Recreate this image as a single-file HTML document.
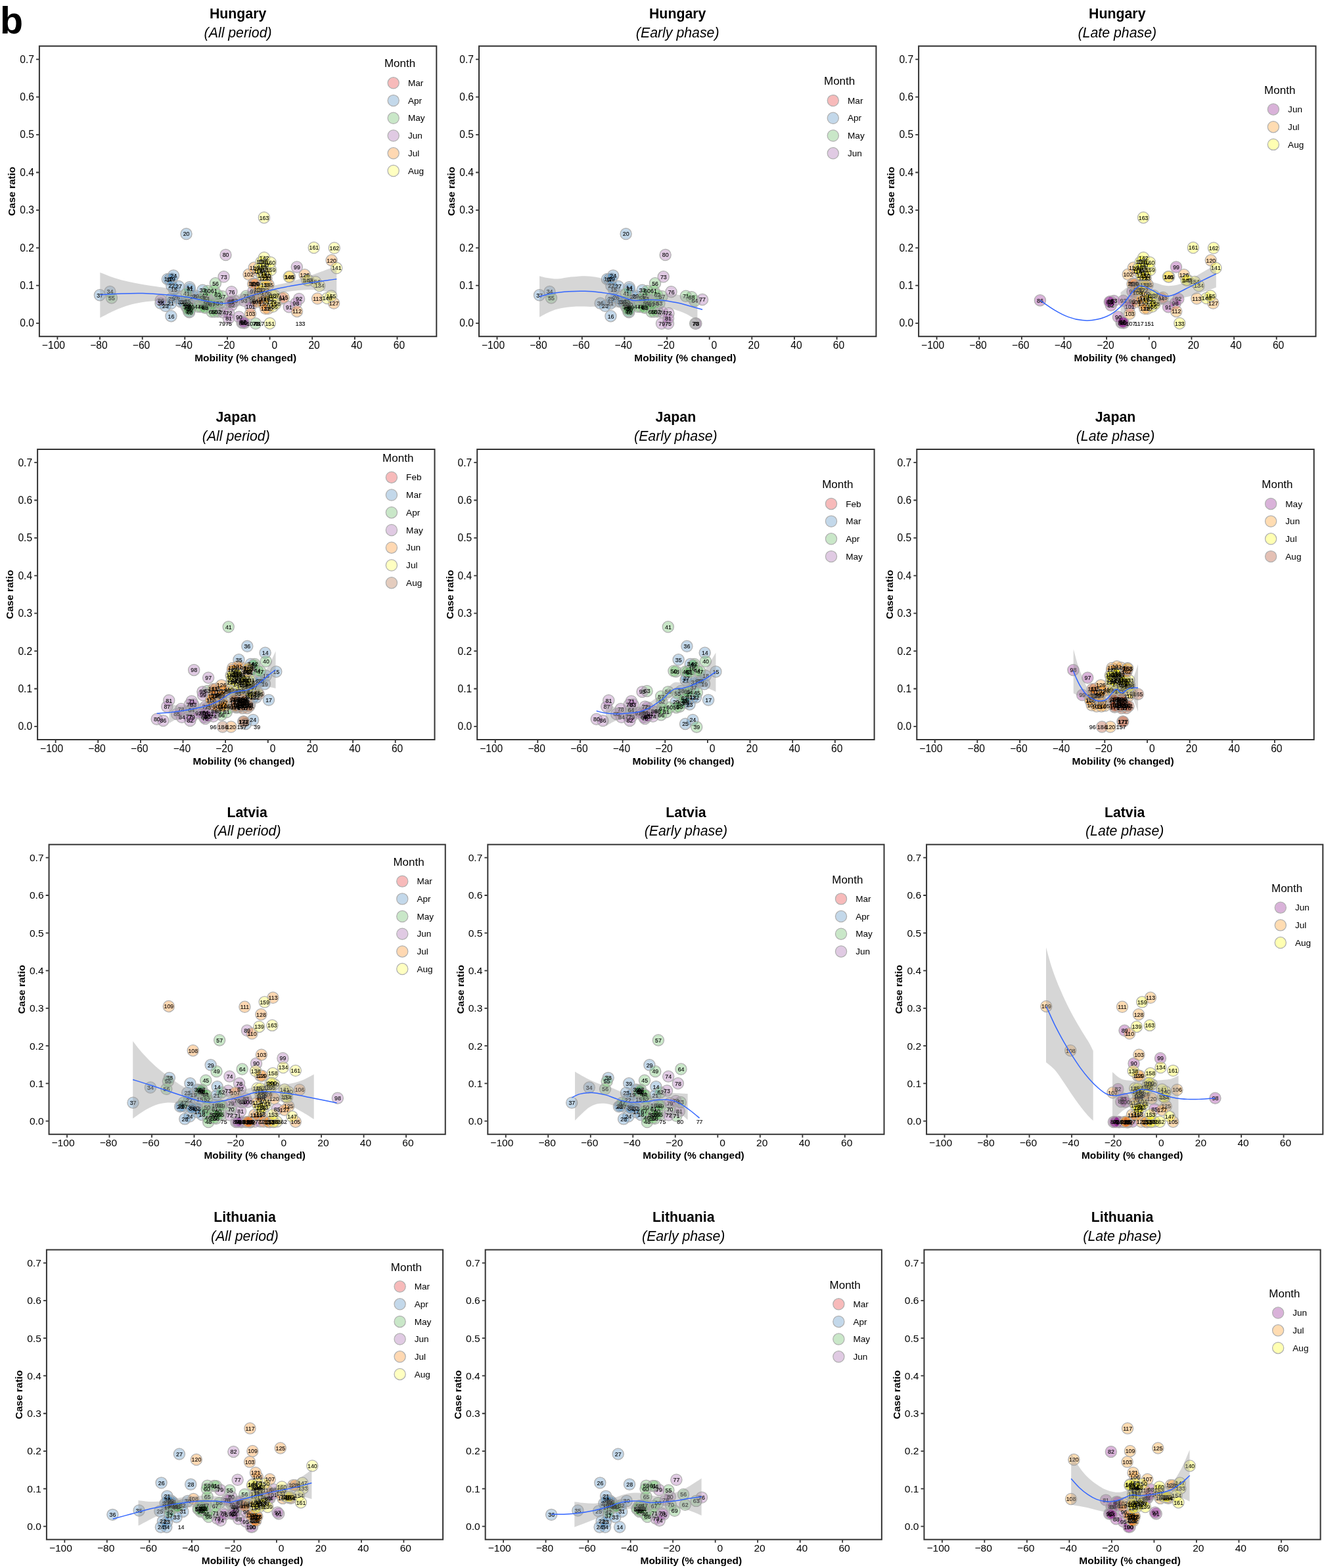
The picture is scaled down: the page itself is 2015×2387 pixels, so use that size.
<!DOCTYPE html>
<html lang="en">
<head>
<meta charset="utf-8">
<title>Mobility and case ratio by country</title>
<style>
html,body{margin:0;padding:0;background:#fff;}
body{width:2015px;height:2387px;overflow:hidden;}
svg{display:block;font-family:"Liberation Sans",Arial,Helvetica,sans-serif;}
.ttl{font-size:21.3px;font-weight:bold;text-anchor:middle;fill:#000;}
.sub{font-size:21.3px;font-style:italic;text-anchor:middle;fill:#000;}
.at{font-size:15.5px;font-weight:bold;text-anchor:middle;fill:#000;}
.yl text{font-size:15.6px;text-anchor:end;fill:#000;}
.xl text{font-size:15.6px;text-anchor:end;fill:#000;}
.lt{font-size:17px;fill:#000;}
.ll text{font-size:13.6px;fill:#000;}
.lab text{font-size:9.6px;text-anchor:middle;fill:#000;stroke:#000;stroke-width:.12px;}
.pts circle{stroke:#b0b0b0;stroke-width:1.25;}
.fr{fill:none;stroke:#333;stroke-width:2;}
.tk{fill:none;stroke:#333;stroke-width:1.8;}
.rib{fill:#999;fill-opacity:.4;stroke:none;}
.sm{fill:none;stroke:#3366FF;stroke-width:1.5;stroke-linejoin:round;}
.big{font-size:57.4px;font-weight:bold;fill:#000;}
</style>
</head>
<body>
<svg width="2015" height="2387" viewBox="0 0 2015 2387">
<rect width="2015" height="2387" fill="#fff"/>
<text class="big" x="0" y="50.8">b</text>

<g class="row" transform="translate(59.9 70.2)">
<g class="panel">
<text class="ttl" x="302.2" y="-42.2">Hungary</text>
<text class="sub" x="302.2" y="-13.3">(All period)</text>
<g class="pts" fill-opacity="0.3">
<circle cx="221.8" cy="392.4" r="8.6" fill="#377EB8"/>
<circle cx="223.6" cy="396" r="8.6" fill="#377EB8"/>
<circle cx="228.6" cy="367" r="8.6" fill="#377EB8"/>
<circle cx="205" cy="370.2" r="8.6" fill="#377EB8"/>
<circle cx="200.5" cy="411" r="8.6" fill="#377EB8"/>
<circle cx="198.2" cy="355" r="8.6" fill="#377EB8"/>
<circle cx="195" cy="354.7" r="8.6" fill="#377EB8"/>
<circle cx="201.6" cy="354.3" r="8.6" fill="#377EB8"/>
<circle cx="223.6" cy="285.9" r="8.6" fill="#377EB8"/>
<circle cx="200" cy="391.9" r="8.6" fill="#377EB8"/>
<circle cx="201.4" cy="364.7" r="8.6" fill="#377EB8"/>
<circle cx="191.9" cy="395.6" r="8.6" fill="#377EB8"/>
<circle cx="204.1" cy="349.3" r="8.6" fill="#377EB8"/>
<circle cx="200.9" cy="384.2" r="8.6" fill="#377EB8"/>
<circle cx="208.6" cy="382.9" r="8.6" fill="#377EB8"/>
<circle cx="212" cy="365.7" r="8.6" fill="#377EB8"/>
<circle cx="234.5" cy="381.5" r="8.6" fill="#377EB8"/>
<circle cx="238.1" cy="380.6" r="8.6" fill="#377EB8"/>
<circle cx="229.1" cy="393.3" r="8.6" fill="#377EB8"/>
<circle cx="229.1" cy="369.7" r="8.6" fill="#377EB8"/>
<circle cx="215.5" cy="389.2" r="8.6" fill="#377EB8"/>
<circle cx="248.5" cy="371.5" r="8.6" fill="#377EB8"/>
<circle cx="107.5" cy="373.9" r="8.6" fill="#377EB8"/>
<circle cx="225.4" cy="388.7" r="8.6" fill="#377EB8"/>
<circle cx="184.6" cy="391.5" r="8.6" fill="#377EB8"/>
<circle cx="92" cy="379.1" r="8.6" fill="#377EB8"/>
<circle cx="219.1" cy="389.6" r="8.6" fill="#377EB8"/>
<circle cx="230.9" cy="397.4" r="8.6" fill="#377EB8"/>
<circle cx="228.2" cy="405.1" r="8.6" fill="#377EB8"/>
<circle cx="224" cy="376.5" r="8.6" fill="#4DAF4A"/>
<circle cx="251.7" cy="379.3" r="8.6" fill="#4DAF4A"/>
<circle cx="224.5" cy="393.3" r="8.6" fill="#4DAF4A"/>
<circle cx="226.8" cy="396.5" r="8.6" fill="#4DAF4A"/>
<circle cx="225.4" cy="399.2" r="8.6" fill="#4DAF4A"/>
<circle cx="229.1" cy="400.6" r="8.6" fill="#4DAF4A"/>
<circle cx="240.9" cy="396.5" r="8.6" fill="#4DAF4A"/>
<circle cx="245.8" cy="396.9" r="8.6" fill="#4DAF4A"/>
<circle cx="227.2" cy="403.7" r="8.6" fill="#4DAF4A"/>
<circle cx="266.7" cy="404.2" r="8.6" fill="#4DAF4A"/>
<circle cx="254.5" cy="391" r="8.6" fill="#4DAF4A"/>
<circle cx="271.7" cy="404.2" r="8.6" fill="#4DAF4A"/>
<circle cx="274.4" cy="391.5" r="8.6" fill="#4DAF4A"/>
<circle cx="254" cy="384" r="8.6" fill="#4DAF4A"/>
<circle cx="110" cy="383.2" r="8.6" fill="#4DAF4A"/>
<circle cx="268" cy="361.1" r="8.6" fill="#4DAF4A"/>
<circle cx="278.5" cy="381" r="8.6" fill="#4DAF4A"/>
<circle cx="268.5" cy="391" r="8.6" fill="#4DAF4A"/>
<circle cx="248.1" cy="383.8" r="8.6" fill="#4DAF4A"/>
<circle cx="255.8" cy="372.9" r="8.6" fill="#4DAF4A"/>
<circle cx="265.8" cy="372" r="8.6" fill="#4DAF4A"/>
<circle cx="271.2" cy="378.8" r="8.6" fill="#4DAF4A"/>
<circle cx="252.6" cy="398.3" r="8.6" fill="#4DAF4A"/>
<circle cx="328.3" cy="387.8" r="8.6" fill="#4DAF4A"/>
<circle cx="258.1" cy="391.9" r="8.6" fill="#4DAF4A"/>
<circle cx="262.6" cy="404.2" r="8.6" fill="#4DAF4A"/>
<circle cx="262.6" cy="393.3" r="8.6" fill="#4DAF4A"/>
<circle cx="323.4" cy="382" r="8.6" fill="#4DAF4A"/>
<circle cx="251.3" cy="397.8" r="8.6" fill="#4DAF4A"/>
<circle cx="329.1" cy="422.4" r="8.6" fill="#4DAF4A"/>
<circle cx="314.8" cy="380.6" r="8.6" fill="#4DAF4A"/>
<circle cx="288.5" cy="406.9" r="8.6" fill="#984EA3"/>
<circle cx="280.7" cy="351.1" r="8.6" fill="#984EA3"/>
<circle cx="278.9" cy="405.1" r="8.6" fill="#984EA3"/>
<circle cx="292.5" cy="374" r="8.6" fill="#984EA3"/>
<circle cx="340" cy="385.9" r="8.6" fill="#984EA3"/>
<circle cx="283.6" cy="317.8" r="8.6" fill="#984EA3"/>
<circle cx="288" cy="414.6" r="8.6" fill="#984EA3"/>
<circle cx="292.6" cy="394.5" r="8.6" fill="#984EA3"/>
<circle cx="297.2" cy="387.9" r="8.6" fill="#984EA3"/>
<circle cx="308.6" cy="421" r="8.6" fill="#984EA3"/>
<circle cx="292.1" cy="388.9" r="8.6" fill="#984EA3"/>
<circle cx="184.8" cy="387" r="8.6" fill="#984EA3"/>
<circle cx="309.4" cy="419.5" r="8.6" fill="#984EA3"/>
<circle cx="290.6" cy="389.4" r="8.6" fill="#984EA3"/>
<circle cx="312" cy="421.5" r="8.6" fill="#984EA3"/>
<circle cx="303.8" cy="412.3" r="8.6" fill="#984EA3"/>
<circle cx="379.9" cy="397.1" r="8.6" fill="#984EA3"/>
<circle cx="395.2" cy="384.8" r="8.6" fill="#984EA3"/>
<circle cx="311.5" cy="387.6" r="8.6" fill="#984EA3"/>
<circle cx="369.1" cy="384.3" r="8.6" fill="#984EA3"/>
<circle cx="311" cy="420.5" r="8.6" fill="#984EA3"/>
<circle cx="324.8" cy="388.2" r="8.6" fill="#984EA3"/>
<circle cx="325.3" cy="373.6" r="8.6" fill="#984EA3"/>
<circle cx="390.6" cy="391.4" r="8.6" fill="#984EA3"/>
<circle cx="391.9" cy="336.3" r="8.6" fill="#984EA3"/>
<circle cx="327.3" cy="361.3" r="8.6" fill="#984EA3"/>
<circle cx="321.2" cy="396.5" r="8.6" fill="#984EA3"/>
<circle cx="318.6" cy="347.6" r="8.6" fill="#FF7F00"/>
<circle cx="321.2" cy="407.3" r="8.6" fill="#FF7F00"/>
<circle cx="325.3" cy="361.9" r="8.6" fill="#FF7F00"/>
<circle cx="381.1" cy="351.1" r="8.6" fill="#FF7F00"/>
<circle cx="332.9" cy="375.1" r="8.6" fill="#FF7F00"/>
<circle cx="330.9" cy="389.4" r="8.6" fill="#FF7F00"/>
<circle cx="345.2" cy="377.1" r="8.6" fill="#FF7F00"/>
<circle cx="348.2" cy="399.6" r="8.6" fill="#FF7F00"/>
<circle cx="339" cy="385.3" r="8.6" fill="#FF7F00"/>
<circle cx="392.1" cy="403.7" r="8.6" fill="#FF7F00"/>
<circle cx="423.2" cy="384.3" r="8.6" fill="#FF7F00"/>
<circle cx="326.8" cy="337.4" r="8.6" fill="#FF7F00"/>
<circle cx="371.7" cy="382.8" r="8.6" fill="#FF7F00"/>
<circle cx="332.9" cy="342.5" r="8.6" fill="#FF7F00"/>
<circle cx="341.6" cy="340.9" r="8.6" fill="#FF7F00"/>
<circle cx="328.8" cy="362.3" r="8.6" fill="#FF7F00"/>
<circle cx="444.7" cy="326.1" r="8.6" fill="#FF7F00"/>
<circle cx="344.2" cy="345.5" r="8.6" fill="#FF7F00"/>
<circle cx="342.1" cy="371.5" r="8.6" fill="#FF7F00"/>
<circle cx="345.7" cy="353.7" r="8.6" fill="#FF7F00"/>
<circle cx="341.6" cy="353.7" r="8.6" fill="#FF7F00"/>
<circle cx="348.7" cy="363.4" r="8.6" fill="#FF7F00"/>
<circle cx="403.8" cy="348.1" r="8.6" fill="#FF7F00"/>
<circle cx="448.2" cy="391.4" r="8.6" fill="#FF7F00"/>
<circle cx="343.1" cy="383.3" r="8.6" fill="#FF7F00"/>
<circle cx="353.3" cy="389.4" r="8.6" fill="#FF7F00"/>
<circle cx="341.1" cy="392.5" r="8.6" fill="#FF7F00"/>
<circle cx="344.2" cy="399.6" r="8.6" fill="#FF7F00"/>
<circle cx="333.9" cy="370" r="8.6" fill="#FF7F00"/>
<circle cx="426.3" cy="364.9" r="8.6" fill="#FFFF33"/>
<circle cx="344.2" cy="363.4" r="8.6" fill="#FFFF33"/>
<circle cx="340" cy="328.2" r="8.6" fill="#FFFF33"/>
<circle cx="337" cy="371.1" r="8.6" fill="#FFFF33"/>
<circle cx="337.5" cy="328.7" r="8.6" fill="#FFFF33"/>
<circle cx="339" cy="336.3" r="8.6" fill="#FFFF33"/>
<circle cx="379.9" cy="351.1" r="8.6" fill="#FFFF33"/>
<circle cx="452.3" cy="337.9" r="8.6" fill="#FFFF33"/>
<circle cx="342.1" cy="322" r="8.6" fill="#FFFF33"/>
<circle cx="409.4" cy="356.2" r="8.6" fill="#FFFF33"/>
<circle cx="337" cy="343.5" r="8.6" fill="#FFFF33"/>
<circle cx="339" cy="349.1" r="8.6" fill="#FFFF33"/>
<circle cx="333.9" cy="338.4" r="8.6" fill="#FFFF33"/>
<circle cx="343.1" cy="333.3" r="8.6" fill="#FFFF33"/>
<circle cx="438" cy="383.8" r="8.6" fill="#FFFF33"/>
<circle cx="407.4" cy="356.2" r="8.6" fill="#FFFF33"/>
<circle cx="345.2" cy="349.1" r="8.6" fill="#FFFF33"/>
<circle cx="350.8" cy="422" r="8.6" fill="#FFFF33"/>
<circle cx="354.9" cy="380" r="8.6" fill="#FFFF33"/>
<circle cx="349.3" cy="385.3" r="8.6" fill="#FFFF33"/>
<circle cx="420.2" cy="358.8" r="8.6" fill="#FFFF33"/>
<circle cx="444.2" cy="380.2" r="8.6" fill="#FFFF33"/>
<circle cx="355.4" cy="396.5" r="8.6" fill="#FFFF33"/>
<circle cx="357.9" cy="379.7" r="8.6" fill="#FFFF33"/>
<circle cx="359.4" cy="392.5" r="8.6" fill="#FFFF33"/>
<circle cx="352.3" cy="340.9" r="8.6" fill="#FFFF33"/>
<circle cx="351.8" cy="329.2" r="8.6" fill="#FFFF33"/>
<circle cx="417.8" cy="306.9" r="8.6" fill="#FFFF33"/>
<circle cx="448.9" cy="307.3" r="8.6" fill="#FFFF33"/>
<circle cx="342" cy="261" r="8.6" fill="#FFFF33"/>
</g>
<g class="lab" transform="scale(0.92 1)">
<text x="241.2" y="395.8">12</text>
<text x="243.1" y="399.4">13</text>
<text x="248.6" y="370.4">14</text>
<text x="222.9" y="373.6">15</text>
<text x="218" y="414.4">16</text>
<text x="215.6" y="358.4">17</text>
<text x="212.1" y="358.1">18</text>
<text x="219.3" y="357.7">19</text>
<text x="243.1" y="289.3">20</text>
<text x="217.5" y="395.3">21</text>
<text x="219" y="368.1">22</text>
<text x="208.6" y="399">23</text>
<text x="222" y="352.7">24</text>
<text x="218.5" y="387.6">25</text>
<text x="226.9" y="386.3">26</text>
<text x="230.5" y="369.1">27</text>
<text x="255" y="384.9">28</text>
<text x="258.9" y="384">29</text>
<text x="249.1" y="396.7">30</text>
<text x="249.1" y="373.1">31</text>
<text x="234.3" y="392.6">32</text>
<text x="270.3" y="374.9">33</text>
<text x="117" y="377.3">34</text>
<text x="245.1" y="392.1">35</text>
<text x="200.8" y="394.9">36</text>
<text x="100.2" y="382.5">37</text>
<text x="238.2" y="393">38</text>
<text x="251.1" y="400.8">39</text>
<text x="248.1" y="408.5">40</text>
<text x="243.6" y="379.9">41</text>
<text x="273.7" y="382.7">42</text>
<text x="244.1" y="396.7">43</text>
<text x="246.6" y="399.9">44</text>
<text x="245.1" y="402.6">45</text>
<text x="249.1" y="404">46</text>
<text x="261.9" y="399.9">47</text>
<text x="267.3" y="400.3">48</text>
<text x="247.1" y="407.1">49</text>
<text x="290" y="407.6">50</text>
<text x="276.7" y="394.4">51</text>
<text x="295.4" y="407.6">52</text>
<text x="298.4" y="394.9">53</text>
<text x="276.2" y="387.4">54</text>
<text x="119.6" y="386.6">55</text>
<text x="291.5" y="364.5">56</text>
<text x="302.8" y="384.4">57</text>
<text x="292" y="394.4">58</text>
<text x="269.8" y="387.2">59</text>
<text x="278.2" y="376.3">60</text>
<text x="289" y="375.4">61</text>
<text x="294.9" y="382.2">62</text>
<text x="274.7" y="401.7">63</text>
<text x="356.9" y="391.2">64</text>
<text x="280.6" y="395.3">65</text>
<text x="285.6" y="407.6">66</text>
<text x="285.6" y="396.7">67</text>
<text x="351.6" y="385.4">68</text>
<text x="273.2" y="401.2">69</text>
<text x="357.8" y="425.8">70</text>
<text x="342.3" y="384">71</text>
<text x="313.7" y="410.3">72</text>
<text x="305.3" y="354.5">73</text>
<text x="303.3" y="408.5">74</text>
<text x="313.2" y="425.7">75</text>
<text x="318.1" y="377.4">76</text>
<text x="369.6" y="389.3">77</text>
<text x="359.3" y="425.8">78</text>
<text x="302.3" y="425.7">79</text>
<text x="308.4" y="321.2">80</text>
<text x="313.2" y="418">81</text>
<text x="318.2" y="397.9">82</text>
<text x="323.1" y="391.3">83</text>
<text x="335.6" y="424.4">84</text>
<text x="317.6" y="392.3">85</text>
<text x="201" y="390.4">86</text>
<text x="336.5" y="422.9">87</text>
<text x="315.9" y="392.8">88</text>
<text x="339.2" y="424.9">89</text>
<text x="330.4" y="415.7">90</text>
<text x="413" y="400.5">91</text>
<text x="429.6" y="388.2">92</text>
<text x="338.7" y="391">93</text>
<text x="401.3" y="387.7">94</text>
<text x="338.1" y="423.9">95</text>
<text x="353.1" y="391.6">96</text>
<text x="353.7" y="377">97</text>
<text x="424.6" y="394.8">98</text>
<text x="426.1" y="339.7">99</text>
<text x="355.9" y="364.7">100</text>
<text x="349.2" y="399.9">101</text>
<text x="346.4" y="351">102</text>
<text x="349.2" y="410.7">103</text>
<text x="353.7" y="365.3">104</text>
<text x="414.3" y="354.5">105</text>
<text x="362" y="378.5">106</text>
<text x="350.9" y="425.4">107</text>
<text x="359.7" y="392.8">108</text>
<text x="375.3" y="380.5">109</text>
<text x="378.6" y="403">110</text>
<text x="368.6" y="388.7">111</text>
<text x="426.3" y="407.1">112</text>
<text x="460.2" y="387.7">113</text>
<text x="355.3" y="340.8">114</text>
<text x="404.1" y="386.2">115</text>
<text x="362" y="345.9">116</text>
<text x="364.7" y="425.4">117</text>
<text x="371.4" y="344.3">118</text>
<text x="357.5" y="365.7">119</text>
<text x="483.4" y="329.5">120</text>
<text x="374.2" y="348.9">121</text>
<text x="372" y="374.9">122</text>
<text x="375.8" y="357.1">123</text>
<text x="371.4" y="357.1">124</text>
<text x="379.2" y="366.8">125</text>
<text x="439.1" y="351.5">126</text>
<text x="487.3" y="394.8">127</text>
<text x="373.1" y="386.7">128</text>
<text x="384.2" y="392.8">129</text>
<text x="370.8" y="395.9">130</text>
<text x="374.2" y="403">131</text>
<text x="363.1" y="373.4">132</text>
<text x="431.8" y="425.4">133</text>
<text x="463.5" y="368.3">134</text>
<text x="374.2" y="366.8">135</text>
<text x="369.7" y="331.6">136</text>
<text x="366.4" y="374.5">137</text>
<text x="367" y="332.1">138</text>
<text x="368.6" y="339.7">139</text>
<text x="413" y="354.5">140</text>
<text x="491.7" y="341.3">141</text>
<text x="372" y="325.4">142</text>
<text x="445.2" y="359.6">143</text>
<text x="366.4" y="346.9">144</text>
<text x="368.6" y="352.5">145</text>
<text x="363.1" y="341.8">146</text>
<text x="373.1" y="336.7">147</text>
<text x="476.2" y="387.2">148</text>
<text x="442.9" y="359.6">149</text>
<text x="375.3" y="352.5">150</text>
<text x="381.4" y="425.4">151</text>
<text x="385.8" y="383.4">152</text>
<text x="379.7" y="388.7">153</text>
<text x="456.8" y="362.2">154</text>
<text x="482.9" y="383.6">155</text>
<text x="386.4" y="399.9">156</text>
<text x="389.2" y="383.1">157</text>
<text x="390.8" y="395.9">158</text>
<text x="383" y="344.3">159</text>
<text x="382.5" y="332.6">160</text>
<text x="454.3" y="310.3">161</text>
<text x="488" y="310.7">162</text>
<text x="371.9" y="264.4">163</text>
</g>
<path class="rib" d="M92.4 344.6C96 346 106.8 350.5 114 352.8C121.1 355.1 128.3 356.9 135.5 358.6C142.7 360.3 149.9 361.6 157 362.9C164.2 364.2 171.4 365 178.6 366.1C185.8 367.2 191.2 368 200.1 369.4C209.1 370.8 221.7 372.8 232.5 374.7C243.2 376.7 256.5 379.8 264.7 381.2C273 382.6 276.6 383.5 282 383.3C287.4 383.2 291 381.8 297.1 380.1C303.2 378.4 311.4 375 318.6 373C325.8 371 333 369.4 340.1 367.8C347.3 366.3 354.5 365.1 361.7 363.5C368.9 362 374.3 361.1 383.2 358.6C392.2 356.1 406.1 351.6 415.5 348.4C425 345.2 434 341.5 440.1 339.4C446.3 337.3 450.3 336.6 452.4 336L452.4 377.3C450.3 376.8 446.3 375.4 440.1 374.3C434 373.3 425 371.1 415.5 370.9C406.1 370.7 392.2 372 383.2 373C374.3 374 368.9 375.3 361.7 376.9C354.5 378.6 347.3 380.6 340.1 382.9C333 385.3 325.8 388.4 318.6 390.9C311.4 393.4 303.2 396.5 297.1 398C291 399.6 287.4 400.1 282 400.2C276.6 400.2 273 399.6 264.7 398.4C256.5 397.2 243.2 394.7 232.5 393C221.7 391.4 209.1 389.6 200.1 388.7C191.2 387.8 185.8 387.5 178.6 387.7C171.4 387.9 164.2 388.7 157 389.8C149.9 391 142.7 392.4 135.5 394.6C128.3 396.7 121.1 399.6 114 402.7C106.8 405.9 96 411.7 92.4 413.5Z"/>
<path class="sm" d="M92.4 378.6C97.8 378.3 114 377.3 124.7 376.9C135.5 376.5 146.3 376.2 157 376.4C167.8 376.7 178.6 377.3 189.3 378.2C200.1 379 212.7 380.3 221.7 381.6C230.6 382.9 236 384.5 243.2 385.9C250.4 387.3 258.3 388.9 264.7 389.8C271.2 390.8 276.6 391.7 282 391.5C287.4 391.4 291 390.5 297.1 388.7C303.2 387 311.4 383.5 318.6 381.2C325.8 378.9 333 376.7 340.1 374.7C347.3 372.8 354.5 371 361.7 369.4C368.9 367.8 374.3 366.6 383.2 365C392.2 363.4 406.1 361.1 415.5 359.7C425 358.2 434 357.3 440.1 356.4C446.3 355.6 450.3 354.8 452.4 354.5"/>
<rect class="fr" x="0" y="0" width="604.4" height="442"/>
<path class="tk" d="M-0.7 421.9h-4.2M-0.7 364.5h-4.2M-0.7 307.1h-4.2M-0.7 249.7h-4.2M-0.7 192.3h-4.2M-0.7 134.9h-4.2M-0.7 77.5h-4.2M-0.7 20.1h-4.2M27.5 442.7v4.2M92.1 442.7v4.2M156.8 442.7v4.2M221.4 442.7v4.2M286 442.7v4.2M350.7 442.7v4.2M415.3 442.7v4.2M480 442.7v4.2M544.6 442.7v4.2"/>
<g class="yl">
<text x="-8" y="427.3">0.0</text>
<text x="-8" y="369.9">0.1</text>
<text x="-8" y="312.5">0.2</text>
<text x="-8" y="255.1">0.3</text>
<text x="-8" y="197.7">0.4</text>
<text x="-8" y="140.3">0.5</text>
<text x="-8" y="82.9">0.6</text>
<text x="-8" y="25.5">0.7</text>
</g>
<g class="xl">
<text x="39.1" y="460.6">−100</text>
<text x="103.7" y="460.6">−80</text>
<text x="168.4" y="460.6">−60</text>
<text x="233" y="460.6">−40</text>
<text x="297.6" y="460.6">−20</text>
<text x="362.3" y="460.6">0</text>
<text x="426.9" y="460.6">20</text>
<text x="491.6" y="460.6">40</text>
<text x="556.2" y="460.6">60</text>
</g>
<text class="at" x="313.8" y="479.8">Mobility (% changed)</text>
<text class="at" transform="translate(-36.7 221) rotate(-90)">Case ratio</text>
<text class="lt" x="525" y="32.3">Month</text>
<g class="pts" fill-opacity="0.3">
<circle cx="538.8" cy="56.1" r="8.6" fill="#E41A1C"/>
<circle cx="538.8" cy="82.9" r="8.6" fill="#377EB8"/>
<circle cx="538.8" cy="109.6" r="8.6" fill="#4DAF4A"/>
<circle cx="538.8" cy="136.3" r="8.6" fill="#984EA3"/>
<circle cx="538.8" cy="163.1" r="8.6" fill="#FF7F00"/>
<circle cx="538.8" cy="189.8" r="8.6" fill="#FFFF33"/>
</g>
<g class="ll">
<text x="561" y="60.8">Mar</text>
<text x="561" y="87.6">Apr</text>
<text x="561" y="114.3">May</text>
<text x="561" y="141">Jun</text>
<text x="561" y="167.8">Jul</text>
<text x="561" y="194.5">Aug</text>
</g>
</g>
<g class="panel">
<text class="ttl" x="971.3" y="-42.2">Hungary</text>
<text class="sub" x="971.3" y="-13.3">(Early phase)</text>
<g class="pts" fill-opacity="0.3">
<circle cx="890.9" cy="392.4" r="8.6" fill="#377EB8"/>
<circle cx="892.7" cy="396" r="8.6" fill="#377EB8"/>
<circle cx="897.7" cy="367" r="8.6" fill="#377EB8"/>
<circle cx="874.1" cy="370.2" r="8.6" fill="#377EB8"/>
<circle cx="869.6" cy="411" r="8.6" fill="#377EB8"/>
<circle cx="867.3" cy="355" r="8.6" fill="#377EB8"/>
<circle cx="864.1" cy="354.7" r="8.6" fill="#377EB8"/>
<circle cx="870.7" cy="354.3" r="8.6" fill="#377EB8"/>
<circle cx="892.7" cy="285.9" r="8.6" fill="#377EB8"/>
<circle cx="869.1" cy="391.9" r="8.6" fill="#377EB8"/>
<circle cx="870.5" cy="364.7" r="8.6" fill="#377EB8"/>
<circle cx="861" cy="395.6" r="8.6" fill="#377EB8"/>
<circle cx="873.2" cy="349.3" r="8.6" fill="#377EB8"/>
<circle cx="870" cy="384.2" r="8.6" fill="#377EB8"/>
<circle cx="877.7" cy="382.9" r="8.6" fill="#377EB8"/>
<circle cx="881.1" cy="365.7" r="8.6" fill="#377EB8"/>
<circle cx="903.6" cy="381.5" r="8.6" fill="#377EB8"/>
<circle cx="907.2" cy="380.6" r="8.6" fill="#377EB8"/>
<circle cx="898.2" cy="393.3" r="8.6" fill="#377EB8"/>
<circle cx="898.2" cy="369.7" r="8.6" fill="#377EB8"/>
<circle cx="884.6" cy="389.2" r="8.6" fill="#377EB8"/>
<circle cx="917.6" cy="371.5" r="8.6" fill="#377EB8"/>
<circle cx="776.6" cy="373.9" r="8.6" fill="#377EB8"/>
<circle cx="894.5" cy="388.7" r="8.6" fill="#377EB8"/>
<circle cx="853.7" cy="391.5" r="8.6" fill="#377EB8"/>
<circle cx="761.1" cy="379.1" r="8.6" fill="#377EB8"/>
<circle cx="888.2" cy="389.6" r="8.6" fill="#377EB8"/>
<circle cx="900" cy="397.4" r="8.6" fill="#377EB8"/>
<circle cx="897.3" cy="405.1" r="8.6" fill="#377EB8"/>
<circle cx="893.1" cy="376.5" r="8.6" fill="#4DAF4A"/>
<circle cx="920.8" cy="379.3" r="8.6" fill="#4DAF4A"/>
<circle cx="893.6" cy="393.3" r="8.6" fill="#4DAF4A"/>
<circle cx="895.9" cy="396.5" r="8.6" fill="#4DAF4A"/>
<circle cx="894.5" cy="399.2" r="8.6" fill="#4DAF4A"/>
<circle cx="898.2" cy="400.6" r="8.6" fill="#4DAF4A"/>
<circle cx="910" cy="396.5" r="8.6" fill="#4DAF4A"/>
<circle cx="914.9" cy="396.9" r="8.6" fill="#4DAF4A"/>
<circle cx="896.3" cy="403.7" r="8.6" fill="#4DAF4A"/>
<circle cx="935.8" cy="404.2" r="8.6" fill="#4DAF4A"/>
<circle cx="923.6" cy="391" r="8.6" fill="#4DAF4A"/>
<circle cx="940.8" cy="404.2" r="8.6" fill="#4DAF4A"/>
<circle cx="943.5" cy="391.5" r="8.6" fill="#4DAF4A"/>
<circle cx="923.1" cy="384" r="8.6" fill="#4DAF4A"/>
<circle cx="779.1" cy="383.2" r="8.6" fill="#4DAF4A"/>
<circle cx="937.1" cy="361.1" r="8.6" fill="#4DAF4A"/>
<circle cx="947.6" cy="381" r="8.6" fill="#4DAF4A"/>
<circle cx="937.6" cy="391" r="8.6" fill="#4DAF4A"/>
<circle cx="917.2" cy="383.8" r="8.6" fill="#4DAF4A"/>
<circle cx="924.9" cy="372.9" r="8.6" fill="#4DAF4A"/>
<circle cx="934.9" cy="372" r="8.6" fill="#4DAF4A"/>
<circle cx="940.3" cy="378.8" r="8.6" fill="#4DAF4A"/>
<circle cx="921.7" cy="398.3" r="8.6" fill="#4DAF4A"/>
<circle cx="997.4" cy="387.8" r="8.6" fill="#4DAF4A"/>
<circle cx="927.2" cy="391.9" r="8.6" fill="#4DAF4A"/>
<circle cx="931.7" cy="404.2" r="8.6" fill="#4DAF4A"/>
<circle cx="931.7" cy="393.3" r="8.6" fill="#4DAF4A"/>
<circle cx="992.5" cy="382" r="8.6" fill="#4DAF4A"/>
<circle cx="920.4" cy="397.8" r="8.6" fill="#4DAF4A"/>
<circle cx="998.2" cy="422.4" r="8.6" fill="#4DAF4A"/>
<circle cx="983.9" cy="380.6" r="8.6" fill="#4DAF4A"/>
<circle cx="957.6" cy="406.9" r="8.6" fill="#984EA3"/>
<circle cx="949.8" cy="351.1" r="8.6" fill="#984EA3"/>
<circle cx="948" cy="405.1" r="8.6" fill="#984EA3"/>
<circle cx="957.1" cy="422.3" r="8.6" fill="#984EA3"/>
<circle cx="961.6" cy="374" r="8.6" fill="#984EA3"/>
<circle cx="1009.1" cy="385.9" r="8.6" fill="#984EA3"/>
<circle cx="999.5" cy="422.4" r="8.6" fill="#984EA3"/>
<circle cx="947.1" cy="422.3" r="8.6" fill="#984EA3"/>
<circle cx="952.7" cy="317.8" r="8.6" fill="#984EA3"/>
<circle cx="957.1" cy="414.6" r="8.6" fill="#984EA3"/>
</g>
<g class="lab" transform="scale(0.92 1)">
<text x="968.5" y="395.8">12</text>
<text x="970.4" y="399.4">13</text>
<text x="975.9" y="370.4">14</text>
<text x="950.2" y="373.6">15</text>
<text x="945.3" y="414.4">16</text>
<text x="942.9" y="358.4">17</text>
<text x="939.4" y="358.1">18</text>
<text x="946.6" y="357.7">19</text>
<text x="970.4" y="289.3">20</text>
<text x="944.8" y="395.3">21</text>
<text x="946.3" y="368.1">22</text>
<text x="935.9" y="399">23</text>
<text x="949.2" y="352.7">24</text>
<text x="945.8" y="387.6">25</text>
<text x="954.2" y="386.3">26</text>
<text x="957.8" y="369.1">27</text>
<text x="982.3" y="384.9">28</text>
<text x="986.2" y="384">29</text>
<text x="976.4" y="396.7">30</text>
<text x="976.4" y="373.1">31</text>
<text x="961.6" y="392.6">32</text>
<text x="997.6" y="374.9">33</text>
<text x="844.2" y="377.3">34</text>
<text x="972.4" y="392.1">35</text>
<text x="928.1" y="394.9">36</text>
<text x="827.4" y="382.5">37</text>
<text x="965.5" y="393">38</text>
<text x="978.3" y="400.8">39</text>
<text x="975.4" y="408.5">40</text>
<text x="970.9" y="379.9">41</text>
<text x="1001" y="382.7">42</text>
<text x="971.4" y="396.7">43</text>
<text x="973.9" y="399.9">44</text>
<text x="972.4" y="402.6">45</text>
<text x="976.4" y="404">46</text>
<text x="989.2" y="399.9">47</text>
<text x="994.6" y="400.3">48</text>
<text x="974.4" y="407.1">49</text>
<text x="1017.3" y="407.6">50</text>
<text x="1004" y="394.4">51</text>
<text x="1022.7" y="407.6">52</text>
<text x="1025.7" y="394.9">53</text>
<text x="1003.5" y="387.4">54</text>
<text x="846.9" y="386.6">55</text>
<text x="1018.7" y="364.5">56</text>
<text x="1030.1" y="384.4">57</text>
<text x="1019.3" y="394.4">58</text>
<text x="997.1" y="387.2">59</text>
<text x="1005.5" y="376.3">60</text>
<text x="1016.3" y="375.4">61</text>
<text x="1022.2" y="382.2">62</text>
<text x="1002" y="401.7">63</text>
<text x="1084.2" y="391.2">64</text>
<text x="1007.9" y="395.3">65</text>
<text x="1012.8" y="407.6">66</text>
<text x="1012.8" y="396.7">67</text>
<text x="1078.9" y="385.4">68</text>
<text x="1000.5" y="401.2">69</text>
<text x="1085.1" y="425.8">70</text>
<text x="1069.5" y="384">71</text>
<text x="1040.9" y="410.3">72</text>
<text x="1032.5" y="354.5">73</text>
<text x="1030.6" y="408.5">74</text>
<text x="1040.4" y="425.7">75</text>
<text x="1045.4" y="377.4">76</text>
<text x="1096.9" y="389.3">77</text>
<text x="1086.5" y="425.8">78</text>
<text x="1029.6" y="425.7">79</text>
<text x="1035.6" y="321.2">80</text>
<text x="1040.4" y="418">81</text>
</g>
<path class="rib" d="M761.1 350C763.1 350.5 768.3 352.1 773 352.8C777.7 353.5 783.4 354.5 789.4 354.3C795.5 354 802.3 352.1 809.1 351.4C816 350.7 824.2 350 830.5 350C836.8 350.1 841.5 350.5 847 351.6C852.4 352.8 856.6 353.6 863.4 356.9C870.3 360.3 881.2 368 888.1 371.7C894.9 375.4 899 378.1 904.5 379.1C910 380.2 914.1 378.6 920.9 378.3C927.8 378 937.4 377.5 945.6 377.5C953.8 377.5 963.4 377.6 970.3 378.3C977.1 379 981.5 380.4 986.7 381.6C991.9 382.8 999 385 1001.5 385.7L1001.5 418.6C999 416.9 991.9 411.4 986.7 408.7C981.5 406 977.1 404.2 970.3 402.2C963.4 400.1 953.8 397.6 945.6 396.4C937.4 395.2 927.8 395.2 920.9 395C914.1 394.9 910 395.2 904.5 395.6C899 395.9 893.6 396.8 888.1 397.2C882.6 397.6 877.1 398.1 871.6 398C866.1 397.9 860.6 396.9 855.2 396.7C849.7 396.5 845.6 396.7 838.8 396.7C831.9 396.7 822.3 396 814.1 396.5C805.9 397.1 796.3 398.4 789.4 400C782.6 401.6 777.7 404.2 773 406.2C768.3 408.3 763.1 411.5 761.1 412.5Z"/>
<path class="sm" d="M761.1 381.3C764.5 380.4 773.7 377.6 781.2 376.3C788.6 375 797.6 374.1 805.8 373.5C814.1 373 822.3 372.8 830.5 373.1C838.7 373.3 847.5 374.1 855.2 375C862.8 375.9 870.2 377.1 876.5 378.6C882.8 380.1 888.3 382.7 893 384.1C897.6 385.5 899.8 386.8 904.5 387.2C909.2 387.6 914.1 386.6 920.9 386.5C927.8 386.5 937.4 386 945.6 386.7C953.8 387.3 963.4 389.3 970.3 390.6C977.1 392 980.2 393 986.7 394.8C993.1 396.5 1005.3 400 1009.1 401"/>
<rect class="fr" x="669.1" y="0" width="604.4" height="442"/>
<path class="tk" d="M668.4 421.9h-4.2M668.4 364.5h-4.2M668.4 307.1h-4.2M668.4 249.7h-4.2M668.4 192.3h-4.2M668.4 134.9h-4.2M668.4 77.5h-4.2M668.4 20.1h-4.2M696.6 442.7v4.2M761.2 442.7v4.2M825.9 442.7v4.2M890.5 442.7v4.2M955.1 442.7v4.2M1019.8 442.7v4.2M1084.4 442.7v4.2M1149.1 442.7v4.2M1213.7 442.7v4.2"/>
<g class="yl">
<text x="661.1" y="427.3">0.0</text>
<text x="661.1" y="369.9">0.1</text>
<text x="661.1" y="312.5">0.2</text>
<text x="661.1" y="255.1">0.3</text>
<text x="661.1" y="197.7">0.4</text>
<text x="661.1" y="140.3">0.5</text>
<text x="661.1" y="82.9">0.6</text>
<text x="661.1" y="25.5">0.7</text>
</g>
<g class="xl">
<text x="708.2" y="460.6">−100</text>
<text x="772.8" y="460.6">−80</text>
<text x="837.5" y="460.6">−60</text>
<text x="902.1" y="460.6">−40</text>
<text x="966.7" y="460.6">−20</text>
<text x="1031.4" y="460.6">0</text>
<text x="1096" y="460.6">20</text>
<text x="1160.7" y="460.6">40</text>
<text x="1225.3" y="460.6">60</text>
</g>
<text class="at" x="982.9" y="479.8">Mobility (% changed)</text>
<text class="at" transform="translate(632.4 221) rotate(-90)">Case ratio</text>
<text class="lt" x="1194.1" y="59.1">Month</text>
<g class="pts" fill-opacity="0.3">
<circle cx="1207.9" cy="82.9" r="8.6" fill="#E41A1C"/>
<circle cx="1207.9" cy="109.6" r="8.6" fill="#377EB8"/>
<circle cx="1207.9" cy="136.3" r="8.6" fill="#4DAF4A"/>
<circle cx="1207.9" cy="163.1" r="8.6" fill="#984EA3"/>
</g>
<g class="ll">
<text x="1230.1" y="87.6">Mar</text>
<text x="1230.1" y="114.3">Apr</text>
<text x="1230.1" y="141">May</text>
<text x="1230.1" y="167.8">Jun</text>
</g>
</g>
<g class="panel">
<text class="ttl" x="1640.4" y="-42.2">Hungary</text>
<text class="sub" x="1640.4" y="-13.3">(Late phase)</text>
<g class="pts" fill-opacity="0.3">
<circle cx="1630.8" cy="394.5" r="8.6" fill="#800080"/>
<circle cx="1635.4" cy="387.9" r="8.6" fill="#800080"/>
<circle cx="1646.8" cy="421" r="8.6" fill="#800080"/>
<circle cx="1630.3" cy="388.9" r="8.6" fill="#800080"/>
<circle cx="1523" cy="387" r="8.6" fill="#800080"/>
<circle cx="1647.6" cy="419.5" r="8.6" fill="#800080"/>
<circle cx="1628.8" cy="389.4" r="8.6" fill="#800080"/>
<circle cx="1650.2" cy="421.5" r="8.6" fill="#800080"/>
<circle cx="1642" cy="412.3" r="8.6" fill="#800080"/>
<circle cx="1718.1" cy="397.1" r="8.6" fill="#800080"/>
<circle cx="1733.4" cy="384.8" r="8.6" fill="#800080"/>
<circle cx="1649.7" cy="387.6" r="8.6" fill="#800080"/>
<circle cx="1707.3" cy="384.3" r="8.6" fill="#800080"/>
<circle cx="1649.2" cy="420.5" r="8.6" fill="#800080"/>
<circle cx="1663" cy="388.2" r="8.6" fill="#800080"/>
<circle cx="1663.5" cy="373.6" r="8.6" fill="#800080"/>
<circle cx="1728.8" cy="391.4" r="8.6" fill="#800080"/>
<circle cx="1730.1" cy="336.3" r="8.6" fill="#800080"/>
<circle cx="1665.5" cy="361.3" r="8.6" fill="#800080"/>
<circle cx="1659.4" cy="396.5" r="8.6" fill="#800080"/>
<circle cx="1656.8" cy="347.6" r="8.6" fill="#FF8C00"/>
<circle cx="1659.4" cy="407.3" r="8.6" fill="#FF8C00"/>
<circle cx="1663.5" cy="361.9" r="8.6" fill="#FF8C00"/>
<circle cx="1719.3" cy="351.1" r="8.6" fill="#FF8C00"/>
<circle cx="1671.1" cy="375.1" r="8.6" fill="#FF8C00"/>
<circle cx="1669.1" cy="389.4" r="8.6" fill="#FF8C00"/>
<circle cx="1683.4" cy="377.1" r="8.6" fill="#FF8C00"/>
<circle cx="1686.4" cy="399.6" r="8.6" fill="#FF8C00"/>
<circle cx="1677.2" cy="385.3" r="8.6" fill="#FF8C00"/>
<circle cx="1730.3" cy="403.7" r="8.6" fill="#FF8C00"/>
<circle cx="1761.4" cy="384.3" r="8.6" fill="#FF8C00"/>
<circle cx="1665" cy="337.4" r="8.6" fill="#FF8C00"/>
<circle cx="1709.9" cy="382.8" r="8.6" fill="#FF8C00"/>
<circle cx="1671.1" cy="342.5" r="8.6" fill="#FF8C00"/>
<circle cx="1679.8" cy="340.9" r="8.6" fill="#FF8C00"/>
<circle cx="1667" cy="362.3" r="8.6" fill="#FF8C00"/>
<circle cx="1782.9" cy="326.1" r="8.6" fill="#FF8C00"/>
<circle cx="1682.4" cy="345.5" r="8.6" fill="#FF8C00"/>
<circle cx="1680.3" cy="371.5" r="8.6" fill="#FF8C00"/>
<circle cx="1683.9" cy="353.7" r="8.6" fill="#FF8C00"/>
<circle cx="1679.8" cy="353.7" r="8.6" fill="#FF8C00"/>
<circle cx="1686.9" cy="363.4" r="8.6" fill="#FF8C00"/>
<circle cx="1742" cy="348.1" r="8.6" fill="#FF8C00"/>
<circle cx="1786.4" cy="391.4" r="8.6" fill="#FF8C00"/>
<circle cx="1681.3" cy="383.3" r="8.6" fill="#FF8C00"/>
<circle cx="1691.5" cy="389.4" r="8.6" fill="#FF8C00"/>
<circle cx="1679.3" cy="392.5" r="8.6" fill="#FF8C00"/>
<circle cx="1682.4" cy="399.6" r="8.6" fill="#FF8C00"/>
<circle cx="1672.1" cy="370" r="8.6" fill="#FF8C00"/>
<circle cx="1735.4" cy="422" r="8.6" fill="#FFFF00"/>
<circle cx="1764.5" cy="364.9" r="8.6" fill="#FFFF00"/>
<circle cx="1682.4" cy="363.4" r="8.6" fill="#FFFF00"/>
<circle cx="1678.2" cy="328.2" r="8.6" fill="#FFFF00"/>
<circle cx="1675.2" cy="371.1" r="8.6" fill="#FFFF00"/>
<circle cx="1675.7" cy="328.7" r="8.6" fill="#FFFF00"/>
<circle cx="1677.2" cy="336.3" r="8.6" fill="#FFFF00"/>
<circle cx="1718.1" cy="351.1" r="8.6" fill="#FFFF00"/>
<circle cx="1790.5" cy="337.9" r="8.6" fill="#FFFF00"/>
<circle cx="1680.3" cy="322" r="8.6" fill="#FFFF00"/>
<circle cx="1747.6" cy="356.2" r="8.6" fill="#FFFF00"/>
<circle cx="1675.2" cy="343.5" r="8.6" fill="#FFFF00"/>
<circle cx="1677.2" cy="349.1" r="8.6" fill="#FFFF00"/>
<circle cx="1672.1" cy="338.4" r="8.6" fill="#FFFF00"/>
<circle cx="1681.3" cy="333.3" r="8.6" fill="#FFFF00"/>
<circle cx="1776.2" cy="383.8" r="8.6" fill="#FFFF00"/>
<circle cx="1745.6" cy="356.2" r="8.6" fill="#FFFF00"/>
<circle cx="1683.4" cy="349.1" r="8.6" fill="#FFFF00"/>
<circle cx="1693.1" cy="380" r="8.6" fill="#FFFF00"/>
<circle cx="1687.5" cy="385.3" r="8.6" fill="#FFFF00"/>
<circle cx="1758.4" cy="358.8" r="8.6" fill="#FFFF00"/>
<circle cx="1782.4" cy="380.2" r="8.6" fill="#FFFF00"/>
<circle cx="1693.6" cy="396.5" r="8.6" fill="#FFFF00"/>
<circle cx="1696.1" cy="379.7" r="8.6" fill="#FFFF00"/>
<circle cx="1697.6" cy="392.5" r="8.6" fill="#FFFF00"/>
<circle cx="1690.5" cy="340.9" r="8.6" fill="#FFFF00"/>
<circle cx="1690" cy="329.2" r="8.6" fill="#FFFF00"/>
<circle cx="1756" cy="306.9" r="8.6" fill="#FFFF00"/>
<circle cx="1787.1" cy="307.3" r="8.6" fill="#FFFF00"/>
<circle cx="1680.2" cy="261" r="8.6" fill="#FFFF00"/>
</g>
<g class="lab" transform="scale(0.92 1)">
<text x="1772.7" y="397.9">82</text>
<text x="1777.7" y="391.3">83</text>
<text x="1790.1" y="424.4">84</text>
<text x="1772.2" y="392.3">85</text>
<text x="1655.5" y="390.4">86</text>
<text x="1791" y="422.9">87</text>
<text x="1770.5" y="392.8">88</text>
<text x="1793.8" y="424.9">89</text>
<text x="1784.9" y="415.7">90</text>
<text x="1867.6" y="400.5">91</text>
<text x="1884.2" y="388.2">92</text>
<text x="1793.2" y="391">93</text>
<text x="1855.9" y="387.7">94</text>
<text x="1792.7" y="423.9">95</text>
<text x="1807.7" y="391.6">96</text>
<text x="1808.2" y="377">97</text>
<text x="1879.2" y="394.8">98</text>
<text x="1880.6" y="339.7">99</text>
<text x="1810.4" y="364.7">100</text>
<text x="1803.8" y="399.9">101</text>
<text x="1801" y="351">102</text>
<text x="1803.8" y="410.7">103</text>
<text x="1808.2" y="365.3">104</text>
<text x="1868.9" y="354.5">105</text>
<text x="1816.5" y="378.5">106</text>
<text x="1805.5" y="425.4">107</text>
<text x="1814.3" y="392.8">108</text>
<text x="1829.8" y="380.5">109</text>
<text x="1833.2" y="403">110</text>
<text x="1823.2" y="388.7">111</text>
<text x="1880.9" y="407.1">112</text>
<text x="1914.7" y="387.7">113</text>
<text x="1809.9" y="340.8">114</text>
<text x="1858.7" y="386.2">115</text>
<text x="1816.5" y="345.9">116</text>
<text x="1819.3" y="425.4">117</text>
<text x="1826" y="344.3">118</text>
<text x="1812.1" y="365.7">119</text>
<text x="1938" y="329.5">120</text>
<text x="1828.8" y="348.9">121</text>
<text x="1826.5" y="374.9">122</text>
<text x="1830.4" y="357.1">123</text>
<text x="1826" y="357.1">124</text>
<text x="1833.7" y="366.8">125</text>
<text x="1893.6" y="351.5">126</text>
<text x="1941.9" y="394.8">127</text>
<text x="1827.6" y="386.7">128</text>
<text x="1838.7" y="392.8">129</text>
<text x="1825.4" y="395.9">130</text>
<text x="1828.8" y="403">131</text>
<text x="1817.7" y="373.4">132</text>
<text x="1886.4" y="425.4">133</text>
<text x="1918" y="368.3">134</text>
<text x="1828.8" y="366.8">135</text>
<text x="1824.3" y="331.6">136</text>
<text x="1821" y="374.5">137</text>
<text x="1821.6" y="332.1">138</text>
<text x="1823.2" y="339.7">139</text>
<text x="1867.6" y="354.5">140</text>
<text x="1946.3" y="341.3">141</text>
<text x="1826.5" y="325.4">142</text>
<text x="1899.7" y="359.6">143</text>
<text x="1821" y="346.9">144</text>
<text x="1823.2" y="352.5">145</text>
<text x="1817.7" y="341.8">146</text>
<text x="1827.6" y="336.7">147</text>
<text x="1930.8" y="387.2">148</text>
<text x="1897.5" y="359.6">149</text>
<text x="1829.8" y="352.5">150</text>
<text x="1836" y="425.4">151</text>
<text x="1840.4" y="383.4">152</text>
<text x="1834.3" y="388.7">153</text>
<text x="1911.4" y="362.2">154</text>
<text x="1937.4" y="383.6">155</text>
<text x="1840.9" y="399.9">156</text>
<text x="1843.7" y="383.1">157</text>
<text x="1845.4" y="395.9">158</text>
<text x="1837.6" y="344.3">159</text>
<text x="1837.1" y="332.6">160</text>
<text x="1908.9" y="310.3">161</text>
<text x="1942.6" y="310.7">162</text>
<text x="1826.4" y="264.4">163</text>
</g>
<path class="rib" d="M1645.6 375.1C1647.3 373.8 1652.4 369.8 1655.8 366.9C1659.2 364 1662.8 359.8 1666 357.7C1669.3 355.7 1672.3 355 1675.2 354.7C1678.1 354.4 1680.6 355 1683.4 355.7C1686.1 356.4 1688.5 357.8 1691.5 358.8C1694.6 359.7 1698.3 360.4 1701.7 361.3C1705.1 362.3 1708.5 363.8 1711.9 364.4C1715.3 365 1718.7 365.1 1722.1 364.9C1725.5 364.7 1729 364.2 1732.4 363.4C1735.8 362.5 1739.1 361.2 1742.5 359.8C1745.9 358.4 1749.3 356.6 1752.7 354.7C1756.2 352.8 1759.6 350.6 1763 348.5C1766.4 346.5 1769.8 344.3 1773.2 342.5C1776.6 340.6 1780.4 338.6 1783.4 337.4C1786.3 336.1 1789.7 335.3 1790.9 334.9L1790.9 367.3C1789.7 367.7 1786.3 369 1783.4 370C1780.4 371.1 1776.6 372.4 1773.2 373.6C1769.8 374.8 1766.4 376 1763 377.1C1759.6 378.2 1756.2 379.3 1752.7 380.2C1749.3 381.2 1745.9 381.4 1742.5 382.8C1739.1 384.1 1735.8 386.6 1732.4 388.4C1729 390.2 1725.5 392.5 1722.1 393.5C1718.7 394.5 1715.3 395 1711.9 394.5C1708.5 394 1705.1 392.6 1701.7 390.4C1698.3 388.2 1694.6 383.6 1691.5 381.2C1688.5 378.8 1686.1 377.1 1683.4 376.1C1680.6 375.1 1678.1 373.3 1675.2 375.1C1672.3 377 1669.3 382.9 1666 387.4C1662.8 391.8 1659.2 397.6 1655.8 401.6C1652.4 405.7 1647.3 410.2 1645.6 411.9Z"/>
<path class="sm" d="M1523 387C1526.6 389.4 1537.5 397.4 1544.7 401.6C1551.9 405.9 1559.1 409.8 1566.3 412.4C1573.4 415.1 1580.6 416.8 1587.8 417.4C1595 418 1602.2 417.7 1609.3 416.1C1616.5 414.6 1624.4 411.8 1630.9 408.1C1637.4 404.5 1642.7 399.7 1648.1 394.1C1653.5 388.6 1658.9 379.6 1663.2 374.7C1667.5 369.9 1670.4 366.3 1674 365C1677.6 363.8 1681.2 365.9 1684.7 367.2C1688.3 368.5 1691.9 370.7 1695.5 372.6C1699.1 374.5 1702.7 377.3 1706.3 378.6C1709.9 380 1713.5 380.9 1717.1 380.8C1720.7 380.6 1722.4 380.3 1727.8 378C1733.2 375.7 1742.2 370.8 1749.4 367.2C1756.6 363.6 1764 359.8 1770.9 356.4C1777.8 353 1787.6 348.3 1791 346.7"/>
<rect class="fr" x="1338.2" y="0" width="604.4" height="442"/>
<path class="tk" d="M1337.5 421.9h-4.2M1337.5 364.5h-4.2M1337.5 307.1h-4.2M1337.5 249.7h-4.2M1337.5 192.3h-4.2M1337.5 134.9h-4.2M1337.5 77.5h-4.2M1337.5 20.1h-4.2M1365.7 442.7v4.2M1430.3 442.7v4.2M1495 442.7v4.2M1559.6 442.7v4.2M1624.2 442.7v4.2M1688.9 442.7v4.2M1753.5 442.7v4.2M1818.2 442.7v4.2M1882.8 442.7v4.2"/>
<g class="yl">
<text x="1330.2" y="427.3">0.0</text>
<text x="1330.2" y="369.9">0.1</text>
<text x="1330.2" y="312.5">0.2</text>
<text x="1330.2" y="255.1">0.3</text>
<text x="1330.2" y="197.7">0.4</text>
<text x="1330.2" y="140.3">0.5</text>
<text x="1330.2" y="82.9">0.6</text>
<text x="1330.2" y="25.5">0.7</text>
</g>
<g class="xl">
<text x="1377.3" y="460.6">−100</text>
<text x="1441.9" y="460.6">−80</text>
<text x="1506.6" y="460.6">−60</text>
<text x="1571.2" y="460.6">−40</text>
<text x="1635.8" y="460.6">−20</text>
<text x="1700.5" y="460.6">0</text>
<text x="1765.1" y="460.6">20</text>
<text x="1829.8" y="460.6">40</text>
<text x="1894.4" y="460.6">60</text>
</g>
<text class="at" x="1652" y="479.8">Mobility (% changed)</text>
<text class="at" transform="translate(1301.5 221) rotate(-90)">Case ratio</text>
<text class="lt" x="1864.2" y="72.4">Month</text>
<g class="pts" fill-opacity="0.3">
<circle cx="1878" cy="96.2" r="8.6" fill="#800080"/>
<circle cx="1878" cy="123" r="8.6" fill="#FF8C00"/>
<circle cx="1878" cy="149.7" r="8.6" fill="#FFFF00"/>
</g>
<g class="ll">
<text x="1900.2" y="100.9">Jun</text>
<text x="1900.2" y="127.7">Jul</text>
<text x="1900.2" y="154.4">Aug</text>
</g>
</g>
</g>
<g class="row" transform="translate(57.1 684.0)">
<g class="panel">
<text class="ttl" x="302.2" y="-42.2">Japan</text>
<text class="sub" x="302.2" y="-13.3">(All period)</text>
<g class="pts" fill-opacity="0.3">
<circle cx="328.1" cy="377.4" r="8.6" fill="#377EB8"/>
<circle cx="346.5" cy="309.8" r="8.6" fill="#377EB8"/>
<circle cx="363.2" cy="338.4" r="8.6" fill="#377EB8"/>
<circle cx="326.9" cy="334" r="8.6" fill="#377EB8"/>
<circle cx="351.9" cy="381.6" r="8.6" fill="#377EB8"/>
<circle cx="347.7" cy="344.7" r="8.6" fill="#377EB8"/>
<circle cx="345.9" cy="357.2" r="8.6" fill="#377EB8"/>
<circle cx="337" cy="352.2" r="8.6" fill="#377EB8"/>
<circle cx="317.4" cy="351.2" r="8.6" fill="#377EB8"/>
<circle cx="332.8" cy="377.7" r="8.6" fill="#377EB8"/>
<circle cx="323.3" cy="388.2" r="8.6" fill="#377EB8"/>
<circle cx="328.1" cy="412" r="8.6" fill="#377EB8"/>
<circle cx="316.8" cy="417.9" r="8.6" fill="#377EB8"/>
<circle cx="340" cy="352.7" r="8.6" fill="#377EB8"/>
<circle cx="318.6" cy="348.3" r="8.6" fill="#377EB8"/>
<circle cx="315" cy="382.7" r="8.6" fill="#377EB8"/>
<circle cx="302.5" cy="384.6" r="8.6" fill="#377EB8"/>
<circle cx="317.7" cy="383.4" r="8.6" fill="#377EB8"/>
<circle cx="322.9" cy="377" r="8.6" fill="#377EB8"/>
<circle cx="330.5" cy="354.8" r="8.6" fill="#377EB8"/>
<circle cx="317.4" cy="385.7" r="8.6" fill="#377EB8"/>
<circle cx="324.5" cy="326.9" r="8.6" fill="#377EB8"/>
<circle cx="306.4" cy="320.3" r="8.6" fill="#377EB8"/>
<circle cx="319.2" cy="299.8" r="8.6" fill="#377EB8"/>
<circle cx="329.3" cy="363.1" r="8.6" fill="#377EB8"/>
<circle cx="310.2" cy="367.9" r="8.6" fill="#377EB8"/>
<circle cx="347.7" cy="322.7" r="8.6" fill="#4DAF4A"/>
<circle cx="290.6" cy="270.3" r="8.6" fill="#4DAF4A"/>
<circle cx="330.5" cy="326.9" r="8.6" fill="#4DAF4A"/>
<circle cx="320.3" cy="338.7" r="8.6" fill="#4DAF4A"/>
<circle cx="334.6" cy="337" r="8.6" fill="#4DAF4A"/>
<circle cx="334.6" cy="370.3" r="8.6" fill="#4DAF4A"/>
<circle cx="317.4" cy="338.2" r="8.6" fill="#4DAF4A"/>
<circle cx="339" cy="338.2" r="8.6" fill="#4DAF4A"/>
<circle cx="302.5" cy="338.2" r="8.6" fill="#4DAF4A"/>
<circle cx="328.7" cy="328.6" r="8.6" fill="#4DAF4A"/>
<circle cx="299.3" cy="337.5" r="8.6" fill="#4DAF4A"/>
<circle cx="323.3" cy="339.3" r="8.6" fill="#4DAF4A"/>
<circle cx="281.1" cy="384" r="8.6" fill="#4DAF4A"/>
<circle cx="310.5" cy="386.2" r="8.6" fill="#4DAF4A"/>
<circle cx="323.3" cy="369.3" r="8.6" fill="#4DAF4A"/>
<circle cx="304.9" cy="371.5" r="8.6" fill="#4DAF4A"/>
<circle cx="290.6" cy="369.1" r="8.6" fill="#4DAF4A"/>
<circle cx="279.9" cy="376.2" r="8.6" fill="#4DAF4A"/>
<circle cx="307.9" cy="391.7" r="8.6" fill="#4DAF4A"/>
<circle cx="303.1" cy="392.9" r="8.6" fill="#4DAF4A"/>
<circle cx="293" cy="392.9" r="8.6" fill="#4DAF4A"/>
<circle cx="287.6" cy="400" r="8.6" fill="#4DAF4A"/>
<circle cx="315.5" cy="379" r="8.6" fill="#4DAF4A"/>
<circle cx="258.4" cy="367.9" r="8.6" fill="#4DAF4A"/>
<circle cx="234" cy="396.5" r="8.6" fill="#4DAF4A"/>
<circle cx="319.8" cy="369.1" r="8.6" fill="#4DAF4A"/>
<circle cx="279.9" cy="404.2" r="8.6" fill="#4DAF4A"/>
<circle cx="281.6" cy="394.7" r="8.6" fill="#4DAF4A"/>
<circle cx="274.5" cy="398.8" r="8.6" fill="#4DAF4A"/>
<circle cx="253.7" cy="407.7" r="8.6" fill="#984EA3"/>
<circle cx="231.6" cy="388.7" r="8.6" fill="#984EA3"/>
<circle cx="234.6" cy="383.4" r="8.6" fill="#984EA3"/>
<circle cx="255.5" cy="391.7" r="8.6" fill="#984EA3"/>
<circle cx="259.1" cy="392.9" r="8.6" fill="#984EA3"/>
<circle cx="267.5" cy="406.6" r="8.6" fill="#984EA3"/>
<circle cx="255.3" cy="409.9" r="8.6" fill="#984EA3"/>
<circle cx="254.8" cy="402.1" r="8.6" fill="#984EA3"/>
<circle cx="230.5" cy="406.2" r="8.6" fill="#984EA3"/>
<circle cx="218.6" cy="395.3" r="8.6" fill="#984EA3"/>
<circle cx="234.6" cy="407.2" r="8.6" fill="#984EA3"/>
<circle cx="181.6" cy="410.8" r="8.6" fill="#984EA3"/>
<circle cx="200.1" cy="382.2" r="8.6" fill="#984EA3"/>
<circle cx="232.3" cy="413.1" r="8.6" fill="#984EA3"/>
<circle cx="237" cy="388.2" r="8.6" fill="#984EA3"/>
<circle cx="219.7" cy="407.8" r="8.6" fill="#984EA3"/>
<circle cx="212" cy="403" r="8.6" fill="#984EA3"/>
<circle cx="191.2" cy="413.1" r="8.6" fill="#984EA3"/>
<circle cx="197.1" cy="391.7" r="8.6" fill="#984EA3"/>
<circle cx="258.2" cy="406.6" r="8.6" fill="#984EA3"/>
<circle cx="269.3" cy="398.7" r="8.6" fill="#984EA3"/>
<circle cx="251.5" cy="401.8" r="8.6" fill="#984EA3"/>
<circle cx="263.4" cy="403.1" r="8.6" fill="#984EA3"/>
<circle cx="244.9" cy="401.4" r="8.6" fill="#984EA3"/>
<circle cx="258.9" cy="406.4" r="8.6" fill="#984EA3"/>
<circle cx="255.7" cy="400.8" r="8.6" fill="#984EA3"/>
<circle cx="251.3" cy="369.1" r="8.6" fill="#984EA3"/>
<circle cx="260" cy="347.7" r="8.6" fill="#984EA3"/>
<circle cx="238.1" cy="335.9" r="8.6" fill="#984EA3"/>
<circle cx="251.9" cy="374" r="8.6" fill="#984EA3"/>
<circle cx="264.6" cy="383.1" r="8.6" fill="#FF7F00"/>
<circle cx="266.4" cy="389.4" r="8.6" fill="#FF7F00"/>
<circle cx="279.1" cy="368.6" r="8.6" fill="#FF7F00"/>
<circle cx="273.6" cy="391.3" r="8.6" fill="#FF7F00"/>
<circle cx="270" cy="375.8" r="8.6" fill="#FF7F00"/>
<circle cx="286.3" cy="390.3" r="8.6" fill="#FF7F00"/>
<circle cx="277.2" cy="375" r="8.6" fill="#FF7F00"/>
<circle cx="281.8" cy="385.8" r="8.6" fill="#FF7F00"/>
<circle cx="272.1" cy="376" r="8.6" fill="#FF7F00"/>
<circle cx="310.8" cy="332.4" r="8.6" fill="#FF7F00"/>
<circle cx="310" cy="381.6" r="8.6" fill="#FF7F00"/>
<circle cx="269.8" cy="369.6" r="8.6" fill="#FF7F00"/>
<circle cx="263.8" cy="381.4" r="8.6" fill="#FF7F00"/>
<circle cx="297.1" cy="332.9" r="8.6" fill="#FF7F00"/>
<circle cx="307" cy="389.9" r="8.6" fill="#FF7F00"/>
<circle cx="271.6" cy="364.4" r="8.6" fill="#FF7F00"/>
<circle cx="281" cy="391.2" r="8.6" fill="#FF7F00"/>
<circle cx="309" cy="340.9" r="8.6" fill="#FF7F00"/>
<circle cx="322" cy="375.8" r="8.6" fill="#FF7F00"/>
<circle cx="291.6" cy="365.7" r="8.6" fill="#FF7F00"/>
<circle cx="294.5" cy="422.5" r="8.6" fill="#FF7F00"/>
<circle cx="304.5" cy="330.5" r="8.6" fill="#FF7F00"/>
<circle cx="266.9" cy="375.4" r="8.6" fill="#FF7F00"/>
<circle cx="302.7" cy="351.9" r="8.6" fill="#FF7F00"/>
<circle cx="300.3" cy="385.5" r="8.6" fill="#FF7F00"/>
<circle cx="285.6" cy="367.2" r="8.6" fill="#FF7F00"/>
<circle cx="280" cy="359.1" r="8.6" fill="#FF7F00"/>
<circle cx="278.6" cy="374.3" r="8.6" fill="#FF7F00"/>
<circle cx="296.8" cy="335.9" r="8.6" fill="#FF7F00"/>
<circle cx="313.9" cy="382.7" r="8.6" fill="#FF7F00"/>
<circle cx="306.5" cy="350" r="8.6" fill="#FFFF33"/>
<circle cx="323.1" cy="351.5" r="8.6" fill="#FFFF33"/>
<circle cx="310.6" cy="363.8" r="8.6" fill="#FFFF33"/>
<circle cx="295.2" cy="354.3" r="8.6" fill="#FFFF33"/>
<circle cx="312.3" cy="355.6" r="8.6" fill="#FFFF33"/>
<circle cx="298.2" cy="347.6" r="8.6" fill="#FFFF33"/>
<circle cx="298.1" cy="367.8" r="8.6" fill="#FFFF33"/>
<circle cx="309.5" cy="343.3" r="8.6" fill="#FFFF33"/>
<circle cx="323.9" cy="359.6" r="8.6" fill="#FFFF33"/>
<circle cx="315" cy="355" r="8.6" fill="#FFFF33"/>
<circle cx="300.1" cy="353.4" r="8.6" fill="#FFFF33"/>
<circle cx="294.5" cy="344.1" r="8.6" fill="#FFFF33"/>
<circle cx="304.8" cy="343.7" r="8.6" fill="#FFFF33"/>
<circle cx="298" cy="342.5" r="8.6" fill="#FFFF33"/>
<circle cx="296.3" cy="351.4" r="8.6" fill="#FFFF33"/>
<circle cx="308.6" cy="368.5" r="8.6" fill="#FFFF33"/>
<circle cx="304.6" cy="357.4" r="8.6" fill="#FFFF33"/>
<circle cx="308.1" cy="352.5" r="8.6" fill="#FFFF33"/>
<circle cx="309.1" cy="347" r="8.6" fill="#FFFF33"/>
<circle cx="325.3" cy="371.2" r="8.6" fill="#FFFF33"/>
<circle cx="313.6" cy="359" r="8.6" fill="#FFFF33"/>
<circle cx="302.1" cy="342.2" r="8.6" fill="#FFFF33"/>
<circle cx="304" cy="342.1" r="8.6" fill="#FFFF33"/>
<circle cx="318.3" cy="360.4" r="8.6" fill="#FFFF33"/>
<circle cx="313.8" cy="351.4" r="8.6" fill="#FFFF33"/>
<circle cx="323" cy="356.8" r="8.6" fill="#FFFF33"/>
<circle cx="295.4" cy="345.4" r="8.6" fill="#FFFF33"/>
<circle cx="320.8" cy="333.2" r="8.6" fill="#FFFF33"/>
<circle cx="322.7" cy="361.7" r="8.6" fill="#FFFF33"/>
<circle cx="317.5" cy="351.6" r="8.6" fill="#FFFF33"/>
<circle cx="267.3" cy="365" r="8.6" fill="#A65628"/>
<circle cx="319.2" cy="338.8" r="8.6" fill="#A65628"/>
<circle cx="320.8" cy="333.7" r="8.6" fill="#A65628"/>
<circle cx="304" cy="388.9" r="8.6" fill="#A65628"/>
<circle cx="336.7" cy="372.7" r="8.6" fill="#A65628"/>
<circle cx="310.9" cy="390.9" r="8.6" fill="#A65628"/>
<circle cx="303.4" cy="380.7" r="8.6" fill="#A65628"/>
<circle cx="301.1" cy="380.1" r="8.6" fill="#A65628"/>
<circle cx="312.1" cy="380.5" r="8.6" fill="#A65628"/>
<circle cx="311.6" cy="380.4" r="8.6" fill="#A65628"/>
<circle cx="313.1" cy="414.4" r="8.6" fill="#A65628"/>
<circle cx="305" cy="384.1" r="8.6" fill="#A65628"/>
<circle cx="314.4" cy="387.4" r="8.6" fill="#A65628"/>
<circle cx="299.4" cy="381.5" r="8.6" fill="#A65628"/>
<circle cx="301.1" cy="392.5" r="8.6" fill="#A65628"/>
<circle cx="311.7" cy="394" r="8.6" fill="#A65628"/>
<circle cx="314" cy="414.4" r="8.6" fill="#A65628"/>
<circle cx="319" cy="394" r="8.6" fill="#A65628"/>
<circle cx="313.8" cy="390.3" r="8.6" fill="#A65628"/>
<circle cx="318.5" cy="389.6" r="8.6" fill="#A65628"/>
<circle cx="322.2" cy="391" r="8.6" fill="#A65628"/>
<circle cx="301.2" cy="390.9" r="8.6" fill="#A65628"/>
<circle cx="310.5" cy="389.8" r="8.6" fill="#A65628"/>
<circle cx="281.8" cy="422.5" r="8.6" fill="#A65628"/>
<circle cx="312.1" cy="384" r="8.6" fill="#A65628"/>
</g>
<g class="lab" transform="scale(0.92 1)">
<text x="356.7" y="380.8">13</text>
<text x="376.8" y="313.2">14</text>
<text x="394.9" y="341.8">15</text>
<text x="355.4" y="337.4">16</text>
<text x="382.6" y="385">17</text>
<text x="378.1" y="348.1">18</text>
<text x="376.1" y="360.6">19</text>
<text x="366.4" y="355.6">20</text>
<text x="345.1" y="354.6">21</text>
<text x="361.9" y="381.1">22</text>
<text x="351.6" y="391.6">23</text>
<text x="356.7" y="415.4">24</text>
<text x="344.4" y="421.3">25</text>
<text x="369.7" y="356.1">26</text>
<text x="346.4" y="351.7">27</text>
<text x="342.5" y="386.1">28</text>
<text x="328.9" y="388">29</text>
<text x="345.5" y="386.8">30</text>
<text x="351.1" y="380.4">31</text>
<text x="359.3" y="358.2">32</text>
<text x="345.1" y="389.1">33</text>
<text x="352.8" y="330.3">34</text>
<text x="333.2" y="323.7">35</text>
<text x="347" y="303.2">36</text>
<text x="358" y="366.5">37</text>
<text x="337.3" y="371.3">38</text>
<text x="363.2" y="426.1">39</text>
<text x="378.1" y="326.1">40</text>
<text x="316" y="273.7">41</text>
<text x="359.3" y="330.3">42</text>
<text x="348.3" y="342.1">43</text>
<text x="363.8" y="340.4">44</text>
<text x="363.8" y="373.7">45</text>
<text x="345.1" y="341.6">46</text>
<text x="368.6" y="341.6">47</text>
<text x="328.9" y="341.6">48</text>
<text x="357.4" y="332">49</text>
<text x="325.4" y="340.9">50</text>
<text x="351.6" y="342.7">51</text>
<text x="305.6" y="387.4">52</text>
<text x="337.6" y="389.6">53</text>
<text x="351.6" y="372.7">54</text>
<text x="331.5" y="374.9">55</text>
<text x="316" y="372.5">56</text>
<text x="304.3" y="379.6">57</text>
<text x="334.7" y="395.1">58</text>
<text x="329.5" y="396.3">59</text>
<text x="318.5" y="396.3">60</text>
<text x="312.7" y="403.4">61</text>
<text x="343" y="382.4">62</text>
<text x="281" y="371.3">63</text>
<text x="254.5" y="399.9">64</text>
<text x="347.7" y="372.5">65</text>
<text x="304.3" y="407.6">66</text>
<text x="306.2" y="398.1">67</text>
<text x="298.5" y="402.2">68</text>
<text x="275.8" y="411.1">69</text>
<text x="251.9" y="392.1">70</text>
<text x="255.2" y="386.8">71</text>
<text x="277.8" y="395.1">72</text>
<text x="281.7" y="396.3">73</text>
<text x="290.9" y="410">74</text>
<text x="277.6" y="413.3">75</text>
<text x="277" y="405.5">76</text>
<text x="250.6" y="409.6">77</text>
<text x="237.7" y="398.7">78</text>
<text x="255.2" y="410.6">79</text>
<text x="197.5" y="414.2">80</text>
<text x="217.6" y="385.6">81</text>
<text x="252.6" y="416.5">82</text>
<text x="257.7" y="391.6">83</text>
<text x="239" y="411.2">84</text>
<text x="230.6" y="406.4">85</text>
<text x="207.9" y="416.5">86</text>
<text x="214.4" y="395.1">87</text>
<text x="280.8" y="410">88</text>
<text x="292.8" y="402.1">89</text>
<text x="273.4" y="405.2">90</text>
<text x="286.4" y="406.5">91</text>
<text x="266.3" y="404.8">92</text>
<text x="281.5" y="409.8">93</text>
<text x="278" y="404.2">94</text>
<text x="273.3" y="372.5">95</text>
<text x="290.6" y="425.9">96</text>
<text x="282.7" y="351.1">97</text>
<text x="258.9" y="339.3">98</text>
<text x="273.9" y="377.4">99</text>
<text x="287.7" y="386.5">100</text>
<text x="289.7" y="392.8">101</text>
<text x="303.5" y="372">102</text>
<text x="297.5" y="394.7">103</text>
<text x="293.6" y="379.2">104</text>
<text x="311.3" y="393.7">105</text>
<text x="301.5" y="378.4">106</text>
<text x="306.4" y="389.2">107</text>
<text x="295.9" y="379.4">108</text>
<text x="337.9" y="335.8">109</text>
<text x="337.1" y="385">110</text>
<text x="293.4" y="373">111</text>
<text x="286.9" y="384.8">112</text>
<text x="323" y="336.3">113</text>
<text x="333.8" y="393.3">114</text>
<text x="295.3" y="367.8">115</text>
<text x="305.5" y="394.6">116</text>
<text x="336" y="344.3">117</text>
<text x="350.1" y="379.2">118</text>
<text x="317" y="369.1">119</text>
<text x="320.2" y="425.9">120</text>
<text x="331" y="333.9">121</text>
<text x="290.3" y="378.8">122</text>
<text x="329.1" y="355.3">123</text>
<text x="326.5" y="388.9">124</text>
<text x="310.5" y="370.6">125</text>
<text x="304.5" y="362.5">126</text>
<text x="303" y="377.7">127</text>
<text x="322.7" y="339.3">128</text>
<text x="341.3" y="386.1">129</text>
<text x="333.3" y="353.4">130</text>
<text x="351.3" y="354.9">131</text>
<text x="337.7" y="367.2">132</text>
<text x="320.9" y="357.7">133</text>
<text x="339.6" y="359">134</text>
<text x="324.3" y="351">135</text>
<text x="324.2" y="371.2">136</text>
<text x="336.5" y="346.7">137</text>
<text x="352.1" y="363">138</text>
<text x="342.5" y="358.4">139</text>
<text x="326.3" y="356.8">140</text>
<text x="320.2" y="347.5">141</text>
<text x="331.4" y="347.1">142</text>
<text x="324" y="345.9">143</text>
<text x="322.2" y="354.8">144</text>
<text x="335.5" y="371.9">145</text>
<text x="331.2" y="360.8">146</text>
<text x="335" y="355.9">147</text>
<text x="336.1" y="350.4">148</text>
<text x="353.7" y="374.6">149</text>
<text x="341" y="362.4">150</text>
<text x="328.4" y="345.6">151</text>
<text x="330.6" y="345.5">152</text>
<text x="346.1" y="363.8">153</text>
<text x="341.2" y="354.8">154</text>
<text x="351.2" y="360.2">155</text>
<text x="321.2" y="348.8">156</text>
<text x="338" y="425.9">157</text>
<text x="348.8" y="336.6">158</text>
<text x="350.8" y="365.1">159</text>
<text x="345.2" y="355">160</text>
<text x="290.6" y="368.4">161</text>
<text x="347.1" y="342.2">162</text>
<text x="348.8" y="337.1">163</text>
<text x="330.6" y="392.3">164</text>
<text x="366.1" y="376.1">165</text>
<text x="338.1" y="394.3">166</text>
<text x="329.9" y="384.1">167</text>
<text x="327.4" y="383.5">168</text>
<text x="339.3" y="383.9">169</text>
<text x="338.8" y="383.8">170</text>
<text x="340.4" y="417.8">171</text>
<text x="331.6" y="387.5">172</text>
<text x="341.8" y="390.8">173</text>
<text x="325.5" y="384.9">174</text>
<text x="327.4" y="395.9">175</text>
<text x="339" y="397.4">176</text>
<text x="341.4" y="417.8">177</text>
<text x="346.8" y="397.4">178</text>
<text x="341.2" y="393.7">179</text>
<text x="346.3" y="393">180</text>
<text x="350.3" y="394.4">181</text>
<text x="327.5" y="394.3">182</text>
<text x="337.6" y="393.2">183</text>
<text x="306.4" y="425.9">184</text>
<text x="339.3" y="387.4">185</text>
</g>
<path class="rib" d="M200.3 388.2C203.4 388.5 212.8 390.1 219 390.1C225.3 390.1 231.5 389.1 237.7 388.2C244 387.3 251.2 385.9 256.4 384.5C261.6 383 264.8 381.4 268.9 379.5C273.1 377.6 277.2 375.5 281.4 373.2C285.5 370.9 289.7 367.4 293.9 365.8C298 364.1 302.2 364 306.3 363.2C310.5 362.5 314.6 362.9 318.8 361.4C322.9 360 327.1 357.7 331.3 354.5C335.4 351.3 340 346.8 343.7 342.1C347.5 337.3 350.6 331.6 353.7 325.8C356.8 320 361 310.3 362.4 307.2L362.4 363.9C361 363.6 356.8 362.3 353.7 362C350.6 361.7 347.5 361.1 343.7 362C340 362.8 335.4 365.4 331.3 367C327.1 368.5 322.9 370.2 318.8 371.3C314.6 372.5 310.5 372.8 306.3 373.9C302.2 374.9 298 375.6 293.9 377.6C289.7 379.6 285.5 383.2 281.4 385.7C277.2 388.2 273.1 390.7 268.9 392.6C264.8 394.5 261.6 395.4 256.4 396.9C251.2 398.5 244 400.3 237.7 401.9C231.5 403.6 225.3 404.4 219 406.9C212.8 409.4 203.4 415.2 200.3 416.9Z"/>
<path class="sm" d="M181.6 401.9C184.7 401.7 194.1 401.3 200.3 400.7C206.6 400 212.8 399.1 219 398.2C225.3 397.3 231.5 396.3 237.7 395C244 393.8 251.2 392.1 256.4 390.7C261.6 389.2 264.8 388.2 268.9 386.3C273.1 384.5 277.2 382 281.4 379.5C285.5 377 289.7 373.2 293.9 371.3C298 369.5 302.2 369.1 306.3 368.2C310.5 367.4 314.6 367.6 318.8 366.4C322.9 365.2 327.1 363.4 331.3 360.8C335.4 358.2 340 353.9 343.7 350.8C347.5 347.7 350.6 344.6 353.7 342.1C356.8 339.6 361 336.8 362.4 335.8"/>
<rect class="fr" x="0" y="0" width="604.4" height="442"/>
<path class="tk" d="M-0.7 421.9h-4.2M-0.7 364.5h-4.2M-0.7 307.1h-4.2M-0.7 249.7h-4.2M-0.7 192.3h-4.2M-0.7 134.9h-4.2M-0.7 77.5h-4.2M-0.7 20.1h-4.2M27.5 442.7v4.2M92.1 442.7v4.2M156.8 442.7v4.2M221.4 442.7v4.2M286 442.7v4.2M350.7 442.7v4.2M415.3 442.7v4.2M480 442.7v4.2M544.6 442.7v4.2"/>
<g class="yl">
<text x="-8" y="427.3">0.0</text>
<text x="-8" y="369.9">0.1</text>
<text x="-8" y="312.5">0.2</text>
<text x="-8" y="255.1">0.3</text>
<text x="-8" y="197.7">0.4</text>
<text x="-8" y="140.3">0.5</text>
<text x="-8" y="82.9">0.6</text>
<text x="-8" y="25.5">0.7</text>
</g>
<g class="xl">
<text x="39.1" y="460.6">−100</text>
<text x="103.7" y="460.6">−80</text>
<text x="168.4" y="460.6">−60</text>
<text x="233" y="460.6">−40</text>
<text x="297.6" y="460.6">−20</text>
<text x="362.3" y="460.6">0</text>
<text x="426.9" y="460.6">20</text>
<text x="491.6" y="460.6">40</text>
<text x="556.2" y="460.6">60</text>
</g>
<text class="at" x="313.8" y="479.8">Mobility (% changed)</text>
<text class="at" transform="translate(-36.7 221) rotate(-90)">Case ratio</text>
<text class="lt" x="525" y="18.9">Month</text>
<g class="pts" fill-opacity="0.3">
<circle cx="538.8" cy="42.7" r="8.6" fill="#E41A1C"/>
<circle cx="538.8" cy="69.5" r="8.6" fill="#377EB8"/>
<circle cx="538.8" cy="96.2" r="8.6" fill="#4DAF4A"/>
<circle cx="538.8" cy="123" r="8.6" fill="#984EA3"/>
<circle cx="538.8" cy="149.7" r="8.6" fill="#FF7F00"/>
<circle cx="538.8" cy="176.5" r="8.6" fill="#FFFF33"/>
<circle cx="538.8" cy="203.2" r="8.6" fill="#A65628"/>
</g>
<g class="ll">
<text x="561" y="47.4">Feb</text>
<text x="561" y="74.2">Mar</text>
<text x="561" y="100.9">Apr</text>
<text x="561" y="127.7">May</text>
<text x="561" y="154.4">Jun</text>
<text x="561" y="181.2">Jul</text>
<text x="561" y="207.9">Aug</text>
</g>
</g>
<g class="panel">
<text class="ttl" x="971.3" y="-42.2">Japan</text>
<text class="sub" x="971.3" y="-13.3">(Early phase)</text>
<g class="pts" fill-opacity="0.3">
<circle cx="997.2" cy="377.4" r="8.6" fill="#377EB8"/>
<circle cx="1015.6" cy="309.8" r="8.6" fill="#377EB8"/>
<circle cx="1032.3" cy="338.4" r="8.6" fill="#377EB8"/>
<circle cx="996" cy="334" r="8.6" fill="#377EB8"/>
<circle cx="1021" cy="381.6" r="8.6" fill="#377EB8"/>
<circle cx="1016.8" cy="344.7" r="8.6" fill="#377EB8"/>
<circle cx="1015" cy="357.2" r="8.6" fill="#377EB8"/>
<circle cx="1006.1" cy="352.2" r="8.6" fill="#377EB8"/>
<circle cx="986.5" cy="351.2" r="8.6" fill="#377EB8"/>
<circle cx="1001.9" cy="377.7" r="8.6" fill="#377EB8"/>
<circle cx="992.4" cy="388.2" r="8.6" fill="#377EB8"/>
<circle cx="997.2" cy="412" r="8.6" fill="#377EB8"/>
<circle cx="985.9" cy="417.9" r="8.6" fill="#377EB8"/>
<circle cx="1009.1" cy="352.7" r="8.6" fill="#377EB8"/>
<circle cx="987.7" cy="348.3" r="8.6" fill="#377EB8"/>
<circle cx="984.1" cy="382.7" r="8.6" fill="#377EB8"/>
<circle cx="971.6" cy="384.6" r="8.6" fill="#377EB8"/>
<circle cx="986.8" cy="383.4" r="8.6" fill="#377EB8"/>
<circle cx="992" cy="377" r="8.6" fill="#377EB8"/>
<circle cx="999.6" cy="354.8" r="8.6" fill="#377EB8"/>
<circle cx="986.5" cy="385.7" r="8.6" fill="#377EB8"/>
<circle cx="993.6" cy="326.9" r="8.6" fill="#377EB8"/>
<circle cx="975.5" cy="320.3" r="8.6" fill="#377EB8"/>
<circle cx="988.3" cy="299.8" r="8.6" fill="#377EB8"/>
<circle cx="998.4" cy="363.1" r="8.6" fill="#377EB8"/>
<circle cx="979.3" cy="367.9" r="8.6" fill="#377EB8"/>
<circle cx="1003.1" cy="422.7" r="8.6" fill="#4DAF4A"/>
<circle cx="1016.8" cy="322.7" r="8.6" fill="#4DAF4A"/>
<circle cx="959.7" cy="270.3" r="8.6" fill="#4DAF4A"/>
<circle cx="999.6" cy="326.9" r="8.6" fill="#4DAF4A"/>
<circle cx="989.4" cy="338.7" r="8.6" fill="#4DAF4A"/>
<circle cx="1003.7" cy="337" r="8.6" fill="#4DAF4A"/>
<circle cx="1003.7" cy="370.3" r="8.6" fill="#4DAF4A"/>
<circle cx="986.5" cy="338.2" r="8.6" fill="#4DAF4A"/>
<circle cx="1008.1" cy="338.2" r="8.6" fill="#4DAF4A"/>
<circle cx="971.6" cy="338.2" r="8.6" fill="#4DAF4A"/>
<circle cx="997.8" cy="328.6" r="8.6" fill="#4DAF4A"/>
<circle cx="968.4" cy="337.5" r="8.6" fill="#4DAF4A"/>
<circle cx="992.4" cy="339.3" r="8.6" fill="#4DAF4A"/>
<circle cx="950.2" cy="384" r="8.6" fill="#4DAF4A"/>
<circle cx="979.6" cy="386.2" r="8.6" fill="#4DAF4A"/>
<circle cx="992.4" cy="369.3" r="8.6" fill="#4DAF4A"/>
<circle cx="974" cy="371.5" r="8.6" fill="#4DAF4A"/>
<circle cx="959.7" cy="369.1" r="8.6" fill="#4DAF4A"/>
<circle cx="949" cy="376.2" r="8.6" fill="#4DAF4A"/>
<circle cx="977" cy="391.7" r="8.6" fill="#4DAF4A"/>
<circle cx="972.2" cy="392.9" r="8.6" fill="#4DAF4A"/>
<circle cx="962.1" cy="392.9" r="8.6" fill="#4DAF4A"/>
<circle cx="956.7" cy="400" r="8.6" fill="#4DAF4A"/>
<circle cx="984.6" cy="379" r="8.6" fill="#4DAF4A"/>
<circle cx="927.5" cy="367.9" r="8.6" fill="#4DAF4A"/>
<circle cx="903.1" cy="396.5" r="8.6" fill="#4DAF4A"/>
<circle cx="988.9" cy="369.1" r="8.6" fill="#4DAF4A"/>
<circle cx="949" cy="404.2" r="8.6" fill="#4DAF4A"/>
<circle cx="950.7" cy="394.7" r="8.6" fill="#4DAF4A"/>
<circle cx="943.6" cy="398.8" r="8.6" fill="#4DAF4A"/>
<circle cx="922.8" cy="407.7" r="8.6" fill="#984EA3"/>
<circle cx="900.7" cy="388.7" r="8.6" fill="#984EA3"/>
<circle cx="903.7" cy="383.4" r="8.6" fill="#984EA3"/>
<circle cx="924.6" cy="391.7" r="8.6" fill="#984EA3"/>
<circle cx="928.2" cy="392.9" r="8.6" fill="#984EA3"/>
<circle cx="936.6" cy="406.6" r="8.6" fill="#984EA3"/>
<circle cx="924.4" cy="409.9" r="8.6" fill="#984EA3"/>
<circle cx="923.9" cy="402.1" r="8.6" fill="#984EA3"/>
<circle cx="899.6" cy="406.2" r="8.6" fill="#984EA3"/>
<circle cx="887.7" cy="395.3" r="8.6" fill="#984EA3"/>
<circle cx="903.7" cy="407.2" r="8.6" fill="#984EA3"/>
<circle cx="850.7" cy="410.8" r="8.6" fill="#984EA3"/>
<circle cx="869.2" cy="382.2" r="8.6" fill="#984EA3"/>
<circle cx="901.4" cy="413.1" r="8.6" fill="#984EA3"/>
<circle cx="906.1" cy="388.2" r="8.6" fill="#984EA3"/>
<circle cx="888.8" cy="407.8" r="8.6" fill="#984EA3"/>
<circle cx="881.1" cy="403" r="8.6" fill="#984EA3"/>
<circle cx="860.3" cy="413.1" r="8.6" fill="#984EA3"/>
<circle cx="866.2" cy="391.7" r="8.6" fill="#984EA3"/>
<circle cx="927.3" cy="406.6" r="8.6" fill="#984EA3"/>
<circle cx="938.4" cy="398.7" r="8.6" fill="#984EA3"/>
<circle cx="920.6" cy="401.8" r="8.6" fill="#984EA3"/>
<circle cx="932.5" cy="403.1" r="8.6" fill="#984EA3"/>
<circle cx="914" cy="401.4" r="8.6" fill="#984EA3"/>
<circle cx="928" cy="406.4" r="8.6" fill="#984EA3"/>
<circle cx="924.8" cy="400.8" r="8.6" fill="#984EA3"/>
<circle cx="920.4" cy="369.1" r="8.6" fill="#984EA3"/>
</g>
<g class="lab" transform="scale(0.92 1)">
<text x="1084" y="380.8">13</text>
<text x="1104.1" y="313.2">14</text>
<text x="1122.2" y="341.8">15</text>
<text x="1082.7" y="337.4">16</text>
<text x="1109.9" y="385">17</text>
<text x="1105.4" y="348.1">18</text>
<text x="1103.4" y="360.6">19</text>
<text x="1093.7" y="355.6">20</text>
<text x="1072.3" y="354.6">21</text>
<text x="1089.2" y="381.1">22</text>
<text x="1078.8" y="391.6">23</text>
<text x="1084" y="415.4">24</text>
<text x="1071.7" y="421.3">25</text>
<text x="1096.9" y="356.1">26</text>
<text x="1073.6" y="351.7">27</text>
<text x="1069.8" y="386.1">28</text>
<text x="1056.2" y="388">29</text>
<text x="1072.7" y="386.8">30</text>
<text x="1078.4" y="380.4">31</text>
<text x="1086.6" y="358.2">32</text>
<text x="1072.3" y="389.1">33</text>
<text x="1080.1" y="330.3">34</text>
<text x="1060.5" y="323.7">35</text>
<text x="1074.3" y="303.2">36</text>
<text x="1085.3" y="366.5">37</text>
<text x="1064.6" y="371.3">38</text>
<text x="1090.5" y="426.1">39</text>
<text x="1105.4" y="326.1">40</text>
<text x="1043.3" y="273.7">41</text>
<text x="1086.6" y="330.3">42</text>
<text x="1075.6" y="342.1">43</text>
<text x="1091.1" y="340.4">44</text>
<text x="1091.1" y="373.7">45</text>
<text x="1072.3" y="341.6">46</text>
<text x="1095.9" y="341.6">47</text>
<text x="1056.2" y="341.6">48</text>
<text x="1084.6" y="332">49</text>
<text x="1052.7" y="340.9">50</text>
<text x="1078.8" y="342.7">51</text>
<text x="1032.9" y="387.4">52</text>
<text x="1064.9" y="389.6">53</text>
<text x="1078.8" y="372.7">54</text>
<text x="1058.8" y="374.9">55</text>
<text x="1043.3" y="372.5">56</text>
<text x="1031.6" y="379.6">57</text>
<text x="1062" y="395.1">58</text>
<text x="1056.8" y="396.3">59</text>
<text x="1045.8" y="396.3">60</text>
<text x="1040" y="403.4">61</text>
<text x="1070.3" y="382.4">62</text>
<text x="1008.3" y="371.3">63</text>
<text x="981.8" y="399.9">64</text>
<text x="1074.9" y="372.5">65</text>
<text x="1031.6" y="407.6">66</text>
<text x="1033.5" y="398.1">67</text>
<text x="1025.8" y="402.2">68</text>
<text x="1003.1" y="411.1">69</text>
<text x="979.2" y="392.1">70</text>
<text x="982.4" y="386.8">71</text>
<text x="1005.1" y="395.1">72</text>
<text x="1009" y="396.3">73</text>
<text x="1018.2" y="410">74</text>
<text x="1004.9" y="413.3">75</text>
<text x="1004.3" y="405.5">76</text>
<text x="977.9" y="409.6">77</text>
<text x="964.9" y="398.7">78</text>
<text x="982.4" y="410.6">79</text>
<text x="924.8" y="414.2">80</text>
<text x="944.9" y="385.6">81</text>
<text x="979.8" y="416.5">82</text>
<text x="985" y="391.6">83</text>
<text x="966.2" y="411.2">84</text>
<text x="957.9" y="406.4">85</text>
<text x="935.2" y="416.5">86</text>
<text x="941.7" y="395.1">87</text>
<text x="1008.1" y="410">88</text>
<text x="1020.1" y="402.1">89</text>
<text x="1000.7" y="405.2">90</text>
<text x="1013.6" y="406.5">91</text>
<text x="993.6" y="404.8">92</text>
<text x="1008.8" y="409.8">93</text>
<text x="1005.3" y="404.2">94</text>
<text x="1000.5" y="372.5">95</text>
</g>
<path class="rib" d="M865 387.5C867.6 388.4 875 391.8 880.5 392.9C886.1 394 892.4 394.3 898.4 394.1C904.3 393.9 911.3 392.9 916.2 391.7C921.2 390.5 924.2 388.9 928.2 387C932.1 385 936.1 382.6 940 379.8C944 377.1 948.4 373.5 951.9 370.3C955.5 367.1 958.5 363.4 961.5 360.8C964.5 358.2 966.4 355.8 969.8 354.8C973.2 353.8 977.7 355.4 981.7 354.8C985.7 354.2 989.6 352.9 993.6 351.2C997.6 349.6 1001.6 347.7 1005.5 344.7C1009.5 341.7 1013 339.2 1017.4 333.4C1021.9 327.5 1029.8 313.5 1032.3 309.6L1032.3 369.1C1029.8 368.1 1021.9 363.9 1017.4 363.1C1013 362.3 1009.5 363.3 1005.5 364.3C1001.6 365.3 997.6 367.6 993.6 369.1C989.6 370.6 985.7 372.3 981.7 373.3C977.7 374.3 973.2 374 969.8 375.1C966.4 376.2 964.5 377.5 961.5 379.8C958.5 382.2 955.5 386.6 951.9 389.4C948.4 392.1 944 394.1 940 396.5C936.1 398.9 932.1 401.8 928.2 403.6C924.2 405.4 921.2 406.1 916.2 407.2C911.3 408.3 904.3 409.2 898.4 410.1C892.4 411.1 886.1 411.2 880.5 413.1C875 415 867.6 420.1 865 421.4Z"/>
<path class="sm" d="M850.7 398.3C852.7 398.8 857.7 400.5 862.7 401.2C867.6 402 874.6 402.6 880.5 402.7C886.5 402.8 892.4 402.4 898.4 401.8C904.3 401.3 911.3 400.6 916.2 399.5C921.2 398.4 924.2 397.2 928.2 395.3C932.1 393.4 936.1 390.7 940 388.2C944 385.6 948.4 382.8 951.9 379.8C955.5 376.9 958.5 372.8 961.5 370.3C964.5 367.8 966.4 366 969.8 364.9C973.2 363.8 977.7 364.6 981.7 363.8C985.7 363 989.6 361.6 993.6 360.1C997.6 358.7 1001.6 356.7 1005.5 354.8C1009.5 352.9 1013 351.5 1017.4 348.8C1021.9 346.2 1029.8 340.4 1032.3 338.7"/>
<rect class="fr" x="669.1" y="0" width="604.4" height="442"/>
<path class="tk" d="M668.4 421.9h-4.2M668.4 364.5h-4.2M668.4 307.1h-4.2M668.4 249.7h-4.2M668.4 192.3h-4.2M668.4 134.9h-4.2M668.4 77.5h-4.2M668.4 20.1h-4.2M696.6 442.7v4.2M761.2 442.7v4.2M825.9 442.7v4.2M890.5 442.7v4.2M955.1 442.7v4.2M1019.8 442.7v4.2M1084.4 442.7v4.2M1149.1 442.7v4.2M1213.7 442.7v4.2"/>
<g class="yl">
<text x="661.1" y="427.3">0.0</text>
<text x="661.1" y="369.9">0.1</text>
<text x="661.1" y="312.5">0.2</text>
<text x="661.1" y="255.1">0.3</text>
<text x="661.1" y="197.7">0.4</text>
<text x="661.1" y="140.3">0.5</text>
<text x="661.1" y="82.9">0.6</text>
<text x="661.1" y="25.5">0.7</text>
</g>
<g class="xl">
<text x="708.2" y="460.6">−100</text>
<text x="772.8" y="460.6">−80</text>
<text x="837.5" y="460.6">−60</text>
<text x="902.1" y="460.6">−40</text>
<text x="966.7" y="460.6">−20</text>
<text x="1031.4" y="460.6">0</text>
<text x="1096" y="460.6">20</text>
<text x="1160.7" y="460.6">40</text>
<text x="1225.3" y="460.6">60</text>
</g>
<text class="at" x="982.9" y="479.8">Mobility (% changed)</text>
<text class="at" transform="translate(632.4 221) rotate(-90)">Case ratio</text>
<text class="lt" x="1194.1" y="59.1">Month</text>
<g class="pts" fill-opacity="0.3">
<circle cx="1207.9" cy="82.9" r="8.6" fill="#E41A1C"/>
<circle cx="1207.9" cy="109.6" r="8.6" fill="#377EB8"/>
<circle cx="1207.9" cy="136.3" r="8.6" fill="#4DAF4A"/>
<circle cx="1207.9" cy="163.1" r="8.6" fill="#984EA3"/>
</g>
<g class="ll">
<text x="1230.1" y="87.6">Feb</text>
<text x="1230.1" y="114.3">Mar</text>
<text x="1230.1" y="141">Apr</text>
<text x="1230.1" y="167.8">May</text>
</g>
</g>
<g class="panel">
<text class="ttl" x="1640.4" y="-42.2">Japan</text>
<text class="sub" x="1640.4" y="-13.3">(Late phase)</text>
<g class="pts" fill-opacity="0.3">
<circle cx="1598.2" cy="347.7" r="8.6" fill="#800080"/>
<circle cx="1576.3" cy="335.9" r="8.6" fill="#800080"/>
<circle cx="1590.1" cy="374" r="8.6" fill="#800080"/>
<circle cx="1602.8" cy="383.1" r="8.6" fill="#FF8C00"/>
<circle cx="1604.6" cy="389.4" r="8.6" fill="#FF8C00"/>
<circle cx="1617.3" cy="368.6" r="8.6" fill="#FF8C00"/>
<circle cx="1611.8" cy="391.3" r="8.6" fill="#FF8C00"/>
<circle cx="1608.2" cy="375.8" r="8.6" fill="#FF8C00"/>
<circle cx="1624.5" cy="390.3" r="8.6" fill="#FF8C00"/>
<circle cx="1615.4" cy="375" r="8.6" fill="#FF8C00"/>
<circle cx="1620" cy="385.8" r="8.6" fill="#FF8C00"/>
<circle cx="1610.3" cy="376" r="8.6" fill="#FF8C00"/>
<circle cx="1649" cy="332.4" r="8.6" fill="#FF8C00"/>
<circle cx="1648.2" cy="381.6" r="8.6" fill="#FF8C00"/>
<circle cx="1608" cy="369.6" r="8.6" fill="#FF8C00"/>
<circle cx="1602" cy="381.4" r="8.6" fill="#FF8C00"/>
<circle cx="1635.3" cy="332.9" r="8.6" fill="#FF8C00"/>
<circle cx="1645.2" cy="389.9" r="8.6" fill="#FF8C00"/>
<circle cx="1609.8" cy="364.4" r="8.6" fill="#FF8C00"/>
<circle cx="1619.2" cy="391.2" r="8.6" fill="#FF8C00"/>
<circle cx="1647.2" cy="340.9" r="8.6" fill="#FF8C00"/>
<circle cx="1660.2" cy="375.8" r="8.6" fill="#FF8C00"/>
<circle cx="1629.8" cy="365.7" r="8.6" fill="#FF8C00"/>
<circle cx="1632.7" cy="422.5" r="8.6" fill="#FF8C00"/>
<circle cx="1642.7" cy="330.5" r="8.6" fill="#FF8C00"/>
<circle cx="1605.1" cy="375.4" r="8.6" fill="#FF8C00"/>
<circle cx="1640.9" cy="351.9" r="8.6" fill="#FF8C00"/>
<circle cx="1638.5" cy="385.5" r="8.6" fill="#FF8C00"/>
<circle cx="1623.8" cy="367.2" r="8.6" fill="#FF8C00"/>
<circle cx="1618.2" cy="359.1" r="8.6" fill="#FF8C00"/>
<circle cx="1616.8" cy="374.3" r="8.6" fill="#FF8C00"/>
<circle cx="1635" cy="335.9" r="8.6" fill="#FF8C00"/>
<circle cx="1652.1" cy="382.7" r="8.6" fill="#FF8C00"/>
<circle cx="1644.7" cy="350" r="8.6" fill="#FFFF00"/>
<circle cx="1661.3" cy="351.5" r="8.6" fill="#FFFF00"/>
<circle cx="1648.8" cy="363.8" r="8.6" fill="#FFFF00"/>
<circle cx="1633.4" cy="354.3" r="8.6" fill="#FFFF00"/>
<circle cx="1650.5" cy="355.6" r="8.6" fill="#FFFF00"/>
<circle cx="1636.4" cy="347.6" r="8.6" fill="#FFFF00"/>
<circle cx="1636.3" cy="367.8" r="8.6" fill="#FFFF00"/>
<circle cx="1647.7" cy="343.3" r="8.6" fill="#FFFF00"/>
<circle cx="1662.1" cy="359.6" r="8.6" fill="#FFFF00"/>
<circle cx="1653.2" cy="355" r="8.6" fill="#FFFF00"/>
<circle cx="1638.3" cy="353.4" r="8.6" fill="#FFFF00"/>
<circle cx="1632.7" cy="344.1" r="8.6" fill="#FFFF00"/>
<circle cx="1643" cy="343.7" r="8.6" fill="#FFFF00"/>
<circle cx="1636.2" cy="342.5" r="8.6" fill="#FFFF00"/>
<circle cx="1634.5" cy="351.4" r="8.6" fill="#FFFF00"/>
<circle cx="1646.8" cy="368.5" r="8.6" fill="#FFFF00"/>
<circle cx="1642.8" cy="357.4" r="8.6" fill="#FFFF00"/>
<circle cx="1646.3" cy="352.5" r="8.6" fill="#FFFF00"/>
<circle cx="1647.3" cy="347" r="8.6" fill="#FFFF00"/>
<circle cx="1663.5" cy="371.2" r="8.6" fill="#FFFF00"/>
<circle cx="1651.8" cy="359" r="8.6" fill="#FFFF00"/>
<circle cx="1640.3" cy="342.2" r="8.6" fill="#FFFF00"/>
<circle cx="1642.2" cy="342.1" r="8.6" fill="#FFFF00"/>
<circle cx="1656.5" cy="360.4" r="8.6" fill="#FFFF00"/>
<circle cx="1652" cy="351.4" r="8.6" fill="#FFFF00"/>
<circle cx="1661.2" cy="356.8" r="8.6" fill="#FFFF00"/>
<circle cx="1633.6" cy="345.4" r="8.6" fill="#FFFF00"/>
<circle cx="1659" cy="333.2" r="8.6" fill="#FFFF00"/>
<circle cx="1660.9" cy="361.7" r="8.6" fill="#FFFF00"/>
<circle cx="1655.7" cy="351.6" r="8.6" fill="#FFFF00"/>
<circle cx="1605.5" cy="365" r="8.6" fill="#A53008"/>
<circle cx="1657.4" cy="338.8" r="8.6" fill="#A53008"/>
<circle cx="1659" cy="333.7" r="8.6" fill="#A53008"/>
<circle cx="1642.2" cy="388.9" r="8.6" fill="#A53008"/>
<circle cx="1674.9" cy="372.7" r="8.6" fill="#A53008"/>
<circle cx="1649.1" cy="390.9" r="8.6" fill="#A53008"/>
<circle cx="1641.6" cy="380.7" r="8.6" fill="#A53008"/>
<circle cx="1639.3" cy="380.1" r="8.6" fill="#A53008"/>
<circle cx="1650.3" cy="380.5" r="8.6" fill="#A53008"/>
<circle cx="1649.8" cy="380.4" r="8.6" fill="#A53008"/>
<circle cx="1651.3" cy="414.4" r="8.6" fill="#A53008"/>
<circle cx="1643.2" cy="384.1" r="8.6" fill="#A53008"/>
<circle cx="1652.6" cy="387.4" r="8.6" fill="#A53008"/>
<circle cx="1637.6" cy="381.5" r="8.6" fill="#A53008"/>
<circle cx="1639.3" cy="392.5" r="8.6" fill="#A53008"/>
<circle cx="1649.9" cy="394" r="8.6" fill="#A53008"/>
<circle cx="1652.2" cy="414.4" r="8.6" fill="#A53008"/>
<circle cx="1657.2" cy="394" r="8.6" fill="#A53008"/>
<circle cx="1652" cy="390.3" r="8.6" fill="#A53008"/>
<circle cx="1656.7" cy="389.6" r="8.6" fill="#A53008"/>
<circle cx="1660.4" cy="391" r="8.6" fill="#A53008"/>
<circle cx="1639.4" cy="390.9" r="8.6" fill="#A53008"/>
<circle cx="1648.7" cy="389.8" r="8.6" fill="#A53008"/>
<circle cx="1620" cy="422.5" r="8.6" fill="#A53008"/>
<circle cx="1650.3" cy="384" r="8.6" fill="#A53008"/>
</g>
<g class="lab" transform="scale(0.92 1)">
<text x="1745.2" y="425.9">96</text>
<text x="1737.3" y="351.1">97</text>
<text x="1713.5" y="339.3">98</text>
<text x="1728.5" y="377.4">99</text>
<text x="1742.3" y="386.5">100</text>
<text x="1744.2" y="392.8">101</text>
<text x="1758" y="372">102</text>
<text x="1752.1" y="394.7">103</text>
<text x="1748.2" y="379.2">104</text>
<text x="1765.9" y="393.7">105</text>
<text x="1756" y="378.4">106</text>
<text x="1761" y="389.2">107</text>
<text x="1750.5" y="379.4">108</text>
<text x="1792.5" y="335.8">109</text>
<text x="1791.6" y="385">110</text>
<text x="1747.9" y="373">111</text>
<text x="1741.5" y="384.8">112</text>
<text x="1777.6" y="336.3">113</text>
<text x="1788.3" y="393.3">114</text>
<text x="1749.8" y="367.8">115</text>
<text x="1760.1" y="394.6">116</text>
<text x="1790.6" y="344.3">117</text>
<text x="1804.7" y="379.2">118</text>
<text x="1771.6" y="369.1">119</text>
<text x="1774.8" y="425.9">120</text>
<text x="1785.6" y="333.9">121</text>
<text x="1744.8" y="378.8">122</text>
<text x="1783.7" y="355.3">123</text>
<text x="1781.1" y="388.9">124</text>
<text x="1765.1" y="370.6">125</text>
<text x="1759" y="362.5">126</text>
<text x="1757.5" y="377.7">127</text>
<text x="1777.3" y="339.3">128</text>
<text x="1795.9" y="386.1">129</text>
<text x="1787.9" y="353.4">130</text>
<text x="1805.8" y="354.9">131</text>
<text x="1792.3" y="367.2">132</text>
<text x="1775.5" y="357.7">133</text>
<text x="1794.2" y="359">134</text>
<text x="1778.8" y="351">135</text>
<text x="1778.7" y="371.2">136</text>
<text x="1791.1" y="346.7">137</text>
<text x="1806.7" y="363">138</text>
<text x="1797" y="358.4">139</text>
<text x="1780.9" y="356.8">140</text>
<text x="1774.8" y="347.5">141</text>
<text x="1786" y="347.1">142</text>
<text x="1778.6" y="345.9">143</text>
<text x="1776.8" y="354.8">144</text>
<text x="1790.1" y="371.9">145</text>
<text x="1785.7" y="360.8">146</text>
<text x="1789.5" y="355.9">147</text>
<text x="1790.6" y="350.4">148</text>
<text x="1808.2" y="374.6">149</text>
<text x="1795.5" y="362.4">150</text>
<text x="1783" y="345.6">151</text>
<text x="1785.2" y="345.5">152</text>
<text x="1800.7" y="363.8">153</text>
<text x="1795.7" y="354.8">154</text>
<text x="1805.8" y="360.2">155</text>
<text x="1775.8" y="348.8">156</text>
<text x="1792.5" y="425.9">157</text>
<text x="1803.4" y="336.6">158</text>
<text x="1805.4" y="365.1">159</text>
<text x="1799.8" y="355">160</text>
<text x="1745.2" y="368.4">161</text>
<text x="1801.7" y="342.2">162</text>
<text x="1803.4" y="337.1">163</text>
<text x="1785.2" y="392.3">164</text>
<text x="1820.6" y="376.1">165</text>
<text x="1792.6" y="394.3">166</text>
<text x="1784.5" y="384.1">167</text>
<text x="1782" y="383.5">168</text>
<text x="1793.9" y="383.9">169</text>
<text x="1793.3" y="383.8">170</text>
<text x="1795" y="417.8">171</text>
<text x="1786.2" y="387.5">172</text>
<text x="1796.4" y="390.8">173</text>
<text x="1780.1" y="384.9">174</text>
<text x="1781.9" y="395.9">175</text>
<text x="1793.5" y="397.4">176</text>
<text x="1796" y="417.8">177</text>
<text x="1801.4" y="397.4">178</text>
<text x="1795.7" y="393.7">179</text>
<text x="1800.9" y="393">180</text>
<text x="1804.9" y="394.4">181</text>
<text x="1782.1" y="394.3">182</text>
<text x="1792.2" y="393.2">183</text>
<text x="1761" y="425.9">184</text>
<text x="1793.9" y="387.4">185</text>
</g>
<path class="rib" d="M1576.6 304.2C1577.8 308.4 1581.5 322.7 1583.7 329.6C1586 336.6 1587.8 340.5 1590.1 345.9C1592.3 351.3 1594.6 358 1597.3 362.2C1600 366.4 1603.4 369 1606.4 371.3C1609.4 373.5 1612.4 375.4 1615.4 375.8C1618.5 376.3 1621.5 375.7 1624.5 374C1627.6 372.4 1630.6 368.6 1633.6 365.9C1636.6 363.2 1639.6 358.1 1642.7 357.7C1645.7 357.2 1648.7 363 1651.7 363.1C1654.8 363.3 1658.6 360.3 1660.8 358.6C1663.1 356.9 1663.8 355.9 1665.4 353.1C1666.9 350.4 1668.3 346.7 1669.9 342.3C1671.5 337.9 1674.1 329.4 1674.9 326.9L1674.9 399.4C1674.1 397.1 1671.5 389.9 1669.9 385.8C1668.3 381.7 1666.9 377.1 1665.4 375C1663.8 372.8 1663.1 372.7 1660.8 373.1C1658.6 373.6 1654.8 377.7 1651.7 377.7C1648.7 377.7 1645.7 372.5 1642.7 373.1C1639.6 373.7 1636.6 378.7 1633.6 381.3C1630.6 383.8 1627.6 387.2 1624.5 388.6C1621.5 389.9 1618.5 389.9 1615.4 389.4C1612.4 389 1609.4 387.2 1606.4 385.8C1603.4 384.4 1600 382.6 1597.3 381.3C1594.6 379.9 1592.3 378.7 1590.1 377.7C1587.8 376.6 1586 376 1583.7 375C1581.5 373.9 1577.8 371.9 1576.6 371.3Z"/>
<path class="sm" d="M1576.3 337.3C1577.1 339.2 1579.3 344.9 1581 348.6C1582.7 352.3 1584.3 355.9 1586.4 359.5C1588.5 363.1 1591.1 367.4 1593.7 370.4C1596.3 373.4 1599 375.7 1601.8 377.7C1604.7 379.6 1607.9 381.3 1610.9 382.2C1614 383.1 1617.3 383.4 1620 383.1C1622.7 382.8 1625 382 1627.2 380.3C1629.5 378.7 1631.6 375.4 1633.6 373.1C1635.6 370.8 1637.5 368.1 1639 366.7C1640.6 365.4 1641.3 364.5 1642.7 365C1644 365.4 1645.7 368.6 1647.2 369.5C1648.7 370.4 1650.1 370.9 1651.7 370.4C1653.4 370 1655.4 367.9 1657.2 366.7C1659 365.6 1660.5 364.2 1662.6 363.6C1664.8 363 1667.8 363.2 1669.9 363.1C1671.9 363.1 1674.1 363.1 1674.9 363.1"/>
<rect class="fr" x="1338.2" y="0" width="604.4" height="442"/>
<path class="tk" d="M1337.5 421.9h-4.2M1337.5 364.5h-4.2M1337.5 307.1h-4.2M1337.5 249.7h-4.2M1337.5 192.3h-4.2M1337.5 134.9h-4.2M1337.5 77.5h-4.2M1337.5 20.1h-4.2M1365.7 442.7v4.2M1430.3 442.7v4.2M1495 442.7v4.2M1559.6 442.7v4.2M1624.2 442.7v4.2M1688.9 442.7v4.2M1753.5 442.7v4.2M1818.2 442.7v4.2M1882.8 442.7v4.2"/>
<g class="yl">
<text x="1330.2" y="427.3">0.0</text>
<text x="1330.2" y="369.9">0.1</text>
<text x="1330.2" y="312.5">0.2</text>
<text x="1330.2" y="255.1">0.3</text>
<text x="1330.2" y="197.7">0.4</text>
<text x="1330.2" y="140.3">0.5</text>
<text x="1330.2" y="82.9">0.6</text>
<text x="1330.2" y="25.5">0.7</text>
</g>
<g class="xl">
<text x="1377.3" y="460.6">−100</text>
<text x="1441.9" y="460.6">−80</text>
<text x="1506.6" y="460.6">−60</text>
<text x="1571.2" y="460.6">−40</text>
<text x="1635.8" y="460.6">−20</text>
<text x="1700.5" y="460.6">0</text>
<text x="1765.1" y="460.6">20</text>
<text x="1829.8" y="460.6">40</text>
<text x="1894.4" y="460.6">60</text>
</g>
<text class="at" x="1652" y="479.8">Mobility (% changed)</text>
<text class="at" transform="translate(1301.5 221) rotate(-90)">Case ratio</text>
<text class="lt" x="1863.2" y="59.1">Month</text>
<g class="pts" fill-opacity="0.3">
<circle cx="1877" cy="82.9" r="8.6" fill="#800080"/>
<circle cx="1877" cy="109.6" r="8.6" fill="#FF8C00"/>
<circle cx="1877" cy="136.3" r="8.6" fill="#FFFF00"/>
<circle cx="1877" cy="163.1" r="8.6" fill="#A53008"/>
</g>
<g class="ll">
<text x="1899.2" y="87.6">May</text>
<text x="1899.2" y="114.3">Jun</text>
<text x="1899.2" y="141">Jul</text>
<text x="1899.2" y="167.8">Aug</text>
</g>
</g>
</g>
<g class="row" transform="translate(74.55 1285.65) scale(0.998)">
<g class="panel">
<text class="ttl" x="302.2" y="-42.2">Latvia</text>
<text class="sub" x="302.2" y="-13.3">(All period)</text>
<g class="pts" fill-opacity="0.3">
<circle cx="256.6" cy="369.4" r="8.6" fill="#377EB8"/>
<circle cx="230.1" cy="388.6" r="8.6" fill="#377EB8"/>
<circle cx="252.9" cy="397.7" r="8.6" fill="#377EB8"/>
<circle cx="226.1" cy="408.1" r="8.6" fill="#377EB8"/>
<circle cx="233.3" cy="412.1" r="8.6" fill="#377EB8"/>
<circle cx="220.3" cy="381.4" r="8.6" fill="#377EB8"/>
<circle cx="224.3" cy="402" r="8.6" fill="#377EB8"/>
<circle cx="255.5" cy="382.7" r="8.6" fill="#377EB8"/>
<circle cx="213.7" cy="389.9" r="8.6" fill="#377EB8"/>
<circle cx="211.1" cy="378.7" r="8.6" fill="#377EB8"/>
<circle cx="214.4" cy="414.7" r="8.6" fill="#377EB8"/>
<circle cx="207.2" cy="418.6" r="8.6" fill="#377EB8"/>
<circle cx="202.2" cy="399" r="8.6" fill="#377EB8"/>
<circle cx="206.5" cy="399.7" r="8.6" fill="#377EB8"/>
<circle cx="200" cy="399.7" r="8.6" fill="#377EB8"/>
<circle cx="246.6" cy="336.3" r="8.6" fill="#377EB8"/>
<circle cx="233" cy="377.9" r="8.6" fill="#377EB8"/>
<circle cx="226.5" cy="373.9" r="8.6" fill="#377EB8"/>
<circle cx="232.1" cy="376.9" r="8.6" fill="#377EB8"/>
<circle cx="226.5" cy="402.4" r="8.6" fill="#377EB8"/>
<circle cx="154.7" cy="370.6" r="8.6" fill="#377EB8"/>
<circle cx="216.4" cy="401" r="8.6" fill="#377EB8"/>
<circle cx="218.3" cy="402.3" r="8.6" fill="#377EB8"/>
<circle cx="128.2" cy="393.8" r="8.6" fill="#377EB8"/>
<circle cx="183.7" cy="355.9" r="8.6" fill="#377EB8"/>
<circle cx="215.3" cy="364.4" r="8.6" fill="#377EB8"/>
<circle cx="228.8" cy="374.8" r="8.6" fill="#377EB8"/>
<circle cx="231.4" cy="376.2" r="8.6" fill="#4DAF4A"/>
<circle cx="230.1" cy="378.1" r="8.6" fill="#4DAF4A"/>
<circle cx="233.3" cy="374.2" r="8.6" fill="#4DAF4A"/>
<circle cx="237.2" cy="380.8" r="8.6" fill="#4DAF4A"/>
<circle cx="239.2" cy="359.8" r="8.6" fill="#4DAF4A"/>
<circle cx="242.5" cy="416.6" r="8.6" fill="#4DAF4A"/>
<circle cx="205.2" cy="393.8" r="8.6" fill="#4DAF4A"/>
<circle cx="243.1" cy="423.2" r="8.6" fill="#4DAF4A"/>
<circle cx="255.5" cy="346.1" r="8.6" fill="#4DAF4A"/>
<circle cx="241.2" cy="401" r="8.6" fill="#4DAF4A"/>
<circle cx="239.9" cy="382" r="8.6" fill="#4DAF4A"/>
<circle cx="241.2" cy="388.6" r="8.6" fill="#4DAF4A"/>
<circle cx="249.7" cy="411.9" r="8.6" fill="#4DAF4A"/>
<circle cx="252.8" cy="412.4" r="8.6" fill="#4DAF4A"/>
<circle cx="181.7" cy="361.1" r="8.6" fill="#4DAF4A"/>
<circle cx="179.1" cy="372.9" r="8.6" fill="#4DAF4A"/>
<circle cx="260.1" cy="298.4" r="8.6" fill="#4DAF4A"/>
<circle cx="254.9" cy="417.9" r="8.6" fill="#4DAF4A"/>
<circle cx="251.6" cy="417.3" r="8.6" fill="#4DAF4A"/>
<circle cx="258.1" cy="406.9" r="8.6" fill="#4DAF4A"/>
<circle cx="252.9" cy="404.2" r="8.6" fill="#4DAF4A"/>
<circle cx="263.4" cy="378.1" r="8.6" fill="#4DAF4A"/>
<circle cx="294.1" cy="393.2" r="8.6" fill="#4DAF4A"/>
<circle cx="294.7" cy="342.6" r="8.6" fill="#4DAF4A"/>
<circle cx="262.1" cy="412.1" r="8.6" fill="#4DAF4A"/>
<circle cx="258.1" cy="412.1" r="8.6" fill="#4DAF4A"/>
<circle cx="238.6" cy="406.9" r="8.6" fill="#4DAF4A"/>
<circle cx="260.8" cy="397.7" r="8.6" fill="#4DAF4A"/>
<circle cx="263.4" cy="398.4" r="8.6" fill="#4DAF4A"/>
<circle cx="277.7" cy="404.2" r="8.6" fill="#4DAF4A"/>
<circle cx="275.8" cy="412.7" r="8.6" fill="#984EA3"/>
<circle cx="273.2" cy="375.5" r="8.6" fill="#984EA3"/>
<circle cx="275.4" cy="353.7" r="8.6" fill="#984EA3"/>
<circle cx="286.9" cy="391.2" r="8.6" fill="#984EA3"/>
<circle cx="322.8" cy="422.5" r="8.6" fill="#984EA3"/>
<circle cx="290.1" cy="364.4" r="8.6" fill="#984EA3"/>
<circle cx="277.7" cy="394.4" r="8.6" fill="#984EA3"/>
<circle cx="293.4" cy="423.2" r="8.6" fill="#984EA3"/>
<circle cx="292.1" cy="406.9" r="8.6" fill="#984EA3"/>
<circle cx="292" cy="373" r="8.6" fill="#984EA3"/>
<circle cx="300.2" cy="387.6" r="8.6" fill="#984EA3"/>
<circle cx="293.7" cy="423.4" r="8.6" fill="#984EA3"/>
<circle cx="347.8" cy="403.5" r="8.6" fill="#984EA3"/>
<circle cx="306" cy="422.8" r="8.6" fill="#984EA3"/>
<circle cx="285.3" cy="423.2" r="8.6" fill="#984EA3"/>
<circle cx="296.7" cy="392.1" r="8.6" fill="#984EA3"/>
<circle cx="302" cy="283.7" r="8.6" fill="#984EA3"/>
<circle cx="316.1" cy="333.9" r="8.6" fill="#984EA3"/>
<circle cx="305.7" cy="423.3" r="8.6" fill="#984EA3"/>
<circle cx="289.2" cy="423.3" r="8.6" fill="#984EA3"/>
<circle cx="300.8" cy="423.3" r="8.6" fill="#984EA3"/>
<circle cx="293" cy="422.9" r="8.6" fill="#984EA3"/>
<circle cx="307.3" cy="423.2" r="8.6" fill="#984EA3"/>
<circle cx="287.3" cy="423.1" r="8.6" fill="#984EA3"/>
<circle cx="313.9" cy="422.8" r="8.6" fill="#984EA3"/>
<circle cx="440.2" cy="386.8" r="8.6" fill="#984EA3"/>
<circle cx="356.6" cy="326" r="8.6" fill="#984EA3"/>
<circle cx="302.9" cy="392.6" r="8.6" fill="#984EA3"/>
<circle cx="323.8" cy="386.7" r="8.6" fill="#984EA3"/>
<circle cx="323.9" cy="383.5" r="8.6" fill="#FF7F00"/>
<circle cx="324" cy="320.7" r="8.6" fill="#FF7F00"/>
<circle cx="328.9" cy="392.2" r="8.6" fill="#FF7F00"/>
<circle cx="376" cy="422.9" r="8.6" fill="#FF7F00"/>
<circle cx="382.1" cy="374.1" r="8.6" fill="#FF7F00"/>
<circle cx="284" cy="378.3" r="8.6" fill="#FF7F00"/>
<circle cx="219.6" cy="314.2" r="8.6" fill="#FF7F00"/>
<circle cx="182.6" cy="246.8" r="8.6" fill="#FF7F00"/>
<circle cx="309.6" cy="288.2" r="8.6" fill="#FF7F00"/>
<circle cx="298.5" cy="247.6" r="8.6" fill="#FF7F00"/>
<circle cx="307.1" cy="423.5" r="8.6" fill="#FF7F00"/>
<circle cx="341.6" cy="233.6" r="8.6" fill="#FF7F00"/>
<circle cx="313.4" cy="412.3" r="8.6" fill="#FF7F00"/>
<circle cx="325.5" cy="382.9" r="8.6" fill="#FF7F00"/>
<circle cx="322.7" cy="385.2" r="8.6" fill="#FF7F00"/>
<circle cx="317" cy="394" r="8.6" fill="#FF7F00"/>
<circle cx="323.1" cy="411.9" r="8.6" fill="#FF7F00"/>
<circle cx="318.7" cy="412.7" r="8.6" fill="#FF7F00"/>
<circle cx="343.4" cy="387.6" r="8.6" fill="#FF7F00"/>
<circle cx="304.5" cy="423.2" r="8.6" fill="#FF7F00"/>
<circle cx="303.4" cy="422.8" r="8.6" fill="#FF7F00"/>
<circle cx="327.5" cy="422.7" r="8.6" fill="#FF7F00"/>
<circle cx="322.2" cy="352.5" r="8.6" fill="#FF7F00"/>
<circle cx="365.4" cy="399.1" r="8.6" fill="#FF7F00"/>
<circle cx="332.7" cy="381.2" r="8.6" fill="#FF7F00"/>
<circle cx="359.2" cy="404.9" r="8.6" fill="#FF7F00"/>
<circle cx="323.5" cy="259.1" r="8.6" fill="#FF7F00"/>
<circle cx="324.9" cy="352.8" r="8.6" fill="#FF7F00"/>
<circle cx="341.1" cy="422.9" r="8.6" fill="#FF7F00"/>
<circle cx="336.5" cy="423.4" r="8.6" fill="#FF7F00"/>
<circle cx="334.7" cy="423.1" r="8.6" fill="#FF7F00"/>
<circle cx="361" cy="384.5" r="8.6" fill="#FFFF33"/>
<circle cx="357.1" cy="340.1" r="8.6" fill="#FFFF33"/>
<circle cx="347.2" cy="422.6" r="8.6" fill="#FFFF33"/>
<circle cx="342.4" cy="423.2" r="8.6" fill="#FFFF33"/>
<circle cx="334.7" cy="371.1" r="8.6" fill="#FFFF33"/>
<circle cx="315.2" cy="345.4" r="8.6" fill="#FFFF33"/>
<circle cx="320.5" cy="277.9" r="8.6" fill="#FFFF33"/>
<circle cx="364.5" cy="377.1" r="8.6" fill="#FFFF33"/>
<circle cx="359.2" cy="373.6" r="8.6" fill="#FFFF33"/>
<circle cx="322.2" cy="405.3" r="8.6" fill="#FFFF33"/>
<circle cx="327.1" cy="400.5" r="8.6" fill="#FFFF33"/>
<circle cx="330.4" cy="396" r="8.6" fill="#FFFF33"/>
<circle cx="318.9" cy="398" r="8.6" fill="#FFFF33"/>
<circle cx="323.6" cy="401.8" r="8.6" fill="#FFFF33"/>
<circle cx="370.7" cy="415" r="8.6" fill="#FFFF33"/>
<circle cx="324.4" cy="378.3" r="8.6" fill="#FFFF33"/>
<circle cx="317.8" cy="371.8" r="8.6" fill="#FFFF33"/>
<circle cx="343.4" cy="365.7" r="8.6" fill="#FFFF33"/>
<circle cx="337.6" cy="364.9" r="8.6" fill="#FFFF33"/>
<circle cx="325.5" cy="375.8" r="8.6" fill="#FFFF33"/>
<circle cx="341.6" cy="411.9" r="8.6" fill="#FFFF33"/>
<circle cx="363.1" cy="385.9" r="8.6" fill="#FFFF33"/>
<circle cx="338.1" cy="370.9" r="8.6" fill="#FFFF33"/>
<circle cx="320.8" cy="376.9" r="8.6" fill="#FFFF33"/>
<circle cx="322.2" cy="372.1" r="8.6" fill="#FFFF33"/>
<circle cx="341.3" cy="348.9" r="8.6" fill="#FFFF33"/>
<circle cx="328.8" cy="240.2" r="8.6" fill="#FFFF33"/>
<circle cx="339.9" cy="363.9" r="8.6" fill="#FFFF33"/>
<circle cx="376" cy="344.9" r="8.6" fill="#FFFF33"/>
<circle cx="340.4" cy="275.8" r="8.6" fill="#FFFF33"/>
</g>
<g class="lab" transform="scale(0.92 1)">
<text x="279" y="372.8">14</text>
<text x="250.2" y="392">15</text>
<text x="275" y="401.1">16</text>
<text x="245.9" y="411.5">17</text>
<text x="253.7" y="415.5">18</text>
<text x="239.5" y="384.8">19</text>
<text x="243.9" y="405.4">20</text>
<text x="277.9" y="386.1">21</text>
<text x="232.4" y="393.3">22</text>
<text x="229.6" y="382.1">23</text>
<text x="233.1" y="418.1">24</text>
<text x="225.3" y="422">25</text>
<text x="219.9" y="402.4">26</text>
<text x="224.6" y="403.1">27</text>
<text x="217.5" y="403.1">28</text>
<text x="268.2" y="339.7">29</text>
<text x="253.4" y="381.3">30</text>
<text x="246.3" y="377.3">31</text>
<text x="252.4" y="380.3">32</text>
<text x="246.3" y="405.8">33</text>
<text x="168.2" y="374">34</text>
<text x="235.3" y="404.4">35</text>
<text x="237.4" y="405.7">36</text>
<text x="139.4" y="397.2">37</text>
<text x="199.8" y="359.3">38</text>
<text x="234.1" y="367.8">39</text>
<text x="248.8" y="378.2">40</text>
<text x="251.6" y="379.6">41</text>
<text x="250.2" y="381.5">42</text>
<text x="253.7" y="377.6">43</text>
<text x="258" y="384.2">44</text>
<text x="260.1" y="363.2">45</text>
<text x="263.7" y="420">46</text>
<text x="223.2" y="397.2">47</text>
<text x="264.4" y="426.6">48</text>
<text x="277.9" y="349.5">49</text>
<text x="262.3" y="404.4">50</text>
<text x="260.8" y="385.4">51</text>
<text x="262.3" y="392">52</text>
<text x="271.5" y="415.3">53</text>
<text x="274.9" y="415.8">54</text>
<text x="197.6" y="364.5">55</text>
<text x="194.8" y="376.3">56</text>
<text x="282.8" y="301.8">57</text>
<text x="277.2" y="421.3">58</text>
<text x="273.6" y="420.7">59</text>
<text x="280.7" y="410.3">60</text>
<text x="275" y="407.6">61</text>
<text x="286.4" y="381.5">62</text>
<text x="319.8" y="396.6">63</text>
<text x="320.5" y="346">64</text>
<text x="285" y="415.5">65</text>
<text x="280.7" y="415.5">66</text>
<text x="259.4" y="410.3">67</text>
<text x="283.5" y="401.1">68</text>
<text x="286.4" y="401.8">69</text>
<text x="302" y="407.6">70</text>
<text x="312.7" y="417.4">71</text>
<text x="299.9" y="416.1">72</text>
<text x="297" y="378.9">73</text>
<text x="299.5" y="357.1">74</text>
<text x="289.9" y="426.6">75</text>
<text x="311.9" y="394.6">76</text>
<text x="351" y="425.9">77</text>
<text x="315.5" y="367.8">78</text>
<text x="302" y="397.8">79</text>
<text x="319" y="426.6">80</text>
<text x="317.6" y="410.3">81</text>
<text x="317.5" y="376.4">82</text>
<text x="326.4" y="391">83</text>
<text x="319.3" y="426.8">84</text>
<text x="378.1" y="406.9">85</text>
<text x="332.8" y="426.2">86</text>
<text x="310.2" y="426.6">87</text>
<text x="322.6" y="395.5">88</text>
<text x="328.4" y="287.1">89</text>
<text x="343.7" y="337.3">90</text>
<text x="332.3" y="426.7">91</text>
<text x="314.5" y="426.7">92</text>
<text x="327.1" y="426.7">93</text>
<text x="318.6" y="426.3">94</text>
<text x="334.2" y="426.6">95</text>
<text x="312.4" y="426.5">96</text>
<text x="341.3" y="426.2">97</text>
<text x="478.6" y="390.2">98</text>
<text x="387.7" y="329.4">99</text>
<text x="329.3" y="396">100</text>
<text x="352" y="390.1">101</text>
<text x="352.2" y="386.9">102</text>
<text x="352.3" y="324.1">103</text>
<text x="357.6" y="395.6">104</text>
<text x="408.8" y="426.3">105</text>
<text x="415.5" y="377.5">106</text>
<text x="308.8" y="381.7">107</text>
<text x="238.8" y="317.6">108</text>
<text x="198.6" y="250.2">109</text>
<text x="336.6" y="291.6">110</text>
<text x="324.5" y="251">111</text>
<text x="333.9" y="426.9">112</text>
<text x="371.4" y="237">113</text>
<text x="340.8" y="415.7">114</text>
<text x="353.9" y="386.3">115</text>
<text x="350.9" y="388.6">116</text>
<text x="344.6" y="397.4">117</text>
<text x="351.4" y="415.3">118</text>
<text x="346.5" y="416.1">119</text>
<text x="373.3" y="391">120</text>
<text x="331" y="426.6">121</text>
<text x="329.9" y="426.2">122</text>
<text x="356.1" y="426.1">123</text>
<text x="350.4" y="355.9">124</text>
<text x="397.3" y="402.5">125</text>
<text x="361.8" y="384.6">126</text>
<text x="390.6" y="408.3">127</text>
<text x="351.7" y="262.5">128</text>
<text x="353.2" y="356.2">129</text>
<text x="370.8" y="426.3">130</text>
<text x="365.9" y="426.8">131</text>
<text x="363.9" y="426.5">132</text>
<text x="392.5" y="387.9">133</text>
<text x="388.3" y="343.5">134</text>
<text x="377.5" y="426">135</text>
<text x="372.3" y="426.6">136</text>
<text x="363.9" y="374.5">137</text>
<text x="342.7" y="348.8">138</text>
<text x="348.5" y="281.3">139</text>
<text x="396.3" y="380.5">140</text>
<text x="390.6" y="377">141</text>
<text x="350.4" y="408.7">142</text>
<text x="355.6" y="403.9">143</text>
<text x="359.3" y="399.4">144</text>
<text x="346.7" y="401.4">145</text>
<text x="351.8" y="405.2">146</text>
<text x="403" y="418.4">147</text>
<text x="352.7" y="381.7">148</text>
<text x="345.6" y="375.2">149</text>
<text x="373.3" y="369.1">150</text>
<text x="367.1" y="368.3">151</text>
<text x="354" y="379.2">152</text>
<text x="371.4" y="415.3">153</text>
<text x="394.8" y="389.3">154</text>
<text x="367.7" y="374.3">155</text>
<text x="348.8" y="380.3">156</text>
<text x="350.4" y="375.5">157</text>
<text x="371.1" y="352.3">158</text>
<text x="357.5" y="243.6">159</text>
<text x="369.5" y="367.3">160</text>
<text x="408.8" y="348.3">161</text>
<text x="386.7" y="426.3">162</text>
<text x="370.1" y="279.2">163</text>
</g>
<path class="rib" d="M127.9 299.9C130.5 303.2 138 313.2 143.8 319.6C149.6 326 156.3 332.8 162.5 338.4C168.8 344 175 348.7 181.3 353.4C187.5 358 193.8 362.7 200 366.5C206.3 370.2 212.5 373.5 218.8 375.9C225 378.2 231.3 379.4 237.5 380.5C243.8 381.6 250 382.6 256.3 382.4C262.5 382.3 268.8 380.9 275 379.6C281.3 378.4 287.5 376.5 293.8 374.9C300 373.3 306.3 371.5 312.5 370.2C318.8 369 325 368.1 331.3 367.4C337.5 366.8 343.8 366.9 350 366.5C356.3 366 362.5 365.9 368.7 364.6C375 363.4 381.6 361.3 387.5 359C393.4 356.7 401.2 352 404 350.6L404 419C401.2 417.3 393.4 412.1 387.5 408.6C381.6 405.2 375 401.3 368.7 398.3C362.5 395.4 356.3 392.7 350 390.9C343.8 389 337.5 387.6 331.3 387.1C325 386.7 318.8 387 312.5 388C306.3 389.1 300 391.6 293.8 393.7C287.5 395.7 281.3 398.3 275 400.2C268.8 402.1 262.5 404.1 256.3 404.9C250 405.7 243.8 405.7 237.5 404.9C231.3 404.1 225 401.8 218.8 400.2C212.5 398.6 206.3 396.6 200 395.5C193.8 394.4 187.5 393.4 181.3 393.7C175 394 168.8 395.2 162.5 397.4C156.3 399.6 149.6 403.3 143.8 406.8C138 410.2 130.5 416.1 127.9 418Z"/>
<path class="sm" d="M127.9 358.6C132.1 359.9 144.3 363.6 153.2 366.5C162.1 369.3 171.9 372.7 181.3 375.9C190.7 379 201.6 382.7 209.4 385.2C217.2 387.7 222.5 389.5 228.2 390.9C233.8 392.2 238.2 392.8 243.1 393.1C248.1 393.3 252.8 393 258.1 392.3C263.5 391.7 269.1 390.3 275 389C281 387.6 287.5 386 293.8 384.3C300 382.6 307.2 379.9 312.5 378.7C317.8 377.4 320.9 377 325.6 376.8C330.3 376.5 335 376.8 340.6 377.1C346.3 377.5 353.1 378.2 359.4 379C365.6 379.8 371.9 380.8 378.1 381.8C384.4 382.9 390.6 384.3 396.9 385.6C403.1 386.8 408.6 387.9 415.6 389.4C422.6 390.8 435.1 393.4 439 394.2"/>
<rect class="fr" x="0" y="0" width="604.4" height="442"/>
<path class="tk" d="M-0.7 421.9h-4.2M-0.7 364.5h-4.2M-0.7 307.1h-4.2M-0.7 249.7h-4.2M-0.7 192.3h-4.2M-0.7 134.9h-4.2M-0.7 77.5h-4.2M-0.7 20.1h-4.2M27.5 442.7v4.2M92.1 442.7v4.2M156.8 442.7v4.2M221.4 442.7v4.2M286 442.7v4.2M350.7 442.7v4.2M415.3 442.7v4.2M480 442.7v4.2M544.6 442.7v4.2"/>
<g class="yl">
<text x="-8" y="427.3">0.0</text>
<text x="-8" y="369.9">0.1</text>
<text x="-8" y="312.5">0.2</text>
<text x="-8" y="255.1">0.3</text>
<text x="-8" y="197.7">0.4</text>
<text x="-8" y="140.3">0.5</text>
<text x="-8" y="82.9">0.6</text>
<text x="-8" y="25.5">0.7</text>
</g>
<g class="xl">
<text x="39.1" y="460.6">−100</text>
<text x="103.7" y="460.6">−80</text>
<text x="168.4" y="460.6">−60</text>
<text x="233" y="460.6">−40</text>
<text x="297.6" y="460.6">−20</text>
<text x="362.3" y="460.6">0</text>
<text x="426.9" y="460.6">20</text>
<text x="491.6" y="460.6">40</text>
<text x="556.2" y="460.6">60</text>
</g>
<text class="at" x="313.8" y="479.8">Mobility (% changed)</text>
<text class="at" transform="translate(-36.7 221) rotate(-90)">Case ratio</text>
<text class="lt" x="525" y="32.3">Month</text>
<g class="pts" fill-opacity="0.3">
<circle cx="538.8" cy="56.1" r="8.6" fill="#E41A1C"/>
<circle cx="538.8" cy="82.9" r="8.6" fill="#377EB8"/>
<circle cx="538.8" cy="109.6" r="8.6" fill="#4DAF4A"/>
<circle cx="538.8" cy="136.3" r="8.6" fill="#984EA3"/>
<circle cx="538.8" cy="163.1" r="8.6" fill="#FF7F00"/>
<circle cx="538.8" cy="189.8" r="8.6" fill="#FFFF33"/>
</g>
<g class="ll">
<text x="561" y="60.8">Mar</text>
<text x="561" y="87.6">Apr</text>
<text x="561" y="114.3">May</text>
<text x="561" y="141">Jun</text>
<text x="561" y="167.8">Jul</text>
<text x="561" y="194.5">Aug</text>
</g>
</g>
<g class="panel">
<text class="ttl" x="971.3" y="-42.2">Latvia</text>
<text class="sub" x="971.3" y="-13.3">(Early phase)</text>
<g class="pts" fill-opacity="0.3">
<circle cx="925.7" cy="369.4" r="8.6" fill="#377EB8"/>
<circle cx="899.2" cy="388.6" r="8.6" fill="#377EB8"/>
<circle cx="922" cy="397.7" r="8.6" fill="#377EB8"/>
<circle cx="895.2" cy="408.1" r="8.6" fill="#377EB8"/>
<circle cx="902.4" cy="412.1" r="8.6" fill="#377EB8"/>
<circle cx="889.4" cy="381.4" r="8.6" fill="#377EB8"/>
<circle cx="893.4" cy="402" r="8.6" fill="#377EB8"/>
<circle cx="924.6" cy="382.7" r="8.6" fill="#377EB8"/>
<circle cx="882.8" cy="389.9" r="8.6" fill="#377EB8"/>
<circle cx="880.2" cy="378.7" r="8.6" fill="#377EB8"/>
<circle cx="883.5" cy="414.7" r="8.6" fill="#377EB8"/>
<circle cx="876.3" cy="418.6" r="8.6" fill="#377EB8"/>
<circle cx="871.3" cy="399" r="8.6" fill="#377EB8"/>
<circle cx="875.6" cy="399.7" r="8.6" fill="#377EB8"/>
<circle cx="869.1" cy="399.7" r="8.6" fill="#377EB8"/>
<circle cx="915.7" cy="336.3" r="8.6" fill="#377EB8"/>
<circle cx="902.1" cy="377.9" r="8.6" fill="#377EB8"/>
<circle cx="895.6" cy="373.9" r="8.6" fill="#377EB8"/>
<circle cx="901.2" cy="376.9" r="8.6" fill="#377EB8"/>
<circle cx="895.6" cy="402.4" r="8.6" fill="#377EB8"/>
<circle cx="823.8" cy="370.6" r="8.6" fill="#377EB8"/>
<circle cx="885.5" cy="401" r="8.6" fill="#377EB8"/>
<circle cx="887.4" cy="402.3" r="8.6" fill="#377EB8"/>
<circle cx="797.3" cy="393.8" r="8.6" fill="#377EB8"/>
<circle cx="852.8" cy="355.9" r="8.6" fill="#377EB8"/>
<circle cx="884.4" cy="364.4" r="8.6" fill="#377EB8"/>
<circle cx="897.9" cy="374.8" r="8.6" fill="#377EB8"/>
<circle cx="900.5" cy="376.2" r="8.6" fill="#4DAF4A"/>
<circle cx="899.2" cy="378.1" r="8.6" fill="#4DAF4A"/>
<circle cx="902.4" cy="374.2" r="8.6" fill="#4DAF4A"/>
<circle cx="906.3" cy="380.8" r="8.6" fill="#4DAF4A"/>
<circle cx="908.3" cy="359.8" r="8.6" fill="#4DAF4A"/>
<circle cx="911.6" cy="416.6" r="8.6" fill="#4DAF4A"/>
<circle cx="874.3" cy="393.8" r="8.6" fill="#4DAF4A"/>
<circle cx="912.2" cy="423.2" r="8.6" fill="#4DAF4A"/>
<circle cx="924.6" cy="346.1" r="8.6" fill="#4DAF4A"/>
<circle cx="910.3" cy="401" r="8.6" fill="#4DAF4A"/>
<circle cx="909" cy="382" r="8.6" fill="#4DAF4A"/>
<circle cx="910.3" cy="388.6" r="8.6" fill="#4DAF4A"/>
<circle cx="918.8" cy="411.9" r="8.6" fill="#4DAF4A"/>
<circle cx="921.9" cy="412.4" r="8.6" fill="#4DAF4A"/>
<circle cx="850.8" cy="361.1" r="8.6" fill="#4DAF4A"/>
<circle cx="848.2" cy="372.9" r="8.6" fill="#4DAF4A"/>
<circle cx="929.2" cy="298.4" r="8.6" fill="#4DAF4A"/>
<circle cx="924" cy="417.9" r="8.6" fill="#4DAF4A"/>
<circle cx="920.7" cy="417.3" r="8.6" fill="#4DAF4A"/>
<circle cx="927.2" cy="406.9" r="8.6" fill="#4DAF4A"/>
<circle cx="922" cy="404.2" r="8.6" fill="#4DAF4A"/>
<circle cx="932.5" cy="378.1" r="8.6" fill="#4DAF4A"/>
<circle cx="963.2" cy="393.2" r="8.6" fill="#4DAF4A"/>
<circle cx="963.8" cy="342.6" r="8.6" fill="#4DAF4A"/>
<circle cx="931.2" cy="412.1" r="8.6" fill="#4DAF4A"/>
<circle cx="927.2" cy="412.1" r="8.6" fill="#4DAF4A"/>
<circle cx="907.7" cy="406.9" r="8.6" fill="#4DAF4A"/>
<circle cx="929.9" cy="397.7" r="8.6" fill="#4DAF4A"/>
<circle cx="932.5" cy="398.4" r="8.6" fill="#4DAF4A"/>
<circle cx="946.8" cy="404.2" r="8.6" fill="#4DAF4A"/>
<circle cx="956.7" cy="414" r="8.6" fill="#4DAF4A"/>
<circle cx="944.9" cy="412.7" r="8.6" fill="#984EA3"/>
<circle cx="942.3" cy="375.5" r="8.6" fill="#984EA3"/>
<circle cx="944.5" cy="353.7" r="8.6" fill="#984EA3"/>
<circle cx="956" cy="391.2" r="8.6" fill="#984EA3"/>
<circle cx="959.2" cy="364.4" r="8.6" fill="#984EA3"/>
<circle cx="946.8" cy="394.4" r="8.6" fill="#984EA3"/>
<circle cx="961.2" cy="406.9" r="8.6" fill="#984EA3"/>
</g>
<g class="lab" transform="scale(0.92 1)">
<text x="1006.3" y="372.8">14</text>
<text x="977.5" y="392">15</text>
<text x="1002.3" y="401.1">16</text>
<text x="973.2" y="411.5">17</text>
<text x="981" y="415.5">18</text>
<text x="966.8" y="384.8">19</text>
<text x="971.2" y="405.4">20</text>
<text x="1005.1" y="386.1">21</text>
<text x="959.7" y="393.3">22</text>
<text x="956.9" y="382.1">23</text>
<text x="960.4" y="418.1">24</text>
<text x="952.6" y="422">25</text>
<text x="947.2" y="402.4">26</text>
<text x="951.9" y="403.1">27</text>
<text x="944.8" y="403.1">28</text>
<text x="995.5" y="339.7">29</text>
<text x="980.7" y="381.3">30</text>
<text x="973.6" y="377.3">31</text>
<text x="979.7" y="380.3">32</text>
<text x="973.6" y="405.8">33</text>
<text x="895.5" y="374">34</text>
<text x="962.6" y="404.4">35</text>
<text x="964.7" y="405.7">36</text>
<text x="866.7" y="397.2">37</text>
<text x="927" y="359.3">38</text>
<text x="961.4" y="367.8">39</text>
<text x="976.1" y="378.2">40</text>
<text x="978.9" y="379.6">41</text>
<text x="977.5" y="381.5">42</text>
<text x="981" y="377.6">43</text>
<text x="985.3" y="384.2">44</text>
<text x="987.4" y="363.2">45</text>
<text x="990.9" y="420">46</text>
<text x="950.5" y="397.2">47</text>
<text x="991.6" y="426.6">48</text>
<text x="1005.1" y="349.5">49</text>
<text x="989.5" y="404.4">50</text>
<text x="988.1" y="385.4">51</text>
<text x="989.5" y="392">52</text>
<text x="998.8" y="415.3">53</text>
<text x="1002.2" y="415.8">54</text>
<text x="924.9" y="364.5">55</text>
<text x="922.1" y="376.3">56</text>
<text x="1010.1" y="301.8">57</text>
<text x="1004.4" y="421.3">58</text>
<text x="1000.9" y="420.7">59</text>
<text x="1008" y="410.3">60</text>
<text x="1002.3" y="407.6">61</text>
<text x="1013.7" y="381.5">62</text>
<text x="1047.1" y="396.6">63</text>
<text x="1047.8" y="346">64</text>
<text x="1012.2" y="415.5">65</text>
<text x="1008" y="415.5">66</text>
<text x="986.7" y="410.3">67</text>
<text x="1010.8" y="401.1">68</text>
<text x="1013.7" y="401.8">69</text>
<text x="1029.3" y="407.6">70</text>
<text x="1040" y="417.4">71</text>
<text x="1027.2" y="416.1">72</text>
<text x="1024.3" y="378.9">73</text>
<text x="1026.7" y="357.1">74</text>
<text x="1017.2" y="426.6">75</text>
<text x="1039.2" y="394.6">76</text>
<text x="1078.3" y="425.9">77</text>
<text x="1042.8" y="367.8">78</text>
<text x="1029.3" y="397.8">79</text>
<text x="1046.3" y="426.6">80</text>
<text x="1044.9" y="410.3">81</text>
</g>
<path class="rib" d="M802.1 346.5C804.4 347.8 811.7 352.1 816.2 354.6C820.7 357 824.9 359.2 829.2 361.1C833.6 363.1 838 364.8 842.3 366.3C846.7 367.9 851 368.7 855.4 370.2C859.7 371.8 864.1 373.7 868.5 375.5C872.8 377.2 877.2 379.4 881.5 380.8C885.9 382.1 890.2 382.9 894.6 383.3C898.9 383.8 903.3 383.7 907.7 383.6C912 383.5 915.3 383.4 920.7 382.7C926.2 382 934.9 380 940.3 379.4C945.7 378.8 949 379.1 953.4 379.1C957.7 379.2 963 379.7 966.5 379.8C969.9 380 972.8 380 974 380.1L974 419.9C972.8 418.8 969.9 416.1 966.5 413.4C963 410.7 957.7 406 953.4 403.6C949 401.2 944.7 399.8 940.3 399C936 398.2 932.7 398.5 927.2 399C921.8 399.6 914.2 401.4 907.7 402.3C901.1 403.1 893.5 404.2 888 404.2C882.6 404.2 879.3 403.3 875 402.3C870.6 401.3 866.3 399.6 861.9 398.4C857.6 397.2 853.2 395.5 848.9 395.1C844.5 394.7 840.2 394.6 835.8 395.7C831.5 396.8 827.1 398.7 822.7 401.6C818.4 404.6 813.1 410.2 809.7 413.4C806.2 416.6 803.4 419.7 802.1 421Z"/>
<path class="sm" d="M797.3 386C799.3 385.1 805.4 381.7 809.7 380.5C813.9 379.2 818.4 378.7 822.7 378.5C827.1 378.3 831.5 378.8 835.8 379.4C840.2 380 844.5 380.8 848.9 382C853.2 383.2 857.6 385.1 861.9 386.6C866.3 388.1 871.3 390.2 875 391.2C878.7 392.2 880.9 392.5 884.1 392.9C887.4 393.2 890.6 393.2 894.6 393.2C898.5 393.1 903.7 392.8 907.7 392.5C911.6 392.1 914.8 391.7 918.1 391.2C921.4 390.7 923.5 389.9 927.2 389.6C930.9 389.3 936 388.9 940.3 389.2C944.7 389.5 949 389.8 953.4 391.2C957.7 392.6 962.1 395.1 966.5 397.7C970.8 400.3 975.3 403.6 979.5 406.9C983.8 410.1 989.9 415.6 991.9 417.3"/>
<rect class="fr" x="669.1" y="0" width="604.4" height="442"/>
<path class="tk" d="M668.4 421.9h-4.2M668.4 364.5h-4.2M668.4 307.1h-4.2M668.4 249.7h-4.2M668.4 192.3h-4.2M668.4 134.9h-4.2M668.4 77.5h-4.2M668.4 20.1h-4.2M696.6 442.7v4.2M761.2 442.7v4.2M825.9 442.7v4.2M890.5 442.7v4.2M955.1 442.7v4.2M1019.8 442.7v4.2M1084.4 442.7v4.2M1149.1 442.7v4.2M1213.7 442.7v4.2"/>
<g class="yl">
<text x="661.1" y="427.3">0.0</text>
<text x="661.1" y="369.9">0.1</text>
<text x="661.1" y="312.5">0.2</text>
<text x="661.1" y="255.1">0.3</text>
<text x="661.1" y="197.7">0.4</text>
<text x="661.1" y="140.3">0.5</text>
<text x="661.1" y="82.9">0.6</text>
<text x="661.1" y="25.5">0.7</text>
</g>
<g class="xl">
<text x="708.2" y="460.6">−100</text>
<text x="772.8" y="460.6">−80</text>
<text x="837.5" y="460.6">−60</text>
<text x="902.1" y="460.6">−40</text>
<text x="966.7" y="460.6">−20</text>
<text x="1031.4" y="460.6">0</text>
<text x="1096" y="460.6">20</text>
<text x="1160.7" y="460.6">40</text>
<text x="1225.3" y="460.6">60</text>
</g>
<text class="at" x="982.9" y="479.8">Mobility (% changed)</text>
<text class="at" transform="translate(632.4 221) rotate(-90)">Case ratio</text>
<text class="lt" x="1194.1" y="59.1">Month</text>
<g class="pts" fill-opacity="0.3">
<circle cx="1207.9" cy="82.9" r="8.6" fill="#E41A1C"/>
<circle cx="1207.9" cy="109.6" r="8.6" fill="#377EB8"/>
<circle cx="1207.9" cy="136.3" r="8.6" fill="#4DAF4A"/>
<circle cx="1207.9" cy="163.1" r="8.6" fill="#984EA3"/>
</g>
<g class="ll">
<text x="1230.1" y="87.6">Mar</text>
<text x="1230.1" y="114.3">Apr</text>
<text x="1230.1" y="141">May</text>
<text x="1230.1" y="167.8">Jun</text>
</g>
</g>
<g class="panel">
<text class="ttl" x="1640.4" y="-42.2">Latvia</text>
<text class="sub" x="1640.4" y="-13.3">(Late phase)</text>
<g class="pts" fill-opacity="0.3">
<circle cx="1630.2" cy="373" r="8.6" fill="#800080"/>
<circle cx="1638.4" cy="387.6" r="8.6" fill="#800080"/>
<circle cx="1631.9" cy="423.4" r="8.6" fill="#800080"/>
<circle cx="1686" cy="403.5" r="8.6" fill="#800080"/>
<circle cx="1644.2" cy="422.8" r="8.6" fill="#800080"/>
<circle cx="1623.5" cy="423.2" r="8.6" fill="#800080"/>
<circle cx="1634.9" cy="392.1" r="8.6" fill="#800080"/>
<circle cx="1640.2" cy="283.7" r="8.6" fill="#800080"/>
<circle cx="1654.3" cy="333.9" r="8.6" fill="#800080"/>
<circle cx="1643.9" cy="423.3" r="8.6" fill="#800080"/>
<circle cx="1627.4" cy="423.3" r="8.6" fill="#800080"/>
<circle cx="1639" cy="423.3" r="8.6" fill="#800080"/>
<circle cx="1631.2" cy="422.9" r="8.6" fill="#800080"/>
<circle cx="1645.5" cy="423.2" r="8.6" fill="#800080"/>
<circle cx="1625.5" cy="423.1" r="8.6" fill="#800080"/>
<circle cx="1652.1" cy="422.8" r="8.6" fill="#800080"/>
<circle cx="1778.4" cy="386.8" r="8.6" fill="#800080"/>
<circle cx="1694.8" cy="326" r="8.6" fill="#800080"/>
<circle cx="1641.1" cy="392.6" r="8.6" fill="#800080"/>
<circle cx="1662" cy="386.7" r="8.6" fill="#800080"/>
<circle cx="1662.1" cy="383.5" r="8.6" fill="#FF8C00"/>
<circle cx="1662.2" cy="320.7" r="8.6" fill="#FF8C00"/>
<circle cx="1667.1" cy="392.2" r="8.6" fill="#FF8C00"/>
<circle cx="1714.2" cy="422.9" r="8.6" fill="#FF8C00"/>
<circle cx="1720.3" cy="374.1" r="8.6" fill="#FF8C00"/>
<circle cx="1622.2" cy="378.3" r="8.6" fill="#FF8C00"/>
<circle cx="1557.8" cy="314.2" r="8.6" fill="#FF8C00"/>
<circle cx="1520.8" cy="246.8" r="8.6" fill="#FF8C00"/>
<circle cx="1647.8" cy="288.2" r="8.6" fill="#FF8C00"/>
<circle cx="1636.7" cy="247.6" r="8.6" fill="#FF8C00"/>
<circle cx="1645.3" cy="423.5" r="8.6" fill="#FF8C00"/>
<circle cx="1679.8" cy="233.6" r="8.6" fill="#FF8C00"/>
<circle cx="1651.6" cy="412.3" r="8.6" fill="#FF8C00"/>
<circle cx="1663.7" cy="382.9" r="8.6" fill="#FF8C00"/>
<circle cx="1660.9" cy="385.2" r="8.6" fill="#FF8C00"/>
<circle cx="1655.2" cy="394" r="8.6" fill="#FF8C00"/>
<circle cx="1661.3" cy="411.9" r="8.6" fill="#FF8C00"/>
<circle cx="1656.9" cy="412.7" r="8.6" fill="#FF8C00"/>
<circle cx="1681.6" cy="387.6" r="8.6" fill="#FF8C00"/>
<circle cx="1642.7" cy="423.2" r="8.6" fill="#FF8C00"/>
<circle cx="1641.6" cy="422.8" r="8.6" fill="#FF8C00"/>
<circle cx="1665.7" cy="422.7" r="8.6" fill="#FF8C00"/>
<circle cx="1660.4" cy="352.5" r="8.6" fill="#FF8C00"/>
<circle cx="1703.6" cy="399.1" r="8.6" fill="#FF8C00"/>
<circle cx="1670.9" cy="381.2" r="8.6" fill="#FF8C00"/>
<circle cx="1697.4" cy="404.9" r="8.6" fill="#FF8C00"/>
<circle cx="1661.7" cy="259.1" r="8.6" fill="#FF8C00"/>
<circle cx="1663.1" cy="352.8" r="8.6" fill="#FF8C00"/>
<circle cx="1679.3" cy="422.9" r="8.6" fill="#FF8C00"/>
<circle cx="1674.7" cy="423.4" r="8.6" fill="#FF8C00"/>
<circle cx="1672.9" cy="423.1" r="8.6" fill="#FF8C00"/>
<circle cx="1699.2" cy="384.5" r="8.6" fill="#FFFF00"/>
<circle cx="1695.3" cy="340.1" r="8.6" fill="#FFFF00"/>
<circle cx="1685.4" cy="422.6" r="8.6" fill="#FFFF00"/>
<circle cx="1680.6" cy="423.2" r="8.6" fill="#FFFF00"/>
<circle cx="1672.9" cy="371.1" r="8.6" fill="#FFFF00"/>
<circle cx="1653.4" cy="345.4" r="8.6" fill="#FFFF00"/>
<circle cx="1658.7" cy="277.9" r="8.6" fill="#FFFF00"/>
<circle cx="1702.7" cy="377.1" r="8.6" fill="#FFFF00"/>
<circle cx="1697.4" cy="373.6" r="8.6" fill="#FFFF00"/>
<circle cx="1660.4" cy="405.3" r="8.6" fill="#FFFF00"/>
<circle cx="1665.3" cy="400.5" r="8.6" fill="#FFFF00"/>
<circle cx="1668.6" cy="396" r="8.6" fill="#FFFF00"/>
<circle cx="1657.1" cy="398" r="8.6" fill="#FFFF00"/>
<circle cx="1661.8" cy="401.8" r="8.6" fill="#FFFF00"/>
<circle cx="1708.9" cy="415" r="8.6" fill="#FFFF00"/>
<circle cx="1662.6" cy="378.3" r="8.6" fill="#FFFF00"/>
<circle cx="1656" cy="371.8" r="8.6" fill="#FFFF00"/>
<circle cx="1681.6" cy="365.7" r="8.6" fill="#FFFF00"/>
<circle cx="1675.8" cy="364.9" r="8.6" fill="#FFFF00"/>
<circle cx="1663.7" cy="375.8" r="8.6" fill="#FFFF00"/>
<circle cx="1679.8" cy="411.9" r="8.6" fill="#FFFF00"/>
<circle cx="1701.3" cy="385.9" r="8.6" fill="#FFFF00"/>
<circle cx="1676.3" cy="370.9" r="8.6" fill="#FFFF00"/>
<circle cx="1659" cy="376.9" r="8.6" fill="#FFFF00"/>
<circle cx="1660.4" cy="372.1" r="8.6" fill="#FFFF00"/>
<circle cx="1679.5" cy="348.9" r="8.6" fill="#FFFF00"/>
<circle cx="1667" cy="240.2" r="8.6" fill="#FFFF00"/>
<circle cx="1678.1" cy="363.9" r="8.6" fill="#FFFF00"/>
<circle cx="1714.2" cy="344.9" r="8.6" fill="#FFFF00"/>
<circle cx="1693.9" cy="422.9" r="8.6" fill="#FFFF00"/>
<circle cx="1678.6" cy="275.8" r="8.6" fill="#FFFF00"/>
</g>
<g class="lab" transform="scale(0.92 1)">
<text x="1772" y="376.4">82</text>
<text x="1781" y="391">83</text>
<text x="1773.9" y="426.8">84</text>
<text x="1832.7" y="406.9">85</text>
<text x="1787.3" y="426.2">86</text>
<text x="1764.7" y="426.6">87</text>
<text x="1777.2" y="395.5">88</text>
<text x="1782.9" y="287.1">89</text>
<text x="1798.3" y="337.3">90</text>
<text x="1786.9" y="426.7">91</text>
<text x="1769" y="426.7">92</text>
<text x="1781.6" y="426.7">93</text>
<text x="1773.1" y="426.3">94</text>
<text x="1788.7" y="426.6">95</text>
<text x="1767" y="426.5">96</text>
<text x="1795.9" y="426.2">97</text>
<text x="1933.2" y="390.2">98</text>
<text x="1842.3" y="329.4">99</text>
<text x="1783.9" y="396">100</text>
<text x="1806.6" y="390.1">101</text>
<text x="1806.7" y="386.9">102</text>
<text x="1806.9" y="324.1">103</text>
<text x="1812.1" y="395.6">104</text>
<text x="1863.3" y="426.3">105</text>
<text x="1870" y="377.5">106</text>
<text x="1763.4" y="381.7">107</text>
<text x="1693.4" y="317.6">108</text>
<text x="1653.2" y="250.2">109</text>
<text x="1791.2" y="291.6">110</text>
<text x="1779.1" y="251">111</text>
<text x="1788.5" y="426.9">112</text>
<text x="1826" y="237">113</text>
<text x="1795.4" y="415.7">114</text>
<text x="1808.5" y="386.3">115</text>
<text x="1805.4" y="388.6">116</text>
<text x="1799.2" y="397.4">117</text>
<text x="1805.9" y="415.3">118</text>
<text x="1801.1" y="416.1">119</text>
<text x="1827.9" y="391">120</text>
<text x="1785.6" y="426.6">121</text>
<text x="1784.4" y="426.2">122</text>
<text x="1810.7" y="426.1">123</text>
<text x="1804.9" y="355.9">124</text>
<text x="1851.8" y="402.5">125</text>
<text x="1816.4" y="384.6">126</text>
<text x="1845.1" y="408.3">127</text>
<text x="1806.3" y="262.5">128</text>
<text x="1807.8" y="356.2">129</text>
<text x="1825.4" y="426.3">130</text>
<text x="1820.5" y="426.8">131</text>
<text x="1818.4" y="426.5">132</text>
<text x="1847.1" y="387.9">133</text>
<text x="1842.8" y="343.5">134</text>
<text x="1832.1" y="426">135</text>
<text x="1826.8" y="426.6">136</text>
<text x="1818.5" y="374.5">137</text>
<text x="1797.3" y="348.8">138</text>
<text x="1803" y="281.3">139</text>
<text x="1850.9" y="380.5">140</text>
<text x="1845.1" y="377">141</text>
<text x="1804.9" y="408.7">142</text>
<text x="1810.2" y="403.9">143</text>
<text x="1813.9" y="399.4">144</text>
<text x="1801.3" y="401.4">145</text>
<text x="1806.4" y="405.2">146</text>
<text x="1857.6" y="418.4">147</text>
<text x="1807.3" y="381.7">148</text>
<text x="1800.2" y="375.2">149</text>
<text x="1827.9" y="369.1">150</text>
<text x="1821.6" y="368.3">151</text>
<text x="1808.5" y="379.2">152</text>
<text x="1826" y="415.3">153</text>
<text x="1849.3" y="389.3">154</text>
<text x="1822.2" y="374.3">155</text>
<text x="1803.4" y="380.3">156</text>
<text x="1804.9" y="375.5">157</text>
<text x="1825.6" y="352.3">158</text>
<text x="1812" y="243.6">159</text>
<text x="1824.1" y="367.3">160</text>
<text x="1863.3" y="348.3">161</text>
<text x="1841.3" y="426.3">162</text>
<text x="1824.6" y="279.2">163</text>
</g>
<path class="rib" d="M1520.5 156.9C1522.1 162.5 1526.5 179.5 1530.2 190.4C1533.8 201.3 1538.1 211.8 1542.5 222.1C1546.9 232.4 1551.6 242.4 1556.6 252.1C1561.5 261.7 1567.4 271.7 1572.4 280.2C1577.4 288.8 1583.2 297.4 1586.5 303.1C1589.8 308.9 1591.3 312.7 1592.3 314.6L1592.3 421.1C1591.3 420.2 1589.2 418.8 1586.5 415.8C1583.8 412.9 1580 408.8 1575.9 403.5C1571.8 398.2 1566.5 390.9 1561.8 384.1C1557.1 377.4 1552.4 369.8 1547.7 363C1543 356.3 1538.2 348.7 1533.7 343.6C1529.1 338.5 1522.7 334.1 1520.5 332.2Z"/>
<path class="rib" d="M1621.7 347.1C1624.1 348.9 1629.9 355.5 1635.8 357.7C1641.7 359.9 1650.5 360.2 1656.9 360.4C1663.4 360.5 1668.7 358.7 1674.5 358.6C1680.4 358.4 1686.3 359.6 1692.1 359.5C1698 359.3 1704.7 358.9 1709.8 357.7C1714.8 356.6 1720.3 353.3 1722.4 352.5L1722.4 422.9C1720.3 420.2 1714.8 411.1 1709.8 407C1704.7 402.9 1699.5 400 1692.1 398.2C1684.8 396.4 1673.7 395.8 1665.7 396.4C1657.8 397 1650.2 399.3 1644.6 401.7C1639 404.1 1636.1 406.9 1632.3 410.5C1628.5 414.2 1623.5 421.5 1621.7 423.7Z"/>
<path class="sm" d="M1520.8 246.8C1523 251.5 1529.2 265.9 1533.7 275C1538.2 284.1 1543.7 294.2 1547.7 301.4C1551.8 308.5 1553.7 311.6 1557.8 318.1C1561.9 324.5 1567.6 333.5 1572.4 340.1C1577.2 346.7 1581.8 352.5 1586.5 357.7C1591.2 363 1596.2 368 1600.6 371.8C1605 375.6 1608.8 378.7 1612.9 380.6C1617 382.5 1620.8 383.2 1625.2 383.2C1629.6 383.2 1634.6 381.5 1639.3 380.6C1644 379.7 1649.3 379.1 1653.4 377.9C1657.5 376.8 1660.4 374.2 1664 373.6C1667.5 373 1670.4 373.7 1674.5 374.4C1678.6 375.2 1684.2 376.6 1688.6 377.9C1693 379.3 1695.9 380.9 1700.9 382.4C1705.9 383.8 1712.7 385.8 1718.6 386.8C1724.4 387.8 1730.3 388.2 1736.2 388.5C1742 388.8 1746.7 388.8 1753.8 388.5C1760.8 388.2 1774.3 387.1 1778.4 386.8"/>
<rect class="fr" x="1338.2" y="0" width="604.4" height="442"/>
<path class="tk" d="M1337.5 421.9h-4.2M1337.5 364.5h-4.2M1337.5 307.1h-4.2M1337.5 249.7h-4.2M1337.5 192.3h-4.2M1337.5 134.9h-4.2M1337.5 77.5h-4.2M1337.5 20.1h-4.2M1365.7 442.7v4.2M1430.3 442.7v4.2M1495 442.7v4.2M1559.6 442.7v4.2M1624.2 442.7v4.2M1688.9 442.7v4.2M1753.5 442.7v4.2M1818.2 442.7v4.2M1882.8 442.7v4.2"/>
<g class="yl">
<text x="1330.2" y="427.3">0.0</text>
<text x="1330.2" y="369.9">0.1</text>
<text x="1330.2" y="312.5">0.2</text>
<text x="1330.2" y="255.1">0.3</text>
<text x="1330.2" y="197.7">0.4</text>
<text x="1330.2" y="140.3">0.5</text>
<text x="1330.2" y="82.9">0.6</text>
<text x="1330.2" y="25.5">0.7</text>
</g>
<g class="xl">
<text x="1377.3" y="460.6">−100</text>
<text x="1441.9" y="460.6">−80</text>
<text x="1506.6" y="460.6">−60</text>
<text x="1571.2" y="460.6">−40</text>
<text x="1635.8" y="460.6">−20</text>
<text x="1700.5" y="460.6">0</text>
<text x="1765.1" y="460.6">20</text>
<text x="1829.8" y="460.6">40</text>
<text x="1894.4" y="460.6">60</text>
</g>
<text class="at" x="1652" y="479.8">Mobility (% changed)</text>
<text class="at" transform="translate(1301.5 221) rotate(-90)">Case ratio</text>
<text class="lt" x="1864.2" y="72.4">Month</text>
<g class="pts" fill-opacity="0.3">
<circle cx="1878" cy="96.2" r="8.6" fill="#800080"/>
<circle cx="1878" cy="123" r="8.6" fill="#FF8C00"/>
<circle cx="1878" cy="149.7" r="8.6" fill="#FFFF00"/>
</g>
<g class="ll">
<text x="1900.2" y="100.9">Jun</text>
<text x="1900.2" y="127.7">Jul</text>
<text x="1900.2" y="154.4">Aug</text>
</g>
</g>
</g>
<g class="row" transform="translate(70.9 1902.55) scale(0.998)">
<g class="panel">
<text class="ttl" x="302.2" y="-42.2">Lithuania</text>
<text class="sub" x="302.2" y="-13.3">(All period)</text>
<g class="pts" fill-opacity="0.3">
<circle cx="183.5" cy="391.1" r="8.6" fill="#377EB8"/>
<circle cx="189.9" cy="388.2" r="8.6" fill="#377EB8"/>
<circle cx="184.2" cy="392.5" r="8.6" fill="#377EB8"/>
<circle cx="192.3" cy="388.7" r="8.6" fill="#377EB8"/>
<circle cx="188.2" cy="384.8" r="8.6" fill="#377EB8"/>
<circle cx="181.2" cy="386.7" r="8.6" fill="#377EB8"/>
<circle cx="183.8" cy="375.8" r="8.6" fill="#377EB8"/>
<circle cx="177.3" cy="414.1" r="8.6" fill="#377EB8"/>
<circle cx="183.5" cy="415.3" r="8.6" fill="#377EB8"/>
<circle cx="174.3" cy="423" r="8.6" fill="#377EB8"/>
<circle cx="172.8" cy="398.8" r="8.6" fill="#377EB8"/>
<circle cx="175" cy="355.5" r="8.6" fill="#377EB8"/>
<circle cx="202.4" cy="311.5" r="8.6" fill="#377EB8"/>
<circle cx="219.8" cy="357.8" r="8.6" fill="#377EB8"/>
<circle cx="189.3" cy="382.5" r="8.6" fill="#377EB8"/>
<circle cx="215.4" cy="383.1" r="8.6" fill="#377EB8"/>
<circle cx="208" cy="399.2" r="8.6" fill="#377EB8"/>
<circle cx="207.3" cy="389.5" r="8.6" fill="#377EB8"/>
<circle cx="198.1" cy="407.7" r="8.6" fill="#377EB8"/>
<circle cx="182.7" cy="423" r="8.6" fill="#377EB8"/>
<circle cx="141" cy="397.7" r="8.6" fill="#377EB8"/>
<circle cx="100.7" cy="404.1" r="8.6" fill="#377EB8"/>
<circle cx="187.3" cy="406.1" r="8.6" fill="#377EB8"/>
<circle cx="192.1" cy="384.8" r="8.6" fill="#377EB8"/>
<circle cx="184.4" cy="382.2" r="8.6" fill="#377EB8"/>
<circle cx="195" cy="391.8" r="8.6" fill="#377EB8"/>
<circle cx="200.6" cy="390.7" r="8.6" fill="#4DAF4A"/>
<circle cx="187.7" cy="400" r="8.6" fill="#4DAF4A"/>
<circle cx="189.9" cy="390.6" r="8.6" fill="#4DAF4A"/>
<circle cx="196.3" cy="393" r="8.6" fill="#4DAF4A"/>
<circle cx="199.6" cy="391.7" r="8.6" fill="#4DAF4A"/>
<circle cx="243.6" cy="403" r="8.6" fill="#4DAF4A"/>
<circle cx="243" cy="389.8" r="8.6" fill="#4DAF4A"/>
<circle cx="237.9" cy="395" r="8.6" fill="#4DAF4A"/>
<circle cx="236.9" cy="390.5" r="8.6" fill="#4DAF4A"/>
<circle cx="231.2" cy="395.3" r="8.6" fill="#4DAF4A"/>
<circle cx="231.7" cy="395.4" r="8.6" fill="#4DAF4A"/>
<circle cx="234.9" cy="399.2" r="8.6" fill="#4DAF4A"/>
<circle cx="236.7" cy="398.1" r="8.6" fill="#4DAF4A"/>
<circle cx="241" cy="396.1" r="8.6" fill="#4DAF4A"/>
<circle cx="279.3" cy="367" r="8.6" fill="#4DAF4A"/>
<circle cx="302" cy="373.1" r="8.6" fill="#4DAF4A"/>
<circle cx="234.1" cy="390.8" r="8.6" fill="#4DAF4A"/>
<circle cx="239.5" cy="394.6" r="8.6" fill="#4DAF4A"/>
<circle cx="245.3" cy="359.8" r="8.6" fill="#4DAF4A"/>
<circle cx="244.4" cy="364.7" r="8.6" fill="#4DAF4A"/>
<circle cx="255.6" cy="360.1" r="8.6" fill="#4DAF4A"/>
<circle cx="304.7" cy="389" r="8.6" fill="#4DAF4A"/>
<circle cx="321.5" cy="383.1" r="8.6" fill="#4DAF4A"/>
<circle cx="258.6" cy="360.4" r="8.6" fill="#4DAF4A"/>
<circle cx="245.3" cy="376.7" r="8.6" fill="#4DAF4A"/>
<circle cx="247.1" cy="407.3" r="8.6" fill="#4DAF4A"/>
<circle cx="257.1" cy="390.8" r="8.6" fill="#4DAF4A"/>
<circle cx="263.3" cy="386.2" r="8.6" fill="#4DAF4A"/>
<circle cx="288.6" cy="398.1" r="8.6" fill="#4DAF4A"/>
<circle cx="282.7" cy="389.2" r="8.6" fill="#4DAF4A"/>
<circle cx="257.9" cy="401.5" r="8.6" fill="#4DAF4A"/>
<circle cx="260.2" cy="410" r="8.6" fill="#984EA3"/>
<circle cx="269.4" cy="402.3" r="8.6" fill="#984EA3"/>
<circle cx="265.5" cy="413" r="8.6" fill="#984EA3"/>
<circle cx="271.7" cy="403.8" r="8.6" fill="#984EA3"/>
<circle cx="330" cy="377.8" r="8.6" fill="#984EA3"/>
<circle cx="291.3" cy="350.9" r="8.6" fill="#984EA3"/>
<circle cx="274.8" cy="381.6" r="8.6" fill="#984EA3"/>
<circle cx="264.8" cy="366.2" r="8.6" fill="#984EA3"/>
<circle cx="281.6" cy="376.7" r="8.6" fill="#984EA3"/>
<circle cx="277.2" cy="381.8" r="8.6" fill="#984EA3"/>
<circle cx="285" cy="308" r="8.6" fill="#984EA3"/>
<circle cx="293" cy="384.8" r="8.6" fill="#984EA3"/>
<circle cx="340.3" cy="379.2" r="8.6" fill="#984EA3"/>
<circle cx="285.7" cy="391.7" r="8.6" fill="#984EA3"/>
<circle cx="287.6" cy="391.9" r="8.6" fill="#984EA3"/>
<circle cx="295" cy="384.8" r="8.6" fill="#984EA3"/>
<circle cx="292.8" cy="410.6" r="8.6" fill="#984EA3"/>
<circle cx="337.9" cy="380" r="8.6" fill="#984EA3"/>
<circle cx="313.7" cy="422.8" r="8.6" fill="#984EA3"/>
<circle cx="354" cy="402.7" r="8.6" fill="#984EA3"/>
<circle cx="282.4" cy="402.7" r="8.6" fill="#984EA3"/>
<circle cx="284.3" cy="402.1" r="8.6" fill="#984EA3"/>
<circle cx="286.3" cy="403.4" r="8.6" fill="#984EA3"/>
<circle cx="303.9" cy="414.5" r="8.6" fill="#984EA3"/>
<circle cx="304.6" cy="400.2" r="8.6" fill="#984EA3"/>
<circle cx="352.3" cy="400.8" r="8.6" fill="#984EA3"/>
<circle cx="345.7" cy="365.5" r="8.6" fill="#984EA3"/>
<circle cx="295.1" cy="390.6" r="8.6" fill="#984EA3"/>
<circle cx="311.8" cy="422.8" r="8.6" fill="#984EA3"/>
<circle cx="344.2" cy="373.5" r="8.6" fill="#984EA3"/>
<circle cx="303.3" cy="386.8" r="8.6" fill="#FF7F00"/>
<circle cx="309.8" cy="323.5" r="8.6" fill="#FF7F00"/>
<circle cx="360.2" cy="379.1" r="8.6" fill="#FF7F00"/>
<circle cx="316.3" cy="412.3" r="8.6" fill="#FF7F00"/>
<circle cx="321.6" cy="346.6" r="8.6" fill="#FF7F00"/>
<circle cx="340.5" cy="350.1" r="8.6" fill="#FF7F00"/>
<circle cx="224" cy="380.2" r="8.6" fill="#FF7F00"/>
<circle cx="314.1" cy="307" r="8.6" fill="#FF7F00"/>
<circle cx="323.5" cy="372.2" r="8.6" fill="#FF7F00"/>
<circle cx="316.4" cy="407.1" r="8.6" fill="#FF7F00"/>
<circle cx="320.3" cy="407.3" r="8.6" fill="#FF7F00"/>
<circle cx="316.3" cy="389.2" r="8.6" fill="#FF7F00"/>
<circle cx="372.8" cy="379" r="8.6" fill="#FF7F00"/>
<circle cx="316.6" cy="413.2" r="8.6" fill="#FF7F00"/>
<circle cx="315" cy="404.7" r="8.6" fill="#FF7F00"/>
<circle cx="310.2" cy="272.4" r="8.6" fill="#FF7F00"/>
<circle cx="336.4" cy="367.2" r="8.6" fill="#FF7F00"/>
<circle cx="302.1" cy="390.9" r="8.6" fill="#FF7F00"/>
<circle cx="228.4" cy="320.1" r="8.6" fill="#FF7F00"/>
<circle cx="318.7" cy="340.1" r="8.6" fill="#FF7F00"/>
<circle cx="318.9" cy="413.6" r="8.6" fill="#FF7F00"/>
<circle cx="318.3" cy="408" r="8.6" fill="#FF7F00"/>
<circle cx="370.8" cy="378.6" r="8.6" fill="#FF7F00"/>
<circle cx="356.6" cy="302.5" r="8.6" fill="#FF7F00"/>
<circle cx="321.1" cy="406.8" r="8.6" fill="#FF7F00"/>
<circle cx="323.2" cy="367.1" r="8.6" fill="#FF7F00"/>
<circle cx="376.4" cy="359" r="8.6" fill="#FF7F00"/>
<circle cx="379.1" cy="359.3" r="8.6" fill="#FF7F00"/>
<circle cx="318.6" cy="386" r="8.6" fill="#FF7F00"/>
<circle cx="357.3" cy="372.2" r="8.6" fill="#FF7F00"/>
<circle cx="311.6" cy="405.1" r="8.6" fill="#FF7F00"/>
<circle cx="390.8" cy="364.2" r="8.6" fill="#FFFF33"/>
<circle cx="319.7" cy="361.5" r="8.6" fill="#FFFF33"/>
<circle cx="332.1" cy="387.2" r="8.6" fill="#FFFF33"/>
<circle cx="322.1" cy="365.7" r="8.6" fill="#FFFF33"/>
<circle cx="333" cy="386.7" r="8.6" fill="#FFFF33"/>
<circle cx="318.3" cy="372.8" r="8.6" fill="#FFFF33"/>
<circle cx="337.2" cy="392.3" r="8.6" fill="#FFFF33"/>
<circle cx="405.2" cy="329.6" r="8.6" fill="#FFFF33"/>
<circle cx="318.4" cy="363.9" r="8.6" fill="#FFFF33"/>
<circle cx="328" cy="388.5" r="8.6" fill="#FFFF33"/>
<circle cx="328.5" cy="380.9" r="8.6" fill="#FFFF33"/>
<circle cx="314.4" cy="357.8" r="8.6" fill="#FFFF33"/>
<circle cx="325.4" cy="385" r="8.6" fill="#FFFF33"/>
<circle cx="321.2" cy="364" r="8.6" fill="#FFFF33"/>
<circle cx="390.1" cy="355.7" r="8.6" fill="#FFFF33"/>
<circle cx="364.7" cy="376.6" r="8.6" fill="#FFFF33"/>
<circle cx="324.1" cy="392.3" r="8.6" fill="#FFFF33"/>
<circle cx="332.7" cy="357" r="8.6" fill="#FFFF33"/>
<circle cx="322.9" cy="372.1" r="8.6" fill="#FFFF33"/>
<circle cx="367.9" cy="377.3" r="8.6" fill="#FFFF33"/>
<circle cx="358.1" cy="366.9" r="8.6" fill="#FFFF33"/>
<circle cx="384.9" cy="375" r="8.6" fill="#FFFF33"/>
<circle cx="321.4" cy="356.1" r="8.6" fill="#FFFF33"/>
<circle cx="318.7" cy="394.1" r="8.6" fill="#FFFF33"/>
<circle cx="318.2" cy="375.9" r="8.6" fill="#FFFF33"/>
<circle cx="326.1" cy="362.7" r="8.6" fill="#FFFF33"/>
<circle cx="317.6" cy="387.6" r="8.6" fill="#FFFF33"/>
<circle cx="358.8" cy="361.6" r="8.6" fill="#FFFF33"/>
<circle cx="387.8" cy="385.4" r="8.6" fill="#FFFF33"/>
<circle cx="370.6" cy="376.6" r="8.6" fill="#FFFF33"/>
<circle cx="313.6" cy="359.2" r="8.6" fill="#FFFF33"/>
</g>
<g class="lab" transform="scale(0.92 1)">
<text x="222.9" y="426.4">14</text>
<text x="199.5" y="394.5">15</text>
<text x="206.6" y="391.6">16</text>
<text x="200.3" y="395.9">17</text>
<text x="209.2" y="392.1">18</text>
<text x="204.6" y="388.2">19</text>
<text x="197.1" y="390.1">20</text>
<text x="199.9" y="379.2">21</text>
<text x="192.9" y="417.5">22</text>
<text x="199.5" y="418.7">23</text>
<text x="189.5" y="426.4">24</text>
<text x="187.9" y="402.2">25</text>
<text x="190.4" y="358.9">26</text>
<text x="220.1" y="314.9">27</text>
<text x="239.1" y="361.2">28</text>
<text x="205.8" y="385.9">29</text>
<text x="234.2" y="386.5">30</text>
<text x="226.2" y="402.6">31</text>
<text x="225.4" y="392.9">32</text>
<text x="215.4" y="411.1">33</text>
<text x="198.7" y="426.4">34</text>
<text x="153.4" y="401.1">35</text>
<text x="109.5" y="407.5">36</text>
<text x="203.7" y="409.5">37</text>
<text x="209" y="388.2">38</text>
<text x="200.5" y="385.6">39</text>
<text x="212" y="395.2">40</text>
<text x="218.1" y="394.1">41</text>
<text x="204.1" y="403.4">42</text>
<text x="206.5" y="394">43</text>
<text x="213.5" y="396.4">44</text>
<text x="217.1" y="395.1">45</text>
<text x="264.9" y="406.4">46</text>
<text x="264.3" y="393.2">47</text>
<text x="258.7" y="398.4">48</text>
<text x="257.6" y="393.9">49</text>
<text x="251.4" y="398.7">50</text>
<text x="252" y="398.8">51</text>
<text x="255.4" y="402.6">52</text>
<text x="257.4" y="401.5">53</text>
<text x="262.1" y="399.5">54</text>
<text x="303.7" y="370.4">55</text>
<text x="328.4" y="376.5">56</text>
<text x="254.6" y="394.2">57</text>
<text x="260.4" y="398">58</text>
<text x="266.7" y="363.2">59</text>
<text x="265.7" y="368.1">60</text>
<text x="277.9" y="363.5">61</text>
<text x="331.3" y="392.4">62</text>
<text x="349.6" y="386.5">63</text>
<text x="281.2" y="363.8">64</text>
<text x="266.7" y="380.1">65</text>
<text x="268.7" y="410.7">66</text>
<text x="279.6" y="394.2">67</text>
<text x="286.3" y="389.6">68</text>
<text x="313.8" y="401.5">69</text>
<text x="307.4" y="392.6">70</text>
<text x="280.4" y="404.9">71</text>
<text x="282.9" y="413.4">72</text>
<text x="292.9" y="405.7">73</text>
<text x="288.7" y="416.4">74</text>
<text x="295.4" y="407.2">75</text>
<text x="358.8" y="381.2">76</text>
<text x="316.7" y="354.3">77</text>
<text x="298.8" y="385">78</text>
<text x="287.9" y="369.6">79</text>
<text x="306.2" y="380.1">80</text>
<text x="301.4" y="385.2">81</text>
<text x="309.9" y="311.4">82</text>
<text x="318.6" y="388.2">83</text>
<text x="370" y="382.6">84</text>
<text x="310.6" y="395.1">85</text>
<text x="312.7" y="395.3">86</text>
<text x="320.8" y="388.2">87</text>
<text x="318.4" y="414">88</text>
<text x="367.4" y="383.4">89</text>
<text x="341.1" y="426.2">90</text>
<text x="384.9" y="406.1">91</text>
<text x="307.1" y="406.1">92</text>
<text x="309.2" y="405.5">93</text>
<text x="311.3" y="406.8">94</text>
<text x="330.4" y="417.9">95</text>
<text x="331.2" y="403.6">96</text>
<text x="383" y="404.2">97</text>
<text x="375.9" y="368.9">98</text>
<text x="320.9" y="394">99</text>
<text x="339" y="426.2">100</text>
<text x="374.2" y="376.9">101</text>
<text x="329.8" y="390.2">102</text>
<text x="336.8" y="326.9">103</text>
<text x="391.6" y="382.5">104</text>
<text x="343.9" y="415.7">105</text>
<text x="349.6" y="350">106</text>
<text x="370.2" y="353.5">107</text>
<text x="243.6" y="383.6">108</text>
<text x="341.6" y="310.4">109</text>
<text x="351.8" y="375.6">110</text>
<text x="344" y="410.5">111</text>
<text x="348.2" y="410.7">112</text>
<text x="343.9" y="392.6">113</text>
<text x="405.3" y="382.4">114</text>
<text x="344.3" y="416.6">115</text>
<text x="342.5" y="408.1">116</text>
<text x="337.3" y="275.8">117</text>
<text x="365.7" y="370.6">118</text>
<text x="328.5" y="394.3">119</text>
<text x="248.4" y="323.5">120</text>
<text x="346.5" y="343.5">121</text>
<text x="346.8" y="417">122</text>
<text x="346.1" y="411.4">123</text>
<text x="403.1" y="382">124</text>
<text x="387.7" y="305.9">125</text>
<text x="349.1" y="410.2">126</text>
<text x="351.4" y="370.5">127</text>
<text x="409.3" y="362.4">128</text>
<text x="412.1" y="362.7">129</text>
<text x="346.4" y="389.4">130</text>
<text x="388.5" y="375.6">131</text>
<text x="338.8" y="408.5">132</text>
<text x="424.9" y="367.6">133</text>
<text x="347.6" y="364.9">134</text>
<text x="361.1" y="390.6">135</text>
<text x="350.3" y="369.1">136</text>
<text x="362" y="390.1">137</text>
<text x="346" y="376.2">138</text>
<text x="366.7" y="395.7">139</text>
<text x="440.5" y="333">140</text>
<text x="346.2" y="367.3">141</text>
<text x="356.6" y="391.9">142</text>
<text x="357.2" y="384.3">143</text>
<text x="341.9" y="361.2">144</text>
<text x="353.8" y="388.4">145</text>
<text x="349.2" y="367.4">146</text>
<text x="424.2" y="359.1">147</text>
<text x="396.5" y="380">148</text>
<text x="352.4" y="395.7">149</text>
<text x="361.7" y="360.4">150</text>
<text x="351.1" y="375.5">151</text>
<text x="400" y="380.7">152</text>
<text x="389.4" y="370.3">153</text>
<text x="418.5" y="378.4">154</text>
<text x="349.4" y="359.5">155</text>
<text x="346.6" y="397.5">156</text>
<text x="346" y="379.3">157</text>
<text x="354.5" y="366.1">158</text>
<text x="345.3" y="391">159</text>
<text x="390.1" y="365">160</text>
<text x="421.6" y="388.8">161</text>
<text x="402.9" y="380">162</text>
<text x="341" y="362.6">163</text>
</g>
<path class="rib" d="M139.9 382.1C143 382.5 152.3 384 158.8 384.1C165.3 384.3 172 384 178.7 383.2C185.3 382.3 191.9 380.3 198.5 379.1C205.2 378 211.8 376.8 218.4 376.2C225.1 375.5 231.7 375.2 238.3 375.2C244.9 375.2 251.6 375.8 258.2 376.2C264.8 376.5 271.4 377.7 278.1 377.2C284.7 376.7 291.3 374.8 298 373.2C304.6 371.5 311.2 368.9 317.8 367.2C324.5 365.5 331.1 364.6 337.7 363.2C344.3 361.9 351 360.9 357.6 359.3C364.2 357.6 371.5 356 377.5 353.3C383.4 350.7 388.9 346.4 393.4 343.4C397.8 340.4 402.5 336.7 404.3 335.4L404.3 380.2C402.5 379.7 397.8 378.2 393.4 377.2C388.9 376.2 383.4 374.7 377.5 374.2C371.5 373.7 364.2 373.7 357.6 374.2C351 374.7 344.3 375.7 337.7 377.2C331.1 378.7 324.5 381 317.8 383.2C311.2 385.3 304.6 388.5 298 390.1C291.3 391.8 284.7 392.8 278.1 393.1C271.4 393.4 264.8 392.3 258.2 392.1C251.6 391.8 244.9 391.3 238.3 391.5C231.7 391.7 225.1 392.3 218.4 393.1C211.8 393.9 205.2 394.6 198.5 396.1C191.9 397.6 185.3 399.6 178.7 402C172 404.5 165.3 407.8 158.8 410.9C152.3 414.1 143 419.3 139.9 420.9Z"/>
<path class="sm" d="M101.1 410.6C105.8 409.3 119.4 405.6 129 403C138.6 400.4 148.9 397.4 158.8 395C168.7 392.7 178.7 390.8 188.6 389.1C198.5 387.4 210.1 385.7 218.4 384.7C226.7 383.7 231.7 383.4 238.3 383.2C244.9 383 251.6 383.2 258.2 383.5C264.8 383.8 273.1 385.2 278.1 385.1C283 385.1 283 384.3 288 383.2C293 382 301.3 379.8 307.9 378.2C314.5 376.5 321.1 374.7 327.8 373.2C334.4 371.6 341 370.2 347.6 368.8C354.3 367.4 360.9 366.3 367.5 364.9C374.2 363.4 381.3 361.8 387.4 360.3C393.6 358.7 401.5 356.5 404.3 355.7"/>
<rect class="fr" x="0" y="0" width="604.4" height="442"/>
<path class="tk" d="M-0.7 421.9h-4.2M-0.7 364.5h-4.2M-0.7 307.1h-4.2M-0.7 249.7h-4.2M-0.7 192.3h-4.2M-0.7 134.9h-4.2M-0.7 77.5h-4.2M-0.7 20.1h-4.2M27.5 442.7v4.2M92.1 442.7v4.2M156.8 442.7v4.2M221.4 442.7v4.2M286 442.7v4.2M350.7 442.7v4.2M415.3 442.7v4.2M480 442.7v4.2M544.6 442.7v4.2"/>
<g class="yl">
<text x="-8" y="427.3">0.0</text>
<text x="-8" y="369.9">0.1</text>
<text x="-8" y="312.5">0.2</text>
<text x="-8" y="255.1">0.3</text>
<text x="-8" y="197.7">0.4</text>
<text x="-8" y="140.3">0.5</text>
<text x="-8" y="82.9">0.6</text>
<text x="-8" y="25.5">0.7</text>
</g>
<g class="xl">
<text x="39.1" y="460.6">−100</text>
<text x="103.7" y="460.6">−80</text>
<text x="168.4" y="460.6">−60</text>
<text x="233" y="460.6">−40</text>
<text x="297.6" y="460.6">−20</text>
<text x="362.3" y="460.6">0</text>
<text x="426.9" y="460.6">20</text>
<text x="491.6" y="460.6">40</text>
<text x="556.2" y="460.6">60</text>
</g>
<text class="at" x="313.8" y="479.8">Mobility (% changed)</text>
<text class="at" transform="translate(-36.7 221) rotate(-90)">Case ratio</text>
<text class="lt" x="525" y="32.3">Month</text>
<g class="pts" fill-opacity="0.3">
<circle cx="538.8" cy="56.1" r="8.6" fill="#E41A1C"/>
<circle cx="538.8" cy="82.9" r="8.6" fill="#377EB8"/>
<circle cx="538.8" cy="109.6" r="8.6" fill="#4DAF4A"/>
<circle cx="538.8" cy="136.3" r="8.6" fill="#984EA3"/>
<circle cx="538.8" cy="163.1" r="8.6" fill="#FF7F00"/>
<circle cx="538.8" cy="189.8" r="8.6" fill="#FFFF33"/>
</g>
<g class="ll">
<text x="561" y="60.8">Mar</text>
<text x="561" y="87.6">Apr</text>
<text x="561" y="114.3">May</text>
<text x="561" y="141">Jun</text>
<text x="561" y="167.8">Jul</text>
<text x="561" y="194.5">Aug</text>
</g>
</g>
<g class="panel">
<text class="ttl" x="971.3" y="-42.2">Lithuania</text>
<text class="sub" x="971.3" y="-13.3">(Early phase)</text>
<g class="pts" fill-opacity="0.3">
<circle cx="874" cy="423" r="8.6" fill="#377EB8"/>
<circle cx="852.6" cy="391.1" r="8.6" fill="#377EB8"/>
<circle cx="859" cy="388.2" r="8.6" fill="#377EB8"/>
<circle cx="853.3" cy="392.5" r="8.6" fill="#377EB8"/>
<circle cx="861.4" cy="388.7" r="8.6" fill="#377EB8"/>
<circle cx="857.3" cy="384.8" r="8.6" fill="#377EB8"/>
<circle cx="850.3" cy="386.7" r="8.6" fill="#377EB8"/>
<circle cx="852.9" cy="375.8" r="8.6" fill="#377EB8"/>
<circle cx="846.4" cy="414.1" r="8.6" fill="#377EB8"/>
<circle cx="852.6" cy="415.3" r="8.6" fill="#377EB8"/>
<circle cx="843.4" cy="423" r="8.6" fill="#377EB8"/>
<circle cx="841.9" cy="398.8" r="8.6" fill="#377EB8"/>
<circle cx="844.1" cy="355.5" r="8.6" fill="#377EB8"/>
<circle cx="871.5" cy="311.5" r="8.6" fill="#377EB8"/>
<circle cx="888.9" cy="357.8" r="8.6" fill="#377EB8"/>
<circle cx="858.4" cy="382.5" r="8.6" fill="#377EB8"/>
<circle cx="884.5" cy="383.1" r="8.6" fill="#377EB8"/>
<circle cx="877.1" cy="399.2" r="8.6" fill="#377EB8"/>
<circle cx="876.4" cy="389.5" r="8.6" fill="#377EB8"/>
<circle cx="867.2" cy="407.7" r="8.6" fill="#377EB8"/>
<circle cx="851.8" cy="423" r="8.6" fill="#377EB8"/>
<circle cx="810.1" cy="397.7" r="8.6" fill="#377EB8"/>
<circle cx="769.8" cy="404.1" r="8.6" fill="#377EB8"/>
<circle cx="856.4" cy="406.1" r="8.6" fill="#377EB8"/>
<circle cx="861.2" cy="384.8" r="8.6" fill="#377EB8"/>
<circle cx="853.5" cy="382.2" r="8.6" fill="#377EB8"/>
<circle cx="864.1" cy="391.8" r="8.6" fill="#377EB8"/>
<circle cx="869.7" cy="390.7" r="8.6" fill="#4DAF4A"/>
<circle cx="856.8" cy="400" r="8.6" fill="#4DAF4A"/>
<circle cx="859" cy="390.6" r="8.6" fill="#4DAF4A"/>
<circle cx="865.4" cy="393" r="8.6" fill="#4DAF4A"/>
<circle cx="868.7" cy="391.7" r="8.6" fill="#4DAF4A"/>
<circle cx="912.7" cy="403" r="8.6" fill="#4DAF4A"/>
<circle cx="912.1" cy="389.8" r="8.6" fill="#4DAF4A"/>
<circle cx="907" cy="395" r="8.6" fill="#4DAF4A"/>
<circle cx="906" cy="390.5" r="8.6" fill="#4DAF4A"/>
<circle cx="900.3" cy="395.3" r="8.6" fill="#4DAF4A"/>
<circle cx="900.8" cy="395.4" r="8.6" fill="#4DAF4A"/>
<circle cx="904" cy="399.2" r="8.6" fill="#4DAF4A"/>
<circle cx="905.8" cy="398.1" r="8.6" fill="#4DAF4A"/>
<circle cx="910.1" cy="396.1" r="8.6" fill="#4DAF4A"/>
<circle cx="948.4" cy="367" r="8.6" fill="#4DAF4A"/>
<circle cx="971.1" cy="373.1" r="8.6" fill="#4DAF4A"/>
<circle cx="903.2" cy="390.8" r="8.6" fill="#4DAF4A"/>
<circle cx="908.6" cy="394.6" r="8.6" fill="#4DAF4A"/>
<circle cx="914.4" cy="359.8" r="8.6" fill="#4DAF4A"/>
<circle cx="913.5" cy="364.7" r="8.6" fill="#4DAF4A"/>
<circle cx="924.7" cy="360.1" r="8.6" fill="#4DAF4A"/>
<circle cx="973.8" cy="389" r="8.6" fill="#4DAF4A"/>
<circle cx="990.6" cy="383.1" r="8.6" fill="#4DAF4A"/>
<circle cx="927.7" cy="360.4" r="8.6" fill="#4DAF4A"/>
<circle cx="914.4" cy="376.7" r="8.6" fill="#4DAF4A"/>
<circle cx="916.2" cy="407.3" r="8.6" fill="#4DAF4A"/>
<circle cx="926.2" cy="390.8" r="8.6" fill="#4DAF4A"/>
<circle cx="932.4" cy="386.2" r="8.6" fill="#4DAF4A"/>
<circle cx="957.7" cy="398.1" r="8.6" fill="#4DAF4A"/>
<circle cx="951.8" cy="389.2" r="8.6" fill="#4DAF4A"/>
<circle cx="927" cy="401.5" r="8.6" fill="#4DAF4A"/>
<circle cx="929.3" cy="410" r="8.6" fill="#984EA3"/>
<circle cx="938.5" cy="402.3" r="8.6" fill="#984EA3"/>
<circle cx="934.6" cy="413" r="8.6" fill="#984EA3"/>
<circle cx="940.8" cy="403.8" r="8.6" fill="#984EA3"/>
<circle cx="999.1" cy="377.8" r="8.6" fill="#984EA3"/>
<circle cx="960.4" cy="350.9" r="8.6" fill="#984EA3"/>
<circle cx="943.9" cy="381.6" r="8.6" fill="#984EA3"/>
<circle cx="933.9" cy="366.2" r="8.6" fill="#984EA3"/>
<circle cx="950.7" cy="376.7" r="8.6" fill="#984EA3"/>
</g>
<g class="lab" transform="scale(0.92 1)">
<text x="950.2" y="426.4">14</text>
<text x="926.8" y="394.5">15</text>
<text x="933.9" y="391.6">16</text>
<text x="927.6" y="395.9">17</text>
<text x="936.5" y="392.1">18</text>
<text x="931.9" y="388.2">19</text>
<text x="924.4" y="390.1">20</text>
<text x="927.2" y="379.2">21</text>
<text x="920.2" y="417.5">22</text>
<text x="926.8" y="418.7">23</text>
<text x="916.8" y="426.4">24</text>
<text x="915.2" y="402.2">25</text>
<text x="917.7" y="358.9">26</text>
<text x="947.3" y="314.9">27</text>
<text x="966.4" y="361.2">28</text>
<text x="933.1" y="385.9">29</text>
<text x="961.5" y="386.5">30</text>
<text x="953.5" y="402.6">31</text>
<text x="952.7" y="392.9">32</text>
<text x="942.7" y="411.1">33</text>
<text x="926" y="426.4">34</text>
<text x="880.7" y="401.1">35</text>
<text x="836.8" y="407.5">36</text>
<text x="931" y="409.5">37</text>
<text x="936.2" y="388.2">38</text>
<text x="927.8" y="385.6">39</text>
<text x="939.3" y="395.2">40</text>
<text x="945.4" y="394.1">41</text>
<text x="931.4" y="403.4">42</text>
<text x="933.8" y="394">43</text>
<text x="940.8" y="396.4">44</text>
<text x="944.4" y="395.1">45</text>
<text x="992.1" y="406.4">46</text>
<text x="991.5" y="393.2">47</text>
<text x="986" y="398.4">48</text>
<text x="984.9" y="393.9">49</text>
<text x="978.7" y="398.7">50</text>
<text x="979.2" y="398.8">51</text>
<text x="982.7" y="402.6">52</text>
<text x="984.7" y="401.5">53</text>
<text x="989.4" y="399.5">54</text>
<text x="1031" y="370.4">55</text>
<text x="1055.7" y="376.5">56</text>
<text x="981.8" y="394.2">57</text>
<text x="987.7" y="398">58</text>
<text x="994" y="363.2">59</text>
<text x="993" y="368.1">60</text>
<text x="1005.2" y="363.5">61</text>
<text x="1058.5" y="392.4">62</text>
<text x="1076.9" y="386.5">63</text>
<text x="1008.5" y="363.8">64</text>
<text x="994" y="380.1">65</text>
<text x="996" y="410.7">66</text>
<text x="1006.9" y="394.2">67</text>
<text x="1013.5" y="389.6">68</text>
<text x="1041" y="401.5">69</text>
<text x="1034.7" y="392.6">70</text>
<text x="1007.7" y="404.9">71</text>
<text x="1010.2" y="413.4">72</text>
<text x="1020.2" y="405.7">73</text>
<text x="1016" y="416.4">74</text>
<text x="1022.7" y="407.2">75</text>
<text x="1086" y="381.2">76</text>
<text x="1044" y="354.3">77</text>
<text x="1026" y="385">78</text>
<text x="1015.2" y="369.6">79</text>
<text x="1033.5" y="380.1">80</text>
</g>
<path class="rib" d="M805 384.4C807.5 384.7 814.6 385.8 819.6 386.2C824.6 386.6 829.8 387.2 834.9 387C840.1 386.7 845.2 386.1 850.3 384.7C855.4 383.2 860.5 380.4 865.6 378.5C870.8 376.6 875.9 374.4 881 373.1C886.1 371.8 891.2 371.1 896.3 370.8C901.4 370.6 906.5 370.8 911.6 371.6C916.7 372.4 921.9 375 927 375.5C932.1 376 937.2 375.4 942.3 374.7C947.4 373.9 952.5 372.5 957.7 370.8C962.8 369.2 967.9 367.3 973 364.7C978.1 362.2 984 358.2 988.3 355.5C992.6 352.8 997 349.8 998.7 348.6L998.7 405.4C997 404.6 992.6 402.4 988.3 400.7C984 399.1 978.1 396.4 973 395.4C967.9 394.4 962.8 394.6 957.7 394.6C952.5 394.6 947.4 395 942.3 395.4C937.2 395.8 932.1 396.7 927 396.9C921.9 397.2 916.7 397.2 911.6 396.9C906.5 396.7 901.4 395.6 896.3 395.4C891.2 395.1 886.1 394.9 881 395.4C875.9 395.9 870.8 396.9 865.6 398.4C860.5 400 855.4 402.4 850.3 404.6C845.2 406.7 840.1 409.3 834.9 411.5C829.8 413.6 824.6 415.7 819.6 417.6C814.6 419.5 807.5 422.1 805 423Z"/>
<path class="sm" d="M769.8 403.4C773 403.4 781.9 403.7 788.9 403.4C796 403.1 804.3 402.5 812 401.5C819.6 400.6 828.5 399 834.9 397.7C841.3 396.4 845.9 395 850.3 393.8C854.6 392.7 857.7 391.9 861 390.8C864.3 389.6 866.9 388 870.2 387C873.6 385.9 876.6 385 881 384.4C885.3 383.7 891.7 383.2 896.3 383.1C900.9 383 904.7 383.5 908.6 383.9C912.4 384.3 914.9 385.5 919.3 385.7C923.6 386 929.5 385.7 934.6 385.4C939.8 385.1 944.9 384.5 950 383.9C955.1 383.3 960.2 382.7 965.3 381.9C970.4 381.1 975 380.1 980.6 379.3C986.3 378.4 996 377.1 999.1 376.7"/>
<rect class="fr" x="669.1" y="0" width="604.4" height="442"/>
<path class="tk" d="M668.4 421.9h-4.2M668.4 364.5h-4.2M668.4 307.1h-4.2M668.4 249.7h-4.2M668.4 192.3h-4.2M668.4 134.9h-4.2M668.4 77.5h-4.2M668.4 20.1h-4.2M696.6 442.7v4.2M761.2 442.7v4.2M825.9 442.7v4.2M890.5 442.7v4.2M955.1 442.7v4.2M1019.8 442.7v4.2M1084.4 442.7v4.2M1149.1 442.7v4.2M1213.7 442.7v4.2"/>
<g class="yl">
<text x="661.1" y="427.3">0.0</text>
<text x="661.1" y="369.9">0.1</text>
<text x="661.1" y="312.5">0.2</text>
<text x="661.1" y="255.1">0.3</text>
<text x="661.1" y="197.7">0.4</text>
<text x="661.1" y="140.3">0.5</text>
<text x="661.1" y="82.9">0.6</text>
<text x="661.1" y="25.5">0.7</text>
</g>
<g class="xl">
<text x="708.2" y="460.6">−100</text>
<text x="772.8" y="460.6">−80</text>
<text x="837.5" y="460.6">−60</text>
<text x="902.1" y="460.6">−40</text>
<text x="966.7" y="460.6">−20</text>
<text x="1031.4" y="460.6">0</text>
<text x="1096" y="460.6">20</text>
<text x="1160.7" y="460.6">40</text>
<text x="1225.3" y="460.6">60</text>
</g>
<text class="at" x="982.9" y="479.8">Mobility (% changed)</text>
<text class="at" transform="translate(632.4 221) rotate(-90)">Case ratio</text>
<text class="lt" x="1194.1" y="59.1">Month</text>
<g class="pts" fill-opacity="0.3">
<circle cx="1207.9" cy="82.9" r="8.6" fill="#E41A1C"/>
<circle cx="1207.9" cy="109.6" r="8.6" fill="#377EB8"/>
<circle cx="1207.9" cy="136.3" r="8.6" fill="#4DAF4A"/>
<circle cx="1207.9" cy="163.1" r="8.6" fill="#984EA3"/>
</g>
<g class="ll">
<text x="1230.1" y="87.6">Mar</text>
<text x="1230.1" y="114.3">Apr</text>
<text x="1230.1" y="141">May</text>
<text x="1230.1" y="167.8">Jun</text>
</g>
</g>
<g class="panel">
<text class="ttl" x="1640.4" y="-42.2">Lithuania</text>
<text class="sub" x="1640.4" y="-13.3">(Late phase)</text>
<g class="pts" fill-opacity="0.3">
<circle cx="1615.4" cy="381.8" r="8.6" fill="#800080"/>
<circle cx="1623.2" cy="308" r="8.6" fill="#800080"/>
<circle cx="1631.2" cy="384.8" r="8.6" fill="#800080"/>
<circle cx="1678.5" cy="379.2" r="8.6" fill="#800080"/>
<circle cx="1623.9" cy="391.7" r="8.6" fill="#800080"/>
<circle cx="1625.8" cy="391.9" r="8.6" fill="#800080"/>
<circle cx="1633.2" cy="384.8" r="8.6" fill="#800080"/>
<circle cx="1631" cy="410.6" r="8.6" fill="#800080"/>
<circle cx="1676.1" cy="380" r="8.6" fill="#800080"/>
<circle cx="1651.9" cy="422.8" r="8.6" fill="#800080"/>
<circle cx="1692.2" cy="402.7" r="8.6" fill="#800080"/>
<circle cx="1620.6" cy="402.7" r="8.6" fill="#800080"/>
<circle cx="1622.5" cy="402.1" r="8.6" fill="#800080"/>
<circle cx="1624.5" cy="403.4" r="8.6" fill="#800080"/>
<circle cx="1642.1" cy="414.5" r="8.6" fill="#800080"/>
<circle cx="1642.8" cy="400.2" r="8.6" fill="#800080"/>
<circle cx="1690.5" cy="400.8" r="8.6" fill="#800080"/>
<circle cx="1683.9" cy="365.5" r="8.6" fill="#800080"/>
<circle cx="1633.3" cy="390.6" r="8.6" fill="#800080"/>
<circle cx="1650" cy="422.8" r="8.6" fill="#800080"/>
<circle cx="1682.4" cy="373.5" r="8.6" fill="#800080"/>
<circle cx="1641.5" cy="386.8" r="8.6" fill="#FF8C00"/>
<circle cx="1648" cy="323.5" r="8.6" fill="#FF8C00"/>
<circle cx="1698.4" cy="379.1" r="8.6" fill="#FF8C00"/>
<circle cx="1654.5" cy="412.3" r="8.6" fill="#FF8C00"/>
<circle cx="1659.8" cy="346.6" r="8.6" fill="#FF8C00"/>
<circle cx="1678.7" cy="350.1" r="8.6" fill="#FF8C00"/>
<circle cx="1562.2" cy="380.2" r="8.6" fill="#FF8C00"/>
<circle cx="1652.3" cy="307" r="8.6" fill="#FF8C00"/>
<circle cx="1661.7" cy="372.2" r="8.6" fill="#FF8C00"/>
<circle cx="1654.6" cy="407.1" r="8.6" fill="#FF8C00"/>
<circle cx="1658.5" cy="407.3" r="8.6" fill="#FF8C00"/>
<circle cx="1654.5" cy="389.2" r="8.6" fill="#FF8C00"/>
<circle cx="1711" cy="379" r="8.6" fill="#FF8C00"/>
<circle cx="1654.8" cy="413.2" r="8.6" fill="#FF8C00"/>
<circle cx="1653.2" cy="404.7" r="8.6" fill="#FF8C00"/>
<circle cx="1648.4" cy="272.4" r="8.6" fill="#FF8C00"/>
<circle cx="1674.6" cy="367.2" r="8.6" fill="#FF8C00"/>
<circle cx="1640.3" cy="390.9" r="8.6" fill="#FF8C00"/>
<circle cx="1566.6" cy="320.1" r="8.6" fill="#FF8C00"/>
<circle cx="1656.9" cy="340.1" r="8.6" fill="#FF8C00"/>
<circle cx="1657.1" cy="413.6" r="8.6" fill="#FF8C00"/>
<circle cx="1656.5" cy="408" r="8.6" fill="#FF8C00"/>
<circle cx="1709" cy="378.6" r="8.6" fill="#FF8C00"/>
<circle cx="1694.8" cy="302.5" r="8.6" fill="#FF8C00"/>
<circle cx="1659.3" cy="406.8" r="8.6" fill="#FF8C00"/>
<circle cx="1661.4" cy="367.1" r="8.6" fill="#FF8C00"/>
<circle cx="1714.6" cy="359" r="8.6" fill="#FF8C00"/>
<circle cx="1717.3" cy="359.3" r="8.6" fill="#FF8C00"/>
<circle cx="1656.8" cy="386" r="8.6" fill="#FF8C00"/>
<circle cx="1695.5" cy="372.2" r="8.6" fill="#FF8C00"/>
<circle cx="1649.8" cy="405.1" r="8.6" fill="#FF8C00"/>
<circle cx="1729" cy="364.2" r="8.6" fill="#FFFF00"/>
<circle cx="1657.9" cy="361.5" r="8.6" fill="#FFFF00"/>
<circle cx="1670.3" cy="387.2" r="8.6" fill="#FFFF00"/>
<circle cx="1660.3" cy="365.7" r="8.6" fill="#FFFF00"/>
<circle cx="1671.2" cy="386.7" r="8.6" fill="#FFFF00"/>
<circle cx="1656.5" cy="372.8" r="8.6" fill="#FFFF00"/>
<circle cx="1675.4" cy="392.3" r="8.6" fill="#FFFF00"/>
<circle cx="1743.4" cy="329.6" r="8.6" fill="#FFFF00"/>
<circle cx="1656.6" cy="363.9" r="8.6" fill="#FFFF00"/>
<circle cx="1666.2" cy="388.5" r="8.6" fill="#FFFF00"/>
<circle cx="1666.7" cy="380.9" r="8.6" fill="#FFFF00"/>
<circle cx="1652.6" cy="357.8" r="8.6" fill="#FFFF00"/>
<circle cx="1663.6" cy="385" r="8.6" fill="#FFFF00"/>
<circle cx="1659.4" cy="364" r="8.6" fill="#FFFF00"/>
<circle cx="1728.3" cy="355.7" r="8.6" fill="#FFFF00"/>
<circle cx="1702.9" cy="376.6" r="8.6" fill="#FFFF00"/>
<circle cx="1662.3" cy="392.3" r="8.6" fill="#FFFF00"/>
<circle cx="1670.9" cy="357" r="8.6" fill="#FFFF00"/>
<circle cx="1661.1" cy="372.1" r="8.6" fill="#FFFF00"/>
<circle cx="1706.1" cy="377.3" r="8.6" fill="#FFFF00"/>
<circle cx="1696.3" cy="366.9" r="8.6" fill="#FFFF00"/>
<circle cx="1723.1" cy="375" r="8.6" fill="#FFFF00"/>
<circle cx="1659.6" cy="356.1" r="8.6" fill="#FFFF00"/>
<circle cx="1656.9" cy="394.1" r="8.6" fill="#FFFF00"/>
<circle cx="1656.4" cy="375.9" r="8.6" fill="#FFFF00"/>
<circle cx="1664.3" cy="362.7" r="8.6" fill="#FFFF00"/>
<circle cx="1655.8" cy="387.6" r="8.6" fill="#FFFF00"/>
<circle cx="1697" cy="361.6" r="8.6" fill="#FFFF00"/>
<circle cx="1726" cy="385.4" r="8.6" fill="#FFFF00"/>
<circle cx="1708.8" cy="376.6" r="8.6" fill="#FFFF00"/>
<circle cx="1651.8" cy="359.2" r="8.6" fill="#FFFF00"/>
</g>
<g class="lab" transform="scale(0.92 1)">
<text x="1755.9" y="385.2">81</text>
<text x="1764.4" y="311.4">82</text>
<text x="1773.2" y="388.2">83</text>
<text x="1824.5" y="382.6">84</text>
<text x="1765.2" y="395.1">85</text>
<text x="1767.3" y="395.3">86</text>
<text x="1775.3" y="388.2">87</text>
<text x="1773" y="414">88</text>
<text x="1822" y="383.4">89</text>
<text x="1795.7" y="426.2">90</text>
<text x="1839.4" y="406.1">91</text>
<text x="1761.6" y="406.1">92</text>
<text x="1763.7" y="405.5">93</text>
<text x="1765.9" y="406.8">94</text>
<text x="1785" y="417.9">95</text>
<text x="1785.8" y="403.6">96</text>
<text x="1837.6" y="404.2">97</text>
<text x="1830.5" y="368.9">98</text>
<text x="1775.5" y="394">99</text>
<text x="1793.6" y="426.2">100</text>
<text x="1828.8" y="376.9">101</text>
<text x="1784.3" y="390.2">102</text>
<text x="1791.4" y="326.9">103</text>
<text x="1846.2" y="382.5">104</text>
<text x="1798.5" y="415.7">105</text>
<text x="1804.2" y="350">106</text>
<text x="1824.8" y="353.5">107</text>
<text x="1698.1" y="383.6">108</text>
<text x="1796.1" y="310.4">109</text>
<text x="1806.3" y="375.6">110</text>
<text x="1798.5" y="410.5">111</text>
<text x="1802.8" y="410.7">112</text>
<text x="1798.5" y="392.6">113</text>
<text x="1859.8" y="382.4">114</text>
<text x="1798.8" y="416.6">115</text>
<text x="1797.1" y="408.1">116</text>
<text x="1791.9" y="275.8">117</text>
<text x="1820.3" y="370.6">118</text>
<text x="1783.1" y="394.3">119</text>
<text x="1702.9" y="323.5">120</text>
<text x="1801.1" y="343.5">121</text>
<text x="1801.4" y="417">122</text>
<text x="1800.6" y="411.4">123</text>
<text x="1857.7" y="382">124</text>
<text x="1842.2" y="305.9">125</text>
<text x="1803.7" y="410.2">126</text>
<text x="1806" y="370.5">127</text>
<text x="1863.8" y="362.4">128</text>
<text x="1866.7" y="362.7">129</text>
<text x="1801" y="389.4">130</text>
<text x="1843.1" y="375.6">131</text>
<text x="1793.4" y="408.5">132</text>
<text x="1879.5" y="367.6">133</text>
<text x="1802.2" y="364.9">134</text>
<text x="1815.6" y="390.6">135</text>
<text x="1804.8" y="369.1">136</text>
<text x="1816.6" y="390.1">137</text>
<text x="1800.6" y="376.2">138</text>
<text x="1821.2" y="395.7">139</text>
<text x="1895.1" y="333">140</text>
<text x="1800.7" y="367.3">141</text>
<text x="1811.2" y="391.9">142</text>
<text x="1811.7" y="384.3">143</text>
<text x="1796.4" y="361.2">144</text>
<text x="1808.4" y="388.4">145</text>
<text x="1803.8" y="367.4">146</text>
<text x="1878.7" y="359.1">147</text>
<text x="1851.1" y="380">148</text>
<text x="1807" y="395.7">149</text>
<text x="1816.3" y="360.4">150</text>
<text x="1805.7" y="375.5">151</text>
<text x="1854.6" y="380.7">152</text>
<text x="1844" y="370.3">153</text>
<text x="1873.1" y="378.4">154</text>
<text x="1804" y="359.5">155</text>
<text x="1801.1" y="397.5">156</text>
<text x="1800.5" y="379.3">157</text>
<text x="1809.1" y="366.1">158</text>
<text x="1799.9" y="391">159</text>
<text x="1844.7" y="365">160</text>
<text x="1876.2" y="388.8">161</text>
<text x="1857.5" y="380">162</text>
<text x="1795.5" y="362.6">163</text>
</g>
<path class="rib" d="M1562.4 310.7C1564.5 314.1 1570.6 325.5 1574.9 331.6C1579.1 337.7 1583.6 342.9 1587.9 347.2C1592.3 351.6 1596.6 354.6 1601 357.7C1605.3 360.7 1609.7 363.6 1614 365.5C1618.4 367.5 1622.8 368.8 1627.1 369.4C1631.5 370.1 1635.8 370.1 1640.2 369.4C1644.5 368.8 1648.9 366.1 1653.2 365.5C1657.6 365 1661.9 366.2 1666.3 366.2C1670.6 366.2 1675 365.9 1679.4 365.5C1683.7 365.2 1688.1 365.1 1692.4 364.2C1696.8 363.3 1701.1 362.3 1705.5 360.3C1709.8 358.4 1714.2 357.2 1718.6 352.5C1722.9 347.7 1727.5 339.4 1731.6 331.6C1735.7 323.7 1741.2 309.8 1743.1 305.4L1743.1 383.8C1741.2 382.9 1735.7 379.7 1731.6 378.6C1727.5 377.5 1722.9 377.2 1718.6 377.3C1714.2 377.4 1709.8 378.5 1705.5 379.3C1701.1 380 1696.8 381.2 1692.4 381.8C1688.1 382.5 1683.7 382.8 1679.4 383.2C1675 383.5 1670.6 383.7 1666.3 383.8C1661.9 383.9 1657.6 382.5 1653.2 383.8C1648.9 385.1 1644.5 389.3 1640.2 391.7C1635.8 394.1 1631.5 396.9 1627.1 398.2C1622.8 399.5 1618.4 399.7 1614 399.5C1609.7 399.3 1605.3 397.9 1601 396.9C1596.6 395.9 1592.3 394.6 1587.9 393.6C1583.6 392.6 1579.1 391.8 1574.9 391C1570.6 390.3 1564.5 389.4 1562.4 389Z"/>
<path class="sm" d="M1562.4 349.2C1564.5 351.5 1570.6 358.9 1574.9 362.9C1579.1 366.9 1583.6 370.4 1587.9 373.3C1592.3 376.3 1596.6 378.8 1601 380.6C1605.3 382.3 1609.7 383.3 1614 383.8C1618.4 384.3 1622.8 384.4 1627.1 383.8C1631.5 383.1 1636.3 381.3 1640.2 379.9C1644.1 378.5 1647.8 376.3 1650.6 375.3C1653.4 374.3 1654.5 373.8 1657.1 373.7C1659.8 373.7 1662.6 375 1666.3 375.1C1670 375.1 1675 374.5 1679.4 374C1683.7 373.5 1688.1 372.8 1692.4 372.1C1696.8 371.3 1701.1 370.8 1705.5 369.4C1709.8 368.1 1714.2 366.6 1718.6 364.2C1722.9 361.8 1727.5 358.4 1731.6 355.1C1735.7 351.8 1741.4 346.1 1743.4 344.4"/>
<rect class="fr" x="1338.2" y="0" width="604.4" height="442"/>
<path class="tk" d="M1337.5 421.9h-4.2M1337.5 364.5h-4.2M1337.5 307.1h-4.2M1337.5 249.7h-4.2M1337.5 192.3h-4.2M1337.5 134.9h-4.2M1337.5 77.5h-4.2M1337.5 20.1h-4.2M1365.7 442.7v4.2M1430.3 442.7v4.2M1495 442.7v4.2M1559.6 442.7v4.2M1624.2 442.7v4.2M1688.9 442.7v4.2M1753.5 442.7v4.2M1818.2 442.7v4.2M1882.8 442.7v4.2"/>
<g class="yl">
<text x="1330.2" y="427.3">0.0</text>
<text x="1330.2" y="369.9">0.1</text>
<text x="1330.2" y="312.5">0.2</text>
<text x="1330.2" y="255.1">0.3</text>
<text x="1330.2" y="197.7">0.4</text>
<text x="1330.2" y="140.3">0.5</text>
<text x="1330.2" y="82.9">0.6</text>
<text x="1330.2" y="25.5">0.7</text>
</g>
<g class="xl">
<text x="1377.3" y="460.6">−100</text>
<text x="1441.9" y="460.6">−80</text>
<text x="1506.6" y="460.6">−60</text>
<text x="1571.2" y="460.6">−40</text>
<text x="1635.8" y="460.6">−20</text>
<text x="1700.5" y="460.6">0</text>
<text x="1765.1" y="460.6">20</text>
<text x="1829.8" y="460.6">40</text>
<text x="1894.4" y="460.6">60</text>
</g>
<text class="at" x="1652" y="479.8">Mobility (% changed)</text>
<text class="at" transform="translate(1301.5 221) rotate(-90)">Case ratio</text>
<text class="lt" x="1864.2" y="72.4">Month</text>
<g class="pts" fill-opacity="0.3">
<circle cx="1878" cy="96.2" r="8.6" fill="#800080"/>
<circle cx="1878" cy="123" r="8.6" fill="#FF8C00"/>
<circle cx="1878" cy="149.7" r="8.6" fill="#FFFF00"/>
</g>
<g class="ll">
<text x="1900.2" y="100.9">Jun</text>
<text x="1900.2" y="127.7">Jul</text>
<text x="1900.2" y="154.4">Aug</text>
</g>
</g>
</g>
</svg>
</body>
</html>
